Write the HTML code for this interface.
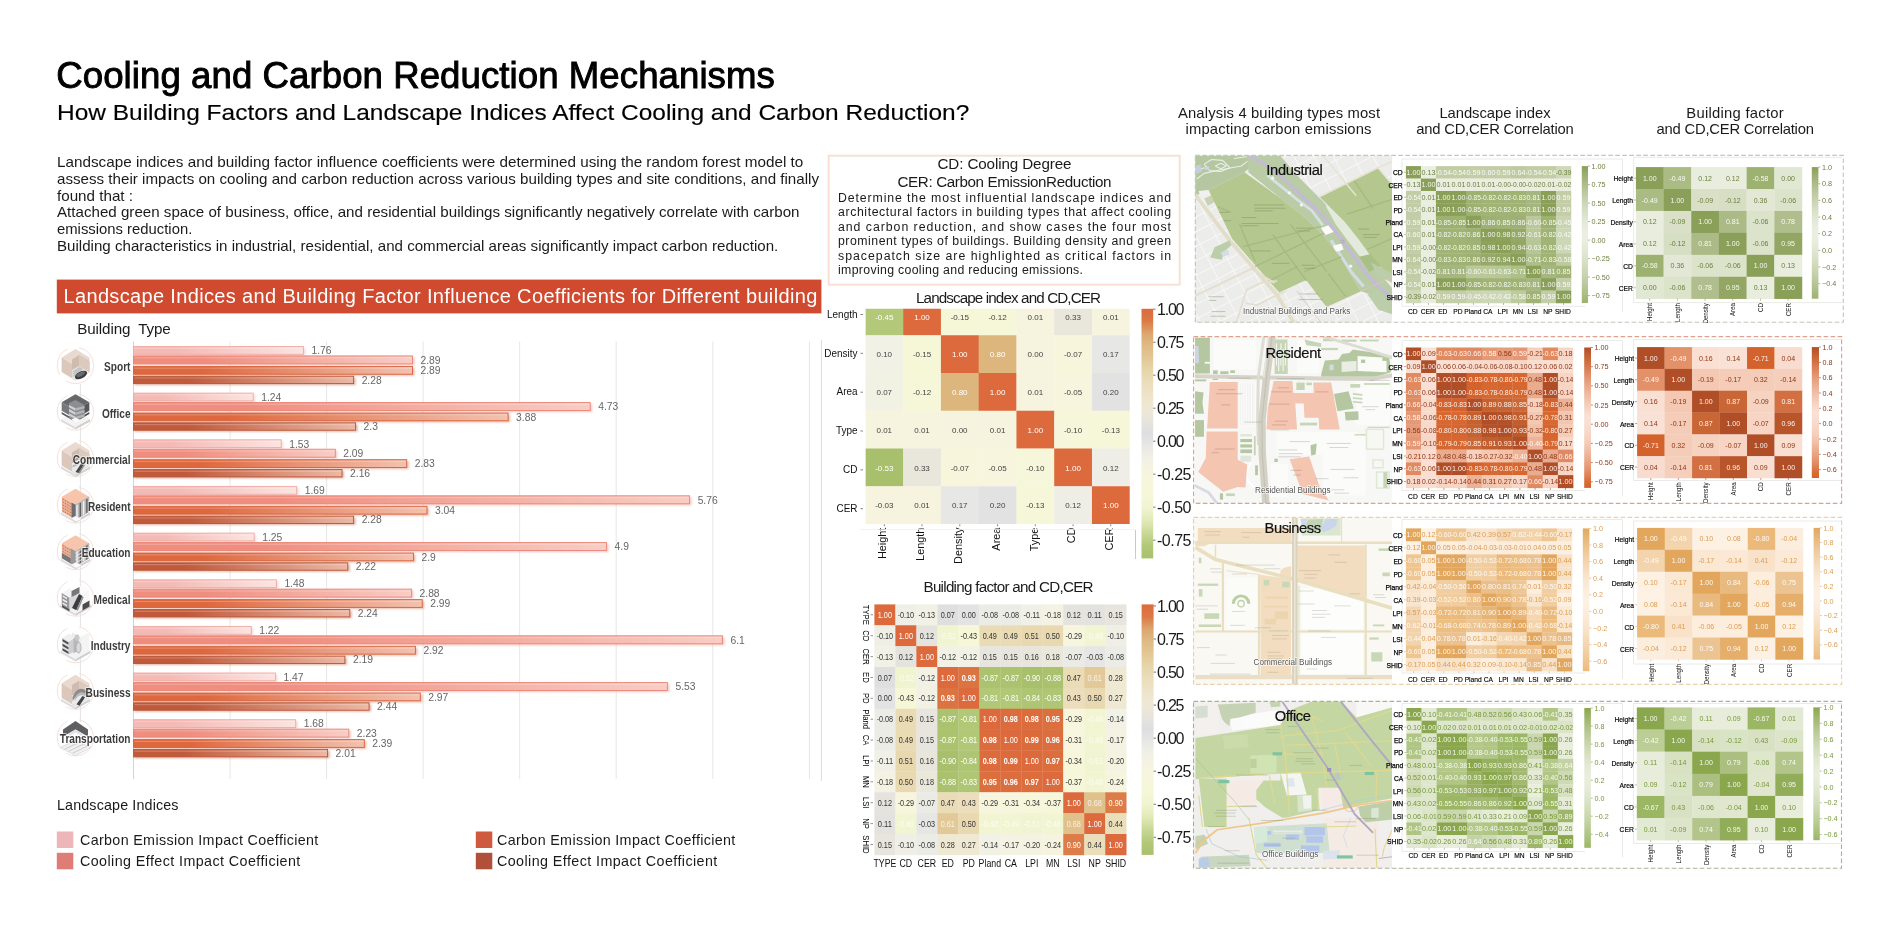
<!DOCTYPE html>
<html><head><meta charset="utf-8"><title>Cooling and Carbon Reduction Mechanisms</title>
<style>
html,body{margin:0;padding:0;background:#fff;}
body{width:1900px;height:927px;overflow:hidden;font-family:"Liberation Sans",sans-serif;}
svg{display:block;will-change:transform;font-family:"Liberation Sans",sans-serif;}
text{white-space:pre;}
</style></head><body>
<svg width="1900" height="927" viewBox="0 0 1900 927">
<text x="56.30" y="87.90" font-size="36.6" fill="#000" textLength="718.50" stroke="#000" stroke-width="0.95">Cooling and Carbon Reduction Mechanisms</text>
<text x="57.00" y="120.10" font-size="22.3" fill="#000" textLength="912.30" lengthAdjust="spacingAndGlyphs" stroke="#000" stroke-width="0.15">How Building Factors and Landscape Indices Affect Cooling and Carbon Reduction?</text>
<text x="57.00" y="166.80" font-size="14.3" fill="#1a1a1a" textLength="746.30" lengthAdjust="spacingAndGlyphs" >Landscape indices and building factor influence coefficients were determined using the random forest model to</text>
<text x="57.00" y="183.70" font-size="14.3" fill="#1a1a1a" textLength="762.00" lengthAdjust="spacingAndGlyphs" >assess their impacts on cooling and carbon reduction across various building types and site conditions, and finally</text>
<text x="57.00" y="200.50" font-size="14.3" fill="#1a1a1a" textLength="76.00" lengthAdjust="spacingAndGlyphs" >found that :</text>
<text x="57.00" y="217.40" font-size="14.3" fill="#1a1a1a" textLength="742.50" lengthAdjust="spacingAndGlyphs" >Attached green space of business, office, and residential buildings significantly negatively correlate with carbon</text>
<text x="57.00" y="234.20" font-size="14.3" fill="#1a1a1a" textLength="135.30" lengthAdjust="spacingAndGlyphs" >emissions reduction.</text>
<text x="57.00" y="250.60" font-size="14.3" fill="#1a1a1a" textLength="721.30" lengthAdjust="spacingAndGlyphs" >Building characteristics in industrial, residential, and commercial areas significantly impact carbon reduction.</text>
<rect x="56.8" y="279.6" width="764.6" height="33.8" fill="#cf4a2f"/>
<text x="63.50" y="302.60" font-size="20" fill="#fff" textLength="753.80" >Landscape Indices and Building Factor Influence Coefficients for Different building</text>
<text x="77.30" y="333.60" font-size="15.2" fill="#1a1a1a" textLength="93.40" >Building  Type</text>
<line x1="133.5" y1="341.5" x2="133.5" y2="779" stroke="#d4d4d4" stroke-width="1"/>
<line x1="230.1" y1="341.5" x2="230.1" y2="779" stroke="#e6e6e6" stroke-width="1"/>
<line x1="326.6" y1="341.5" x2="326.6" y2="779" stroke="#e6e6e6" stroke-width="1"/>
<line x1="423.1" y1="341.5" x2="423.1" y2="779" stroke="#e6e6e6" stroke-width="1"/>
<line x1="519.7" y1="341.5" x2="519.7" y2="779" stroke="#e6e6e6" stroke-width="1"/>
<line x1="616.2" y1="341.5" x2="616.2" y2="779" stroke="#e6e6e6" stroke-width="1"/>
<line x1="712.8" y1="341.5" x2="712.8" y2="779" stroke="#e6e6e6" stroke-width="1"/>
<line x1="809.4" y1="341.5" x2="809.4" y2="779" stroke="#e6e6e6" stroke-width="1"/>
<line x1="821.4" y1="340" x2="821.4" y2="781" stroke="#dcdcdc" stroke-width="1"/>
<line x1="80.4" y1="384" x2="80.4" y2="722" stroke="#dcdcdc" stroke-width="0.8"/>
<defs>
<linearGradient id="bg0" x1="0" x2="1" y1="0" y2="0"><stop offset="0" stop-color="#f4bab5"/><stop offset="0.25" stop-color="#f4bab5"/><stop offset="1" stop-color="#fbe4e1"/></linearGradient>
<linearGradient id="bg1" x1="0" x2="1" y1="0" y2="0"><stop offset="0" stop-color="#ef8d7e"/><stop offset="0.25" stop-color="#ef8d7e"/><stop offset="1" stop-color="#f8cdc5"/></linearGradient>
<linearGradient id="bg2" x1="0" x2="1" y1="0" y2="0"><stop offset="0" stop-color="#de683e"/><stop offset="0.25" stop-color="#de683e"/><stop offset="1" stop-color="#f2c2b0"/></linearGradient>
<linearGradient id="bg3" x1="0" x2="1" y1="0" y2="0"><stop offset="0" stop-color="#c05a3b"/><stop offset="0.25" stop-color="#c05a3b"/><stop offset="1" stop-color="#ecb8a5"/></linearGradient>
<filter id="sh" x="-5%" y="-50%" width="110%" height="220%"><feGaussianBlur stdDeviation="1.1"/></filter>
<filter id="blur1" x="-10%" y="-10%" width="120%" height="120%"><feGaussianBlur stdDeviation="0.5"/></filter>
</defs>
<rect x="134.5" y="348.0" width="170.9" height="7.8" fill="#f0aaa3" opacity="0.45" filter="url(#sh)"/>
<rect x="133.5" y="346.5" width="169.9" height="7.8" fill="url(#bg0)" stroke="#f0aaa3" stroke-width="0.9"/>
<rect x="134.5" y="347.7" width="167.9" height="1.2" fill="#fff" opacity="0.22"/>
<text x="311.43" y="354.20" font-size="10.3" fill="#666" >1.76</text>
<rect x="134.5" y="357.4" width="280.0" height="8.0" fill="#ec8577" opacity="0.45" filter="url(#sh)"/>
<rect x="133.5" y="355.9" width="279.0" height="8.0" fill="url(#bg1)" stroke="#ec8577" stroke-width="0.9"/>
<rect x="134.5" y="357.1" width="277.0" height="1.2" fill="#fff" opacity="0.22"/>
<text x="420.53" y="363.80" font-size="10.3" fill="#666" >2.89</text>
<rect x="134.5" y="367.9" width="280.0" height="7.8" fill="#d7603a" opacity="0.45" filter="url(#sh)"/>
<rect x="133.5" y="366.4" width="279.0" height="7.8" fill="url(#bg2)" stroke="#d7603a" stroke-width="0.9"/>
<rect x="134.5" y="367.6" width="277.0" height="1.2" fill="#fff" opacity="0.22"/>
<text x="420.53" y="374.10" font-size="10.3" fill="#666" >2.89</text>
<rect x="134.5" y="377.7" width="221.1" height="7.4" fill="#b85535" opacity="0.45" filter="url(#sh)"/>
<rect x="133.5" y="376.2" width="220.1" height="7.4" fill="url(#bg3)" stroke="#b85535" stroke-width="0.9"/>
<rect x="134.5" y="377.4" width="218.1" height="1.2" fill="#fff" opacity="0.22"/>
<text x="361.63" y="383.50" font-size="10.3" fill="#666" >2.28</text>
<circle cx="75.5" cy="365.40000000000003" r="18.2" fill="none" stroke="#f3dcd6" stroke-width="0.9" stroke-dasharray="38 9 30 12"/>
<g filter="url(#blur1)">
<polygon points="75.5,349.0 89.4,357.5 75.5,366.0 61.6,357.5" fill="#ead9ce" /><polygon points="61.6,357.5 75.5,366.0 75.5,380.6 61.6,372.1" fill="#dcc7bb" /><polygon points="89.4,357.5 75.5,366.0 75.5,380.6 89.4,372.1" fill="#e4d2c7" />
<polygon points="72.0,359.4 79.0,355.1 89.4,361.2 89.4,372.1 75.5,380.6 72.0,378.4" fill="#cfbbaf" />
<polygon points="79.0,355.1 89.4,361.2 89.4,372.1 79.0,366.2" fill="#dccabf" />
<polygon points="72.0,369.9 79.0,366.2 89.4,372.1 75.5,380.6 72.0,378.4" fill="#e9e9e9" />
<polygon points="72.5,370.9 79.5,367.0 83.5,369.2 72.5,372.4" fill="#c4c4c4" />
<polygon points="72.5,373.2 79.5,369.3 83.5,371.5 72.5,374.7" fill="#c4c4c4" />
<polygon points="72.5,375.5 79.5,371.6 83.5,373.8 72.5,377.0" fill="#c4c4c4" />
<ellipse cx="81.0" cy="375.00000000000006" rx="6.6" ry="3.4" fill="#3c3c3e" transform="rotate(-27 81.0 375.00000000000006)"/>
<ellipse cx="80.7" cy="374.20000000000005" rx="4.6" ry="2" fill="#6a6a6c" transform="rotate(-27 80.7 374.20000000000005)"/>
</g>
<text x="130.5" y="371.2" font-size="13.2" font-weight="bold" fill="#3c3c3c" text-anchor="end" textLength="26.4" lengthAdjust="spacingAndGlyphs" stroke="#fff" stroke-width="2" stroke-opacity="0.55" paint-order="stroke">Sport</text>
<rect x="134.5" y="394.6" width="120.7" height="7.8" fill="#f0aaa3" opacity="0.45" filter="url(#sh)"/>
<rect x="133.5" y="393.1" width="119.7" height="7.8" fill="url(#bg0)" stroke="#f0aaa3" stroke-width="0.9"/>
<rect x="134.5" y="394.3" width="117.7" height="1.2" fill="#fff" opacity="0.22"/>
<text x="261.22" y="400.85" font-size="10.3" fill="#666" >1.24</text>
<rect x="134.5" y="404.0" width="457.7" height="8.0" fill="#ec8577" opacity="0.45" filter="url(#sh)"/>
<rect x="133.5" y="402.5" width="456.7" height="8.0" fill="url(#bg1)" stroke="#ec8577" stroke-width="0.9"/>
<rect x="134.5" y="403.7" width="454.7" height="1.2" fill="#fff" opacity="0.22"/>
<text x="598.18" y="410.45" font-size="10.3" fill="#666" >4.73</text>
<rect x="134.5" y="414.5" width="375.6" height="7.8" fill="#d7603a" opacity="0.45" filter="url(#sh)"/>
<rect x="133.5" y="413.0" width="374.6" height="7.8" fill="url(#bg2)" stroke="#d7603a" stroke-width="0.9"/>
<rect x="134.5" y="414.2" width="372.6" height="1.2" fill="#fff" opacity="0.22"/>
<text x="516.11" y="420.75" font-size="10.3" fill="#666" >3.88</text>
<rect x="134.5" y="424.3" width="223.1" height="7.4" fill="#b85535" opacity="0.45" filter="url(#sh)"/>
<rect x="133.5" y="422.8" width="222.1" height="7.4" fill="url(#bg3)" stroke="#b85535" stroke-width="0.9"/>
<rect x="134.5" y="424.0" width="220.1" height="1.2" fill="#fff" opacity="0.22"/>
<text x="363.56" y="430.15" font-size="10.3" fill="#666" >2.3</text>
<circle cx="75.5" cy="411.93" r="18.2" fill="none" stroke="#f3dcd6" stroke-width="0.9" stroke-dasharray="38 9 30 12"/>
<g filter="url(#blur1)">
<polygon points="61.0,418.9 75.5,427.1 75.5,429.6 61.0,421.4" fill="#dcdcdc" /><polygon points="90.0,418.9 75.5,427.1 75.5,429.6 90.0,421.4" fill="#cfcfcf" /><polygon points="75.5,410.7 90.0,418.9 75.5,427.1 61.0,418.9" fill="#f3f3f3" />
<polygon points="75.5,394.3 89.3,402.3 75.5,410.3 61.7,402.3" fill="#66676b" /><polygon points="61.7,402.3 75.5,410.3 75.5,418.8 61.7,410.8" fill="#77787c" /><polygon points="89.3,402.3 75.5,410.3 75.5,418.8 89.3,410.8" fill="#56575b" />
<polygon points="61.7,411.9 75.5,419.9 75.5,421.9 61.7,413.9" fill="#5c5d60" />
<polygon points="89.3,411.9 75.5,419.9 75.5,421.9 89.3,413.9" fill="#4a4b4e" />
<polygon points="69.0,403.1 75.5,399.9 84.5,404.9 84.5,416.4 75.5,421.4 69.0,417.9" fill="#8d8e91" />
<polygon points="69.0,404.9 75.5,408.3 75.5,410.7 69.0,407.3" fill="#d2d2d4" />
<polygon points="84.5,405.9 75.5,408.3 75.5,410.7 84.5,408.3" fill="#b4b4b7" />
<polygon points="69.0,409.1 75.5,412.5 75.5,414.9 69.0,411.5" fill="#d2d2d4" />
<polygon points="84.5,410.1 75.5,412.5 75.5,414.9 84.5,412.5" fill="#b4b4b7" />
<polygon points="69.0,413.3 75.5,416.7 75.5,419.1 69.0,415.7" fill="#d2d2d4" />
<polygon points="84.5,414.3 75.5,416.7 75.5,419.1 84.5,416.7" fill="#b4b4b7" />
<polygon points="71.5,419.4 75.5,417.4 80.5,419.9 75.5,422.9" fill="#fafafa" />
</g>
<text x="130.5" y="417.7" font-size="13.2" font-weight="bold" fill="#3c3c3c" text-anchor="end" textLength="28.6" lengthAdjust="spacingAndGlyphs" stroke="#fff" stroke-width="2" stroke-opacity="0.55" paint-order="stroke">Office</text>
<rect x="134.5" y="441.3" width="148.7" height="7.8" fill="#f0aaa3" opacity="0.45" filter="url(#sh)"/>
<rect x="133.5" y="439.8" width="147.7" height="7.8" fill="url(#bg0)" stroke="#f0aaa3" stroke-width="0.9"/>
<rect x="134.5" y="441.0" width="145.7" height="1.2" fill="#fff" opacity="0.22"/>
<text x="289.22" y="447.50" font-size="10.3" fill="#666" >1.53</text>
<rect x="134.5" y="450.7" width="202.8" height="8.0" fill="#ec8577" opacity="0.45" filter="url(#sh)"/>
<rect x="133.5" y="449.2" width="201.8" height="8.0" fill="url(#bg1)" stroke="#ec8577" stroke-width="0.9"/>
<rect x="134.5" y="450.4" width="199.8" height="1.2" fill="#fff" opacity="0.22"/>
<text x="343.29" y="457.10" font-size="10.3" fill="#666" >2.09</text>
<rect x="134.5" y="461.2" width="274.2" height="7.8" fill="#d7603a" opacity="0.45" filter="url(#sh)"/>
<rect x="133.5" y="459.7" width="273.2" height="7.8" fill="url(#bg2)" stroke="#d7603a" stroke-width="0.9"/>
<rect x="134.5" y="460.9" width="271.2" height="1.2" fill="#fff" opacity="0.22"/>
<text x="414.74" y="467.40" font-size="10.3" fill="#666" >2.83</text>
<rect x="134.5" y="471.0" width="209.5" height="7.4" fill="#b85535" opacity="0.45" filter="url(#sh)"/>
<rect x="133.5" y="469.5" width="208.5" height="7.4" fill="url(#bg3)" stroke="#b85535" stroke-width="0.9"/>
<rect x="134.5" y="470.7" width="206.5" height="1.2" fill="#fff" opacity="0.22"/>
<text x="350.05" y="476.80" font-size="10.3" fill="#666" >2.16</text>
<circle cx="75.5" cy="458.46000000000004" r="18.2" fill="none" stroke="#f3dcd6" stroke-width="0.9" stroke-dasharray="38 9 30 12"/>
<g filter="url(#blur1)">
<polygon points="61.0,466.2 75.5,474.4 75.5,476.9 61.0,468.7" fill="#dcdcdc" /><polygon points="90.0,466.2 75.5,474.4 75.5,476.9 90.0,468.7" fill="#cfcfcf" /><polygon points="75.5,458.0 90.0,466.2 75.5,474.4 61.0,466.2" fill="#f3f3f3" />
<polygon points="75.5,442.1 89.4,450.6 75.5,459.1 61.6,450.6" fill="#ead9ce" /><polygon points="61.6,450.6 75.5,459.1 75.5,473.7 61.6,465.2" fill="#dcc7bb" /><polygon points="89.4,450.6 75.5,459.1 75.5,473.7 89.4,465.2" fill="#e4d2c7" />
<polygon points="72.0,452.5 79.0,448.2 89.4,454.3 89.4,465.2 75.5,473.7 72.0,471.5" fill="#cfbbaf" />
<polygon points="79.0,448.2 89.4,454.3 89.4,465.2 79.0,459.3" fill="#dccabf" />
<polygon points="72.0,463.0 79.0,459.3 89.4,465.2 75.5,473.7 72.0,471.5" fill="#e9e9e9" />
<polygon points="72.5,460.5 78.5,457.5 78.5,459.5 72.5,462.5" fill="#9c9c9e" />
<polygon points="72.5,465.5 78.5,462.5 78.5,464.5 72.5,467.5" fill="#b5b5b7" />
<polygon points="75.5,472.0 81.5,463.0 84.0,464.3 78.7,473.0" fill="#4a4a4c" />
<polygon points="78.5,472.5 84.0,464.5 85.0,465.1 79.9,473.3" fill="#8a8a8c" />
</g>
<text x="130.5" y="464.3" font-size="13.2" font-weight="bold" fill="#3c3c3c" text-anchor="end" textLength="57.8" lengthAdjust="spacingAndGlyphs" stroke="#fff" stroke-width="2" stroke-opacity="0.55" paint-order="stroke">Commercial</text>
<rect x="134.5" y="487.9" width="164.2" height="7.8" fill="#f0aaa3" opacity="0.45" filter="url(#sh)"/>
<rect x="133.5" y="486.4" width="163.2" height="7.8" fill="url(#bg0)" stroke="#f0aaa3" stroke-width="0.9"/>
<rect x="134.5" y="487.6" width="161.2" height="1.2" fill="#fff" opacity="0.22"/>
<text x="304.67" y="494.15" font-size="10.3" fill="#666" >1.69</text>
<rect x="134.5" y="497.3" width="557.1" height="8.0" fill="#ec8577" opacity="0.45" filter="url(#sh)"/>
<rect x="133.5" y="495.8" width="556.1" height="8.0" fill="url(#bg1)" stroke="#ec8577" stroke-width="0.9"/>
<rect x="134.5" y="497.0" width="554.1" height="1.2" fill="#fff" opacity="0.22"/>
<text x="697.63" y="503.75" font-size="10.3" fill="#666" >5.76</text>
<rect x="134.5" y="507.8" width="294.5" height="7.8" fill="#d7603a" opacity="0.45" filter="url(#sh)"/>
<rect x="133.5" y="506.3" width="293.5" height="7.8" fill="url(#bg2)" stroke="#d7603a" stroke-width="0.9"/>
<rect x="134.5" y="507.5" width="291.5" height="1.2" fill="#fff" opacity="0.22"/>
<text x="435.01" y="514.05" font-size="10.3" fill="#666" >3.04</text>
<rect x="134.5" y="517.6" width="221.1" height="7.4" fill="#b85535" opacity="0.45" filter="url(#sh)"/>
<rect x="133.5" y="516.1" width="220.1" height="7.4" fill="url(#bg3)" stroke="#b85535" stroke-width="0.9"/>
<rect x="134.5" y="517.4" width="218.1" height="1.2" fill="#fff" opacity="0.22"/>
<text x="361.63" y="523.45" font-size="10.3" fill="#666" >2.28</text>
<circle cx="75.5" cy="504.99000000000007" r="18.2" fill="none" stroke="#f3dcd6" stroke-width="0.9" stroke-dasharray="38 9 30 12"/>
<g filter="url(#blur1)">
<polygon points="61.0,512.2 75.5,520.4 75.5,522.9 61.0,514.7" fill="#dcdcdc" /><polygon points="90.0,512.2 75.5,520.4 75.5,522.9 90.0,514.7" fill="#cfcfcf" /><polygon points="75.5,504.0 90.0,512.2 75.5,520.4 61.0,512.2" fill="#f3f3f3" />
<polygon points="75.5,488.8 89.1,496.8 75.5,504.8 61.9,496.8" fill="#f6c5ab" /><polygon points="61.9,496.8 75.5,504.8 75.5,519.8 61.9,511.8" fill="#eeb094" /><polygon points="89.1,496.8 75.5,504.8 75.5,519.8 89.1,511.8" fill="#8a8a8c" />
<polygon points="75.5,504.8 89.1,496.8 89.1,511.8 75.5,519.8" fill="#b9b9bb" />
<polygon points="76.3,505.2 77.7,504.4 77.7,518.2 76.3,519.0" fill="#f2f2f2" />
<polygon points="79.6,503.2 81.0,502.4 81.0,516.2 79.6,517.0" fill="#5e5e60" />
<polygon points="82.9,501.3 84.3,500.5 84.3,514.3 82.9,515.1" fill="#f2f2f2" />
<polygon points="86.2,499.3 87.6,498.5 87.6,512.3 86.2,513.1" fill="#5e5e60" />
<polygon points="71.5,502.4 75.5,504.8 75.5,519.8 71.5,517.4" fill="#6e6e70" />
<line x1="62.5" y1="499.0" x2="71.0" y2="504.1" stroke="#b67a62" stroke-width="1.0" stroke-dasharray="1.6 1.1"/>
<line x1="62.5" y1="501.9" x2="71.0" y2="507.0" stroke="#b67a62" stroke-width="1.0" stroke-dasharray="1.6 1.1"/>
<line x1="62.5" y1="504.8" x2="71.0" y2="509.9" stroke="#b67a62" stroke-width="1.0" stroke-dasharray="1.6 1.1"/>
<line x1="62.5" y1="507.7" x2="71.0" y2="512.8" stroke="#b67a62" stroke-width="1.0" stroke-dasharray="1.6 1.1"/>
<line x1="62.5" y1="510.6" x2="71.0" y2="515.7" stroke="#b67a62" stroke-width="1.0" stroke-dasharray="1.6 1.1"/>
<polygon points="71.5,518.0 75.5,516.0 81.5,519.0 76.5,521.6" fill="#fafafa" />
</g>
<text x="130.5" y="510.8" font-size="13.2" font-weight="bold" fill="#3c3c3c" text-anchor="end" textLength="42.6" lengthAdjust="spacingAndGlyphs" stroke="#fff" stroke-width="2" stroke-opacity="0.55" paint-order="stroke">Resident</text>
<rect x="134.5" y="534.6" width="121.7" height="7.8" fill="#f0aaa3" opacity="0.45" filter="url(#sh)"/>
<rect x="133.5" y="533.1" width="120.7" height="7.8" fill="url(#bg0)" stroke="#f0aaa3" stroke-width="0.9"/>
<rect x="134.5" y="534.3" width="118.7" height="1.2" fill="#fff" opacity="0.22"/>
<text x="262.19" y="540.80" font-size="10.3" fill="#666" >1.25</text>
<rect x="134.5" y="544.0" width="474.1" height="8.0" fill="#ec8577" opacity="0.45" filter="url(#sh)"/>
<rect x="133.5" y="542.5" width="473.1" height="8.0" fill="url(#bg1)" stroke="#ec8577" stroke-width="0.9"/>
<rect x="134.5" y="543.7" width="471.1" height="1.2" fill="#fff" opacity="0.22"/>
<text x="614.60" y="550.40" font-size="10.3" fill="#666" >4.9</text>
<rect x="134.5" y="554.5" width="281.0" height="7.8" fill="#d7603a" opacity="0.45" filter="url(#sh)"/>
<rect x="133.5" y="553.0" width="280.0" height="7.8" fill="url(#bg2)" stroke="#d7603a" stroke-width="0.9"/>
<rect x="134.5" y="554.2" width="278.0" height="1.2" fill="#fff" opacity="0.22"/>
<text x="421.50" y="560.70" font-size="10.3" fill="#666" >2.9</text>
<rect x="134.5" y="564.3" width="215.3" height="7.4" fill="#b85535" opacity="0.45" filter="url(#sh)"/>
<rect x="133.5" y="562.8" width="214.3" height="7.4" fill="url(#bg3)" stroke="#b85535" stroke-width="0.9"/>
<rect x="134.5" y="564.0" width="212.3" height="1.2" fill="#fff" opacity="0.22"/>
<text x="355.84" y="570.10" font-size="10.3" fill="#666" >2.22</text>
<circle cx="75.5" cy="551.52" r="18.2" fill="none" stroke="#f3dcd6" stroke-width="0.9" stroke-dasharray="38 9 30 12"/>
<g filter="url(#blur1)">
<polygon points="61.0,558.7 75.5,566.9 75.5,569.4 61.0,561.2" fill="#dcdcdc" /><polygon points="90.0,558.7 75.5,566.9 75.5,569.4 90.0,561.2" fill="#cfcfcf" /><polygon points="75.5,550.5 90.0,558.7 75.5,566.9 61.0,558.7" fill="#f3f3f3" />
<polygon points="75.5,535.3 89.1,543.3 75.5,551.3 61.9,543.3" fill="#f6c5ab" /><polygon points="61.9,543.3 75.5,551.3 75.5,566.3 61.9,558.3" fill="#eeb094" /><polygon points="89.1,543.3 75.5,551.3 75.5,566.3 89.1,558.3" fill="#8a8a8c" />
<polygon points="75.5,551.3 89.1,543.3 89.1,558.3 75.5,566.3" fill="#b9b9bb" />
<polygon points="76.3,551.7 77.7,550.9 77.7,564.7 76.3,565.5" fill="#f2f2f2" />
<polygon points="79.6,549.8 81.0,549.0 81.0,562.8 79.6,563.6" fill="#5e5e60" />
<polygon points="82.9,547.8 84.3,547.0 84.3,560.8 82.9,561.6" fill="#f2f2f2" />
<polygon points="86.2,545.9 87.6,545.1 87.6,558.9 86.2,559.7" fill="#5e5e60" />
<polygon points="61.9,553.0 75.5,561.0 75.5,566.3 61.9,558.3" fill="#77777a" />
<polygon points="70.5,548.3 75.5,551.3 75.5,566.3 70.5,563.3" fill="#9a9a9c" />
<line x1="62.5" y1="545.5" x2="70.0" y2="550.0" stroke="#b67a62" stroke-width="1.0" stroke-dasharray="1.6 1.1"/>
<line x1="62.5" y1="548.4" x2="70.0" y2="552.9" stroke="#b67a62" stroke-width="1.0" stroke-dasharray="1.6 1.1"/>
<line x1="62.5" y1="551.3" x2="70.0" y2="555.8" stroke="#b67a62" stroke-width="1.0" stroke-dasharray="1.6 1.1"/>
<polygon points="75.5,552.5 85.5,546.6 85.5,547.6 75.5,553.5" fill="#e4e4e4" />
<polygon points="75.5,555.9 85.5,550.0 85.5,551.0 75.5,556.9" fill="#e4e4e4" />
<polygon points="75.5,559.3 85.5,553.4 85.5,554.4 75.5,560.3" fill="#e4e4e4" />
<polygon points="75.5,562.7 85.5,556.8 85.5,557.8 75.5,563.7" fill="#e4e4e4" />
<polygon points="71.5,564.5 75.5,562.5 81.5,565.5 76.5,568.1" fill="#fafafa" />
</g>
<text x="130.5" y="557.3" font-size="13.2" font-weight="bold" fill="#3c3c3c" text-anchor="end" textLength="48.8" lengthAdjust="spacingAndGlyphs" stroke="#fff" stroke-width="2" stroke-opacity="0.55" paint-order="stroke">Education</text>
<rect x="134.5" y="581.2" width="143.9" height="7.8" fill="#f0aaa3" opacity="0.45" filter="url(#sh)"/>
<rect x="133.5" y="579.8" width="142.9" height="7.8" fill="url(#bg0)" stroke="#f0aaa3" stroke-width="0.9"/>
<rect x="134.5" y="581.0" width="140.9" height="1.2" fill="#fff" opacity="0.22"/>
<text x="284.39" y="587.45" font-size="10.3" fill="#666" >1.48</text>
<rect x="134.5" y="590.6" width="279.1" height="8.0" fill="#ec8577" opacity="0.45" filter="url(#sh)"/>
<rect x="133.5" y="589.1" width="278.1" height="8.0" fill="url(#bg1)" stroke="#ec8577" stroke-width="0.9"/>
<rect x="134.5" y="590.4" width="276.1" height="1.2" fill="#fff" opacity="0.22"/>
<text x="419.56" y="597.05" font-size="10.3" fill="#666" >2.88</text>
<rect x="134.5" y="601.1" width="289.7" height="7.8" fill="#d7603a" opacity="0.45" filter="url(#sh)"/>
<rect x="133.5" y="599.6" width="288.7" height="7.8" fill="url(#bg2)" stroke="#d7603a" stroke-width="0.9"/>
<rect x="134.5" y="600.9" width="286.7" height="1.2" fill="#fff" opacity="0.22"/>
<text x="430.18" y="607.35" font-size="10.3" fill="#666" >2.99</text>
<rect x="134.5" y="611.0" width="217.3" height="7.4" fill="#b85535" opacity="0.45" filter="url(#sh)"/>
<rect x="133.5" y="609.5" width="216.3" height="7.4" fill="url(#bg3)" stroke="#b85535" stroke-width="0.9"/>
<rect x="134.5" y="610.7" width="214.3" height="1.2" fill="#fff" opacity="0.22"/>
<text x="357.77" y="616.75" font-size="10.3" fill="#666" >2.24</text>
<circle cx="75.5" cy="598.05" r="18.2" fill="none" stroke="#f3dcd6" stroke-width="0.9" stroke-dasharray="38 9 30 12"/>
<g filter="url(#blur1)">
<polygon points="60.0,604.8 75.5,613.4 75.5,615.9 60.0,607.3" fill="#dcdcdc" /><polygon points="91.0,604.8 75.5,613.4 75.5,615.9 91.0,607.3" fill="#cfcfcf" /><polygon points="75.5,596.2 91.0,604.8 75.5,613.4 60.0,604.8" fill="#f3f3f3" />
<polygon points="81.5,585.5 89.0,589.9 81.5,594.3 74.0,589.9" fill="#fbfbfb" /><polygon points="74.0,589.9 81.5,594.3 81.5,607.3 74.0,602.9" fill="#e9e9e9" /><polygon points="89.0,589.9 81.5,594.3 81.5,607.3 89.0,602.9" fill="#f6f6f6" />
<polygon points="69.5,588.5 77.3,593.1 69.5,597.8 61.7,593.1" fill="#f4f4f4" /><polygon points="61.7,593.1 69.5,597.8 69.5,609.8 61.7,605.1" fill="#9a9a9c" /><polygon points="77.3,593.1 69.5,597.8 69.5,609.8 77.3,605.1" fill="#d8d8da" />
<polygon points="62.7,595.2 67.0,597.8 67.0,599.3 62.7,596.8" fill="#f2f2f2" />
<polygon points="62.7,598.8 67.0,601.3 67.0,602.9 62.7,600.4" fill="#f2f2f2" />
<polygon points="62.7,602.4 67.0,604.9 67.0,606.5 62.7,604.0" fill="#f2f2f2" />
<polygon points="71.5,591.0 79.5,587.0 79.5,593.0 71.5,597.0" fill="#77777a" />
<polygon points="72.0,608.0 79.0,594.0 82.5,596.0 76.3,610.3" fill="#3e3e40" />
<polygon points="76.5,610.0 82.5,596.4 83.7,597.0 77.9,610.8" fill="#8c8c8e" />
<polygon points="82.5,604.5 89.5,600.5 89.5,606.5 82.5,610.5" fill="#4c4c4e" />
<polygon points="62.0,605.0 69.5,609.2 69.5,611.4 62.0,607.2" fill="#555557" />
</g>
<text x="130.5" y="603.9" font-size="13.2" font-weight="bold" fill="#3c3c3c" text-anchor="end" textLength="37.0" lengthAdjust="spacingAndGlyphs" stroke="#fff" stroke-width="2" stroke-opacity="0.55" paint-order="stroke">Medical</text>
<rect x="134.5" y="627.9" width="118.8" height="7.8" fill="#f0aaa3" opacity="0.45" filter="url(#sh)"/>
<rect x="133.5" y="626.4" width="117.8" height="7.8" fill="url(#bg0)" stroke="#f0aaa3" stroke-width="0.9"/>
<rect x="134.5" y="627.6" width="115.8" height="1.2" fill="#fff" opacity="0.22"/>
<text x="259.29" y="634.10" font-size="10.3" fill="#666" >1.22</text>
<rect x="134.5" y="637.3" width="590.0" height="8.0" fill="#ec8577" opacity="0.45" filter="url(#sh)"/>
<rect x="133.5" y="635.8" width="589.0" height="8.0" fill="url(#bg1)" stroke="#ec8577" stroke-width="0.9"/>
<rect x="134.5" y="637.0" width="587.0" height="1.2" fill="#fff" opacity="0.22"/>
<text x="730.45" y="643.70" font-size="10.3" fill="#666" >6.1</text>
<rect x="134.5" y="647.8" width="282.9" height="7.8" fill="#d7603a" opacity="0.45" filter="url(#sh)"/>
<rect x="133.5" y="646.3" width="281.9" height="7.8" fill="url(#bg2)" stroke="#d7603a" stroke-width="0.9"/>
<rect x="134.5" y="647.5" width="279.9" height="1.2" fill="#fff" opacity="0.22"/>
<text x="423.43" y="654.00" font-size="10.3" fill="#666" >2.92</text>
<rect x="134.5" y="657.6" width="212.4" height="7.4" fill="#b85535" opacity="0.45" filter="url(#sh)"/>
<rect x="133.5" y="656.1" width="211.4" height="7.4" fill="url(#bg3)" stroke="#b85535" stroke-width="0.9"/>
<rect x="134.5" y="657.3" width="209.4" height="1.2" fill="#fff" opacity="0.22"/>
<text x="352.94" y="663.40" font-size="10.3" fill="#666" >2.19</text>
<circle cx="75.5" cy="644.5799999999999" r="18.2" fill="none" stroke="#f3dcd6" stroke-width="0.9" stroke-dasharray="38 9 30 12"/>
<g filter="url(#blur1)">
<polygon points="60.5,650.5 75.5,658.9 75.5,661.4 60.5,653.0" fill="#dcdcdc" /><polygon points="90.5,650.5 75.5,658.9 75.5,661.4 90.5,653.0" fill="#cfcfcf" /><polygon points="75.5,642.1 90.5,650.5 75.5,658.9 60.5,650.5" fill="#f3f3f3" />
<polygon points="80.5,627.6 89.0,632.6 80.5,637.6 72.0,632.6" fill="#fdfdfd" /><polygon points="72.0,632.6 80.5,637.6 80.5,654.6 72.0,649.6" fill="#ebebeb" /><polygon points="89.0,632.6 80.5,637.6 80.5,654.6 89.0,649.6" fill="#f4f4f4" />
<polygon points="69.0,633.6 75.8,637.6 69.0,641.6 62.2,637.6" fill="#f0f0f0" /><polygon points="62.2,637.6 69.0,641.6 69.0,654.6 62.2,650.6" fill="#dedede" /><polygon points="75.8,637.6 69.0,641.6 69.0,654.6 75.8,650.6" fill="#cfcfd1" />
<polygon points="62.5,639.1 68.5,642.6 68.5,644.8 62.5,641.3" fill="#4e4e50" />
<polygon points="62.5,643.7 68.5,647.2 68.5,649.4 62.5,645.9" fill="#4e4e50" />
<polygon points="62.5,648.3 68.5,651.8 68.5,654.0 62.5,650.5" fill="#4e4e50" />
<polygon points="73.5,638.6 78.5,635.6 78.5,650.6 73.5,653.6" fill="#b9b9bb" />
<ellipse cx="78.5" cy="647.5799999999999" rx="2.6" ry="5.4" fill="#d9d9db" stroke="#9a9a9c" stroke-width="0.6"/>
<ellipse cx="77.0" cy="637.5799999999999" rx="2.4" ry="3.2" fill="#c9c9cb"/>
</g>
<text x="130.5" y="650.4" font-size="13.2" font-weight="bold" fill="#3c3c3c" text-anchor="end" textLength="39.8" lengthAdjust="spacingAndGlyphs" stroke="#fff" stroke-width="2" stroke-opacity="0.55" paint-order="stroke">Industry</text>
<rect x="134.5" y="674.5" width="142.9" height="7.8" fill="#f0aaa3" opacity="0.45" filter="url(#sh)"/>
<rect x="133.5" y="673.0" width="141.9" height="7.8" fill="url(#bg0)" stroke="#f0aaa3" stroke-width="0.9"/>
<rect x="134.5" y="674.2" width="139.9" height="1.2" fill="#fff" opacity="0.22"/>
<text x="283.43" y="680.75" font-size="10.3" fill="#666" >1.47</text>
<rect x="134.5" y="684.0" width="534.9" height="8.0" fill="#ec8577" opacity="0.45" filter="url(#sh)"/>
<rect x="133.5" y="682.5" width="533.9" height="8.0" fill="url(#bg1)" stroke="#ec8577" stroke-width="0.9"/>
<rect x="134.5" y="683.7" width="531.9" height="1.2" fill="#fff" opacity="0.22"/>
<text x="675.42" y="690.35" font-size="10.3" fill="#666" >5.53</text>
<rect x="134.5" y="694.5" width="287.8" height="7.8" fill="#d7603a" opacity="0.45" filter="url(#sh)"/>
<rect x="133.5" y="693.0" width="286.8" height="7.8" fill="url(#bg2)" stroke="#d7603a" stroke-width="0.9"/>
<rect x="134.5" y="694.2" width="284.8" height="1.2" fill="#fff" opacity="0.22"/>
<text x="428.25" y="700.65" font-size="10.3" fill="#666" >2.97</text>
<rect x="134.5" y="704.2" width="236.6" height="7.4" fill="#b85535" opacity="0.45" filter="url(#sh)"/>
<rect x="133.5" y="702.8" width="235.6" height="7.4" fill="url(#bg3)" stroke="#b85535" stroke-width="0.9"/>
<rect x="134.5" y="704.0" width="233.6" height="1.2" fill="#fff" opacity="0.22"/>
<text x="377.08" y="710.05" font-size="10.3" fill="#666" >2.44</text>
<circle cx="75.5" cy="691.11" r="18.2" fill="none" stroke="#f3dcd6" stroke-width="0.9" stroke-dasharray="38 9 30 12"/>
<g filter="url(#blur1)">
<polygon points="61.0,698.8 75.5,707.0 75.5,709.5 61.0,701.3" fill="#dcdcdc" /><polygon points="90.0,698.8 75.5,707.0 75.5,709.5 90.0,701.3" fill="#cfcfcf" /><polygon points="75.5,690.6 90.0,698.8 75.5,707.0 61.0,698.8" fill="#f3f3f3" />
<polygon points="75.5,674.7 89.4,683.2 75.5,691.7 61.6,683.2" fill="#ead9ce" /><polygon points="61.6,683.2 75.5,691.7 75.5,706.3 61.6,697.8" fill="#dcc7bb" /><polygon points="89.4,683.2 75.5,691.7 75.5,706.3 89.4,697.8" fill="#e4d2c7" />
<polygon points="72.0,685.1 79.0,680.8 89.4,686.9 89.4,697.8 75.5,706.3 72.0,704.1" fill="#cfbbaf" />
<polygon points="79.0,680.8 89.4,686.9 89.4,697.8 79.0,691.9" fill="#dccabf" />
<polygon points="72.0,695.6 79.0,691.9 89.4,697.8 75.5,706.3 72.0,704.1" fill="#e9e9e9" />
<path d="M72.5,697.11 Q78.5,684.11 87.5,691.61 L87.5,695.11 Q79.5,688.61 72.5,701.11 Z" fill="#8b8b8d"/>
<path d="M74.5,698.11 Q79.5,689.11 86.0,694.11 L86.0,696.61 Q79.5,692.11 74.5,701.11 Z" fill="#b9b9bb"/>
<polygon points="76.5,704.3 82.5,695.9 85.0,697.3 79.5,705.7" fill="#454547" />
</g>
<text x="130.5" y="696.9" font-size="13.2" font-weight="bold" fill="#3c3c3c" text-anchor="end" textLength="44.9" lengthAdjust="spacingAndGlyphs" stroke="#fff" stroke-width="2" stroke-opacity="0.55" paint-order="stroke">Business</text>
<rect x="134.5" y="721.2" width="163.2" height="7.8" fill="#f0aaa3" opacity="0.45" filter="url(#sh)"/>
<rect x="133.5" y="719.7" width="162.2" height="7.8" fill="url(#bg0)" stroke="#f0aaa3" stroke-width="0.9"/>
<rect x="134.5" y="720.9" width="160.2" height="1.2" fill="#fff" opacity="0.22"/>
<text x="303.70" y="727.40" font-size="10.3" fill="#666" >1.68</text>
<rect x="134.5" y="730.6" width="216.3" height="8.0" fill="#ec8577" opacity="0.45" filter="url(#sh)"/>
<rect x="133.5" y="729.1" width="215.3" height="8.0" fill="url(#bg1)" stroke="#ec8577" stroke-width="0.9"/>
<rect x="134.5" y="730.3" width="213.3" height="1.2" fill="#fff" opacity="0.22"/>
<text x="356.81" y="737.00" font-size="10.3" fill="#666" >2.23</text>
<rect x="134.5" y="741.1" width="231.8" height="7.8" fill="#d7603a" opacity="0.45" filter="url(#sh)"/>
<rect x="133.5" y="739.6" width="230.8" height="7.8" fill="url(#bg2)" stroke="#d7603a" stroke-width="0.9"/>
<rect x="134.5" y="740.8" width="228.8" height="1.2" fill="#fff" opacity="0.22"/>
<text x="372.25" y="747.30" font-size="10.3" fill="#666" >2.39</text>
<rect x="134.5" y="750.9" width="195.1" height="7.4" fill="#b85535" opacity="0.45" filter="url(#sh)"/>
<rect x="133.5" y="749.4" width="194.1" height="7.4" fill="url(#bg3)" stroke="#b85535" stroke-width="0.9"/>
<rect x="134.5" y="750.6" width="192.1" height="1.2" fill="#fff" opacity="0.22"/>
<text x="335.57" y="756.70" font-size="10.3" fill="#666" >2.01</text>
<circle cx="75.5" cy="737.64" r="18.2" fill="none" stroke="#f3dcd6" stroke-width="0.9" stroke-dasharray="38 9 30 12"/>
<g filter="url(#blur1)">
<polygon points="75.5,740.1 91.0,747.6 75.5,755.6 60.0,747.6" fill="#f0f0f0" stroke="#c9c9c9" stroke-width="0.5"/>
<line x1="64.5" y1="749.4" x2="79.5" y2="742.2" stroke="#c4c4c4" stroke-width="0.8"/>
<line x1="68.5" y1="751.3" x2="83.5" y2="744.1" stroke="#c4c4c4" stroke-width="0.8"/>
<line x1="72.5" y1="753.2" x2="87.5" y2="746.0" stroke="#c4c4c4" stroke-width="0.8"/>
<polygon points="75.5,721.1 88.0,729.6 88.0,736.6 82.5,733.6 75.5,729.6 68.5,733.4 63.0,736.6 63.0,729.6" fill="#5e5f62" />
<polygon points="68.5,733.4 75.5,729.6 82.5,733.6 82.5,736.6 75.5,732.6 68.5,736.6" fill="#e2e2e2" />
</g>
<text x="130.5" y="743.4" font-size="13.2" font-weight="bold" fill="#3c3c3c" text-anchor="end" textLength="70.7" lengthAdjust="spacingAndGlyphs" stroke="#fff" stroke-width="2" stroke-opacity="0.55" paint-order="stroke">Transportation</text>
<text x="57.00" y="809.70" font-size="14.3" fill="#1a1a1a" textLength="121.50" >Landscape Indices</text>
<rect x="56.8" y="831.5" width="16.5" height="16.5" fill="#edb6b8"/>
<text x="80.00" y="844.70" font-size="14.3" fill="#1a1a1a" textLength="238.30" >Carbon Emission Impact Coefficient</text>
<rect x="56.8" y="852.8" width="16.5" height="16.5" fill="#e07c76"/>
<text x="80.00" y="866.00" font-size="14.3" fill="#1a1a1a" textLength="220.30" >Cooling Effect Impact Coefficient</text>
<rect x="475.8" y="831.5" width="16.5" height="16.5" fill="#cf5a3f"/>
<text x="497.00" y="844.70" font-size="14.3" fill="#1a1a1a" textLength="238.30" >Carbon Emission Impact Coefficient</text>
<rect x="475.8" y="852.8" width="16.5" height="16.5" fill="#b04f3a"/>
<text x="497.00" y="866.00" font-size="14.3" fill="#1a1a1a" textLength="220.30" >Cooling Effect Impact Coefficient</text>
<defs><linearGradient id="cb1" x1="0" y1="0" x2="0" y2="1"><stop offset="0.000" stop-color="#dc6a3c"/><stop offset="0.050" stop-color="#dc7a46"/><stop offset="0.100" stop-color="#dca76f"/><stop offset="0.150" stop-color="#dfbb85"/><stop offset="0.200" stop-color="#e3c896"/><stop offset="0.250" stop-color="#e7d6ab"/><stop offset="0.300" stop-color="#ecdebc"/><stop offset="0.350" stop-color="#eee4ca"/><stop offset="0.400" stop-color="#eee8d6"/><stop offset="0.450" stop-color="#e7e4dd"/><stop offset="0.500" stop-color="#dedde1"/><stop offset="0.550" stop-color="#e8e8e5"/><stop offset="0.600" stop-color="#f2f1e5"/><stop offset="0.650" stop-color="#f6f3df"/><stop offset="0.700" stop-color="#f7f6dc"/><stop offset="0.750" stop-color="#f5f7d7"/><stop offset="0.800" stop-color="#f0f4cf"/><stop offset="0.850" stop-color="#e0e9b6"/><stop offset="0.900" stop-color="#c8d896"/><stop offset="0.950" stop-color="#b2c878"/><stop offset="1.000" stop-color="#a8c06b"/></linearGradient></defs>
<rect x="828.7" y="155.7" width="351" height="129" fill="#fff" stroke="#f8dfd1" stroke-width="1.9"/>
<text x="1004.50" y="169.30" font-size="15.2" fill="#1a1a1a" text-anchor="middle" textLength="134">CD: Cooling Degree</text>
<text x="1004.50" y="187.20" font-size="15.2" fill="#1a1a1a" text-anchor="middle" textLength="214">CER: Carbon EmissionReduction</text>
<text x="838.00" y="202.00" font-size="12.3" fill="#1a1a1a" textLength="333.00" >Determine the most influential landscape indices and</text>
<text x="838.00" y="216.42" font-size="12.3" fill="#1a1a1a" textLength="333.00" >architectural factors in building types that affect cooling</text>
<text x="838.00" y="230.84" font-size="12.3" fill="#1a1a1a" textLength="333.00" >and carbon reduction, and show cases the four most</text>
<text x="838.00" y="245.26" font-size="12.3" fill="#1a1a1a" textLength="333.00" >prominent types of buildings. Building density and green</text>
<text x="838.00" y="259.68" font-size="12.3" fill="#1a1a1a" textLength="333.00" >spacepatch size are highlighted as critical factors in</text>
<text x="838.00" y="274.10" font-size="12.3" fill="#1a1a1a" textLength="245.00" >improving cooling and reducing emissions.</text>
<text x="1008.50" y="302.60" font-size="15.2" fill="#1a1a1a" text-anchor="middle" textLength="185">Landscape index and CD,CER</text>
<clipPath id="cp1"><rect x="865.4" y="308.8" width="264.3" height="215.2"/></clipPath>
<g clip-path="url(#cp1)">
<rect x="865.40" y="297.50" width="38.06" height="38.05" fill="#b3c979"/>
<rect x="903.16" y="297.50" width="38.06" height="38.05" fill="#dc6a3c"/>
<rect x="940.92" y="297.50" width="38.06" height="38.05" fill="#f5f7d7"/>
<rect x="978.68" y="297.50" width="38.06" height="38.05" fill="#f6f7d9"/>
<rect x="1016.44" y="297.50" width="38.06" height="38.05" fill="#f6f3df"/>
<rect x="1054.20" y="297.50" width="38.06" height="38.05" fill="#e9e6dc"/>
<rect x="1091.96" y="297.50" width="38.06" height="38.05" fill="#f6f3df"/>
<rect x="865.40" y="335.25" width="38.06" height="38.05" fill="#f1f1e6"/>
<rect x="903.16" y="335.25" width="38.06" height="38.05" fill="#f5f7d7"/>
<rect x="940.92" y="335.25" width="38.06" height="38.05" fill="#dc6a3c"/>
<rect x="978.68" y="335.25" width="38.06" height="38.05" fill="#ddb67e"/>
<rect x="1016.44" y="335.25" width="38.06" height="38.05" fill="#f6f3df"/>
<rect x="1054.20" y="335.25" width="38.06" height="38.05" fill="#f7f6dc"/>
<rect x="1091.96" y="335.25" width="38.06" height="38.05" fill="#e7e7e5"/>
<rect x="865.40" y="373.00" width="38.06" height="38.05" fill="#f2f2e4"/>
<rect x="903.16" y="373.00" width="38.06" height="38.05" fill="#f6f7d9"/>
<rect x="940.92" y="373.00" width="38.06" height="38.05" fill="#ddb67e"/>
<rect x="978.68" y="373.00" width="38.06" height="38.05" fill="#dc6a3c"/>
<rect x="1016.44" y="373.00" width="38.06" height="38.05" fill="#f6f3df"/>
<rect x="1054.20" y="373.00" width="38.06" height="38.05" fill="#f7f5dd"/>
<rect x="1091.96" y="373.00" width="38.06" height="38.05" fill="#e3e2e3"/>
<rect x="865.40" y="410.75" width="38.06" height="38.05" fill="#f6f3df"/>
<rect x="903.16" y="410.75" width="38.06" height="38.05" fill="#f6f3df"/>
<rect x="940.92" y="410.75" width="38.06" height="38.05" fill="#f6f3df"/>
<rect x="978.68" y="410.75" width="38.06" height="38.05" fill="#f6f3df"/>
<rect x="1016.44" y="410.75" width="38.06" height="38.05" fill="#dc6a3c"/>
<rect x="1054.20" y="410.75" width="38.06" height="38.05" fill="#f6f6da"/>
<rect x="1091.96" y="410.75" width="38.06" height="38.05" fill="#f5f7d8"/>
<rect x="865.40" y="448.50" width="38.06" height="38.05" fill="#a8c06b"/>
<rect x="903.16" y="448.50" width="38.06" height="38.05" fill="#e9e6dc"/>
<rect x="940.92" y="448.50" width="38.06" height="38.05" fill="#f7f6dc"/>
<rect x="978.68" y="448.50" width="38.06" height="38.05" fill="#f7f5dd"/>
<rect x="1016.44" y="448.50" width="38.06" height="38.05" fill="#f6f6da"/>
<rect x="1054.20" y="448.50" width="38.06" height="38.05" fill="#dc6a3c"/>
<rect x="1091.96" y="448.50" width="38.06" height="38.05" fill="#eeeee6"/>
<rect x="865.40" y="486.25" width="38.06" height="38.05" fill="#f6f4de"/>
<rect x="903.16" y="486.25" width="38.06" height="38.05" fill="#f6f3df"/>
<rect x="940.92" y="486.25" width="38.06" height="38.05" fill="#e7e7e5"/>
<rect x="978.68" y="486.25" width="38.06" height="38.05" fill="#e3e2e3"/>
<rect x="1016.44" y="486.25" width="38.06" height="38.05" fill="#f5f7d8"/>
<rect x="1054.20" y="486.25" width="38.06" height="38.05" fill="#eeeee6"/>
<rect x="1091.96" y="486.25" width="38.06" height="38.05" fill="#dc6a3c"/>
</g>
<text x="884.28" y="319.57" font-size="8.0" fill="#fff" text-anchor="middle" >-0.45</text>
<text x="922.04" y="319.57" font-size="8.0" fill="#fff" text-anchor="middle" >1.00</text>
<text x="959.80" y="319.57" font-size="8.0" fill="#444" text-anchor="middle" >-0.15</text>
<text x="997.56" y="319.57" font-size="8.0" fill="#444" text-anchor="middle" >-0.12</text>
<text x="1035.32" y="319.57" font-size="8.0" fill="#444" text-anchor="middle" >0.01</text>
<text x="1073.08" y="319.57" font-size="8.0" fill="#444" text-anchor="middle" >0.33</text>
<text x="1110.84" y="319.57" font-size="8.0" fill="#444" text-anchor="middle" >0.01</text>
<text x="857.50" y="317.80" font-size="10.6" fill="#111" text-anchor="end" textLength="30.5" lengthAdjust="spacingAndGlyphs">Length</text>
<line x1="860.5" y1="314.5" x2="863" y2="314.5" stroke="#666" stroke-width="0.8"/>
<text x="884.28" y="357.32" font-size="8.0" fill="#444" text-anchor="middle" >0.10</text>
<text x="922.04" y="357.32" font-size="8.0" fill="#444" text-anchor="middle" >-0.15</text>
<text x="959.80" y="357.32" font-size="8.0" fill="#fff" text-anchor="middle" >1.00</text>
<text x="997.56" y="357.32" font-size="8.0" fill="#fff" text-anchor="middle" >0.80</text>
<text x="1035.32" y="357.32" font-size="8.0" fill="#444" text-anchor="middle" >0.00</text>
<text x="1073.08" y="357.32" font-size="8.0" fill="#444" text-anchor="middle" >-0.07</text>
<text x="1110.84" y="357.32" font-size="8.0" fill="#444" text-anchor="middle" >0.17</text>
<text x="857.50" y="356.64" font-size="10.6" fill="#111" text-anchor="end" textLength="33.2" lengthAdjust="spacingAndGlyphs">Density</text>
<line x1="860.5" y1="353.3" x2="863" y2="353.3" stroke="#666" stroke-width="0.8"/>
<text x="884.28" y="395.07" font-size="8.0" fill="#444" text-anchor="middle" >0.07</text>
<text x="922.04" y="395.07" font-size="8.0" fill="#444" text-anchor="middle" >-0.12</text>
<text x="959.80" y="395.07" font-size="8.0" fill="#fff" text-anchor="middle" >0.80</text>
<text x="997.56" y="395.07" font-size="8.0" fill="#fff" text-anchor="middle" >1.00</text>
<text x="1035.32" y="395.07" font-size="8.0" fill="#444" text-anchor="middle" >0.01</text>
<text x="1073.08" y="395.07" font-size="8.0" fill="#444" text-anchor="middle" >-0.05</text>
<text x="1110.84" y="395.07" font-size="8.0" fill="#444" text-anchor="middle" >0.20</text>
<text x="857.50" y="395.48" font-size="10.6" fill="#111" text-anchor="end" textLength="21.0" lengthAdjust="spacingAndGlyphs">Area</text>
<line x1="860.5" y1="392.2" x2="863" y2="392.2" stroke="#666" stroke-width="0.8"/>
<text x="884.28" y="432.82" font-size="8.0" fill="#444" text-anchor="middle" >0.01</text>
<text x="922.04" y="432.82" font-size="8.0" fill="#444" text-anchor="middle" >0.01</text>
<text x="959.80" y="432.82" font-size="8.0" fill="#444" text-anchor="middle" >0.00</text>
<text x="997.56" y="432.82" font-size="8.0" fill="#444" text-anchor="middle" >0.01</text>
<text x="1035.32" y="432.82" font-size="8.0" fill="#fff" text-anchor="middle" >1.00</text>
<text x="1073.08" y="432.82" font-size="8.0" fill="#444" text-anchor="middle" >-0.10</text>
<text x="1110.84" y="432.82" font-size="8.0" fill="#444" text-anchor="middle" >-0.13</text>
<text x="857.50" y="434.32" font-size="10.6" fill="#111" text-anchor="end" textLength="21.6" lengthAdjust="spacingAndGlyphs">Type</text>
<line x1="860.5" y1="431.0" x2="863" y2="431.0" stroke="#666" stroke-width="0.8"/>
<text x="884.28" y="470.57" font-size="8.0" fill="#fff" text-anchor="middle" >-0.53</text>
<text x="922.04" y="470.57" font-size="8.0" fill="#444" text-anchor="middle" >0.33</text>
<text x="959.80" y="470.57" font-size="8.0" fill="#444" text-anchor="middle" >-0.07</text>
<text x="997.56" y="470.57" font-size="8.0" fill="#444" text-anchor="middle" >-0.05</text>
<text x="1035.32" y="470.57" font-size="8.0" fill="#444" text-anchor="middle" >-0.10</text>
<text x="1073.08" y="470.57" font-size="8.0" fill="#fff" text-anchor="middle" >1.00</text>
<text x="1110.84" y="470.57" font-size="8.0" fill="#444" text-anchor="middle" >0.12</text>
<text x="857.50" y="473.16" font-size="10.6" fill="#111" text-anchor="end" textLength="14.4" lengthAdjust="spacingAndGlyphs">CD</text>
<line x1="860.5" y1="469.9" x2="863" y2="469.9" stroke="#666" stroke-width="0.8"/>
<text x="884.28" y="508.32" font-size="8.0" fill="#444" text-anchor="middle" >-0.03</text>
<text x="922.04" y="508.32" font-size="8.0" fill="#444" text-anchor="middle" >0.01</text>
<text x="959.80" y="508.32" font-size="8.0" fill="#444" text-anchor="middle" >0.17</text>
<text x="997.56" y="508.32" font-size="8.0" fill="#444" text-anchor="middle" >0.20</text>
<text x="1035.32" y="508.32" font-size="8.0" fill="#444" text-anchor="middle" >-0.13</text>
<text x="1073.08" y="508.32" font-size="8.0" fill="#444" text-anchor="middle" >0.12</text>
<text x="1110.84" y="508.32" font-size="8.0" fill="#fff" text-anchor="middle" >1.00</text>
<text x="857.50" y="512.00" font-size="10.6" fill="#111" text-anchor="end" textLength="21.0" lengthAdjust="spacingAndGlyphs">CER</text>
<line x1="860.5" y1="508.7" x2="863" y2="508.7" stroke="#666" stroke-width="0.8"/>
<text x="886.48" y="527.60" font-size="10.9" fill="#111" text-anchor="end" transform="rotate(-90 886.48 527.60)" >Height</text>
<line x1="884.3" y1="524.3" x2="884.3" y2="526.2" stroke="#666" stroke-width="0.8"/>
<text x="924.24" y="527.60" font-size="10.9" fill="#111" text-anchor="end" transform="rotate(-90 924.24 527.60)" >Length</text>
<line x1="922.0" y1="524.3" x2="922.0" y2="526.2" stroke="#666" stroke-width="0.8"/>
<text x="962.00" y="527.60" font-size="10.9" fill="#111" text-anchor="end" transform="rotate(-90 962.00 527.60)" >Density</text>
<line x1="959.8" y1="524.3" x2="959.8" y2="526.2" stroke="#666" stroke-width="0.8"/>
<text x="999.76" y="527.60" font-size="10.9" fill="#111" text-anchor="end" transform="rotate(-90 999.76 527.60)" >Area</text>
<line x1="997.6" y1="524.3" x2="997.6" y2="526.2" stroke="#666" stroke-width="0.8"/>
<text x="1037.52" y="527.60" font-size="10.9" fill="#111" text-anchor="end" transform="rotate(-90 1037.52 527.60)" >Type</text>
<line x1="1035.3" y1="524.3" x2="1035.3" y2="526.2" stroke="#666" stroke-width="0.8"/>
<text x="1075.28" y="527.60" font-size="10.9" fill="#111" text-anchor="end" transform="rotate(-90 1075.28 527.60)" >CD</text>
<line x1="1073.1" y1="524.3" x2="1073.1" y2="526.2" stroke="#666" stroke-width="0.8"/>
<text x="1113.04" y="527.60" font-size="10.9" fill="#111" text-anchor="end" transform="rotate(-90 1113.04 527.60)" >CER</text>
<line x1="1110.8" y1="524.3" x2="1110.8" y2="526.2" stroke="#666" stroke-width="0.8"/>
<line x1="1135.5" y1="530" x2="1135.5" y2="559" stroke="#bbb" stroke-width="0.8"/>
<line x1="860" y1="529.5" x2="1135.5" y2="529.5" stroke="#f0f0f0" stroke-width="0.8"/>
<rect x="1141.5" y="308.8" width="11.7" height="249.6" fill="url(#cb1)"/>
<line x1="1153.2" y1="309.2" x2="1155.5" y2="309.2" stroke="#555" stroke-width="0.8"/>
<text x="1157.00" y="314.80" font-size="16" fill="#1a1a1a" textLength="27.5">1.00</text>
<line x1="1153.2" y1="342.2" x2="1155.5" y2="342.2" stroke="#555" stroke-width="0.8"/>
<text x="1157.00" y="347.80" font-size="16" fill="#1a1a1a" textLength="27.5">0.75</text>
<line x1="1153.2" y1="375.2" x2="1155.5" y2="375.2" stroke="#555" stroke-width="0.8"/>
<text x="1157.00" y="380.80" font-size="16" fill="#1a1a1a" textLength="27.5">0.50</text>
<line x1="1153.2" y1="408.2" x2="1155.5" y2="408.2" stroke="#555" stroke-width="0.8"/>
<text x="1157.00" y="413.80" font-size="16" fill="#1a1a1a" textLength="27.5">0.25</text>
<line x1="1153.2" y1="441.2" x2="1155.5" y2="441.2" stroke="#555" stroke-width="0.8"/>
<text x="1157.00" y="446.80" font-size="16" fill="#1a1a1a" textLength="27.5">0.00</text>
<line x1="1153.2" y1="474.2" x2="1155.5" y2="474.2" stroke="#555" stroke-width="0.8"/>
<text x="1157.00" y="479.80" font-size="16" fill="#1a1a1a" textLength="34.5">-0.25</text>
<line x1="1153.2" y1="507.2" x2="1155.5" y2="507.2" stroke="#555" stroke-width="0.8"/>
<text x="1157.00" y="512.80" font-size="16" fill="#1a1a1a" textLength="34.5">-0.50</text>
<line x1="1153.2" y1="540.2" x2="1155.5" y2="540.2" stroke="#555" stroke-width="0.8"/>
<text x="1157.00" y="545.80" font-size="16" fill="#1a1a1a" textLength="34.5">-0.75</text>
<text x="1008.50" y="592.20" font-size="15.2" fill="#1a1a1a" text-anchor="middle" textLength="170">Building factor and CD,CER</text>
<rect x="874.40" y="604.40" width="21.28" height="21.18" fill="#dc6a3c"/>
<rect x="895.38" y="604.40" width="21.28" height="21.18" fill="#efefe6"/>
<rect x="916.37" y="604.40" width="21.28" height="21.18" fill="#f1f1e5"/>
<rect x="937.35" y="604.40" width="21.28" height="21.18" fill="#e0dfe0"/>
<rect x="958.33" y="604.40" width="21.28" height="21.18" fill="#e3e3e4"/>
<rect x="979.32" y="604.40" width="21.28" height="21.18" fill="#ecece6"/>
<rect x="1000.30" y="604.40" width="21.28" height="21.18" fill="#ecece6"/>
<rect x="1021.28" y="604.40" width="21.28" height="21.18" fill="#f0f0e6"/>
<rect x="1042.27" y="604.40" width="21.28" height="21.18" fill="#f4f2e2"/>
<rect x="1063.25" y="604.40" width="21.28" height="21.18" fill="#e4e3de"/>
<rect x="1084.23" y="604.40" width="21.28" height="21.18" fill="#e4e2df"/>
<rect x="1105.22" y="604.40" width="21.28" height="21.18" fill="#e7e5dd"/>
<rect x="874.40" y="625.27" width="21.28" height="21.18" fill="#efefe6"/>
<rect x="895.38" y="625.27" width="21.28" height="21.18" fill="#dc6a3c"/>
<rect x="916.37" y="625.27" width="21.28" height="21.18" fill="#e4e3de"/>
<rect x="937.35" y="625.27" width="21.28" height="21.18" fill="#f0f4cf"/>
<rect x="958.33" y="625.27" width="21.28" height="21.18" fill="#f5f7d7"/>
<rect x="979.32" y="625.27" width="21.28" height="21.18" fill="#e9dbb3"/>
<rect x="1000.30" y="625.27" width="21.28" height="21.18" fill="#e9dbb3"/>
<rect x="1021.28" y="625.27" width="21.28" height="21.18" fill="#e8d8af"/>
<rect x="1042.27" y="625.27" width="21.28" height="21.18" fill="#e8d9b1"/>
<rect x="1063.25" y="625.27" width="21.28" height="21.18" fill="#f7f5dd"/>
<rect x="1084.23" y="625.27" width="21.28" height="21.18" fill="#f2f5d2"/>
<rect x="1105.22" y="625.27" width="21.28" height="21.18" fill="#efefe6"/>
<rect x="874.40" y="646.15" width="21.28" height="21.18" fill="#f1f1e5"/>
<rect x="895.38" y="646.15" width="21.28" height="21.18" fill="#e4e3de"/>
<rect x="916.37" y="646.15" width="21.28" height="21.18" fill="#dc6a3c"/>
<rect x="937.35" y="646.15" width="21.28" height="21.18" fill="#f1f1e6"/>
<rect x="958.33" y="646.15" width="21.28" height="21.18" fill="#f1f1e6"/>
<rect x="979.32" y="646.15" width="21.28" height="21.18" fill="#e7e5dd"/>
<rect x="1000.30" y="646.15" width="21.28" height="21.18" fill="#e7e5dd"/>
<rect x="1021.28" y="646.15" width="21.28" height="21.18" fill="#e8e5dc"/>
<rect x="1042.27" y="646.15" width="21.28" height="21.18" fill="#eae7db"/>
<rect x="1063.25" y="646.15" width="21.28" height="21.18" fill="#ebebe5"/>
<rect x="1084.23" y="646.15" width="21.28" height="21.18" fill="#e6e6e5"/>
<rect x="1105.22" y="646.15" width="21.28" height="21.18" fill="#ecece6"/>
<rect x="874.40" y="667.02" width="21.28" height="21.18" fill="#e0dfe0"/>
<rect x="895.38" y="667.02" width="21.28" height="21.18" fill="#f0f4cf"/>
<rect x="916.37" y="667.02" width="21.28" height="21.18" fill="#f1f1e6"/>
<rect x="937.35" y="667.02" width="21.28" height="21.18" fill="#dc6a3c"/>
<rect x="958.33" y="667.02" width="21.28" height="21.18" fill="#dc7442"/>
<rect x="979.32" y="667.02" width="21.28" height="21.18" fill="#abc36f"/>
<rect x="1000.30" y="667.02" width="21.28" height="21.18" fill="#abc36f"/>
<rect x="1021.28" y="667.02" width="21.28" height="21.18" fill="#a8c06b"/>
<rect x="1042.27" y="667.02" width="21.28" height="21.18" fill="#aac26e"/>
<rect x="1063.25" y="667.02" width="21.28" height="21.18" fill="#eadcb6"/>
<rect x="1084.23" y="667.02" width="21.28" height="21.18" fill="#e3c998"/>
<rect x="1105.22" y="667.02" width="21.28" height="21.18" fill="#efe8d2"/>
<rect x="874.40" y="687.90" width="21.28" height="21.18" fill="#e3e3e4"/>
<rect x="895.38" y="687.90" width="21.28" height="21.18" fill="#f5f7d7"/>
<rect x="916.37" y="687.90" width="21.28" height="21.18" fill="#f1f1e6"/>
<rect x="937.35" y="687.90" width="21.28" height="21.18" fill="#dc7442"/>
<rect x="958.33" y="687.90" width="21.28" height="21.18" fill="#dc6a3c"/>
<rect x="979.32" y="687.90" width="21.28" height="21.18" fill="#b1c877"/>
<rect x="1000.30" y="687.90" width="21.28" height="21.18" fill="#b1c877"/>
<rect x="1021.28" y="687.90" width="21.28" height="21.18" fill="#aec573"/>
<rect x="1042.27" y="687.90" width="21.28" height="21.18" fill="#afc675"/>
<rect x="1063.25" y="687.90" width="21.28" height="21.18" fill="#ecdebc"/>
<rect x="1084.23" y="687.90" width="21.28" height="21.18" fill="#e8d9b1"/>
<rect x="1105.22" y="687.90" width="21.28" height="21.18" fill="#efe8d3"/>
<rect x="874.40" y="708.77" width="21.28" height="21.18" fill="#ecece6"/>
<rect x="895.38" y="708.77" width="21.28" height="21.18" fill="#e9dbb3"/>
<rect x="916.37" y="708.77" width="21.28" height="21.18" fill="#e7e5dd"/>
<rect x="937.35" y="708.77" width="21.28" height="21.18" fill="#abc36f"/>
<rect x="958.33" y="708.77" width="21.28" height="21.18" fill="#b1c877"/>
<rect x="979.32" y="708.77" width="21.28" height="21.18" fill="#dc6a3c"/>
<rect x="1000.30" y="708.77" width="21.28" height="21.18" fill="#dc6c3d"/>
<rect x="1021.28" y="708.77" width="21.28" height="21.18" fill="#dc6c3d"/>
<rect x="1042.27" y="708.77" width="21.28" height="21.18" fill="#dc6f3e"/>
<rect x="1063.25" y="708.77" width="21.28" height="21.18" fill="#f7f5dd"/>
<rect x="1084.23" y="708.77" width="21.28" height="21.18" fill="#f2f5d2"/>
<rect x="1105.22" y="708.77" width="21.28" height="21.18" fill="#f2f1e5"/>
<rect x="874.40" y="729.65" width="21.28" height="21.18" fill="#ecece6"/>
<rect x="895.38" y="729.65" width="21.28" height="21.18" fill="#e9dbb3"/>
<rect x="916.37" y="729.65" width="21.28" height="21.18" fill="#e7e5dd"/>
<rect x="937.35" y="729.65" width="21.28" height="21.18" fill="#abc36f"/>
<rect x="958.33" y="729.65" width="21.28" height="21.18" fill="#b1c877"/>
<rect x="979.32" y="729.65" width="21.28" height="21.18" fill="#dc6c3d"/>
<rect x="1000.30" y="729.65" width="21.28" height="21.18" fill="#dc6a3c"/>
<rect x="1021.28" y="729.65" width="21.28" height="21.18" fill="#dc6b3c"/>
<rect x="1042.27" y="729.65" width="21.28" height="21.18" fill="#dc6d3e"/>
<rect x="1063.25" y="729.65" width="21.28" height="21.18" fill="#f7f5dd"/>
<rect x="1084.23" y="729.65" width="21.28" height="21.18" fill="#f2f5d2"/>
<rect x="1105.22" y="729.65" width="21.28" height="21.18" fill="#f3f2e3"/>
<rect x="874.40" y="750.52" width="21.28" height="21.18" fill="#f0f0e6"/>
<rect x="895.38" y="750.52" width="21.28" height="21.18" fill="#e8d8af"/>
<rect x="916.37" y="750.52" width="21.28" height="21.18" fill="#e8e5dc"/>
<rect x="937.35" y="750.52" width="21.28" height="21.18" fill="#a8c06b"/>
<rect x="958.33" y="750.52" width="21.28" height="21.18" fill="#aec573"/>
<rect x="979.32" y="750.52" width="21.28" height="21.18" fill="#dc6c3d"/>
<rect x="1000.30" y="750.52" width="21.28" height="21.18" fill="#dc6b3c"/>
<rect x="1021.28" y="750.52" width="21.28" height="21.18" fill="#dc6a3c"/>
<rect x="1042.27" y="750.52" width="21.28" height="21.18" fill="#dc6d3d"/>
<rect x="1063.25" y="750.52" width="21.28" height="21.18" fill="#f7f6db"/>
<rect x="1084.23" y="750.52" width="21.28" height="21.18" fill="#f1f4d0"/>
<rect x="1105.22" y="750.52" width="21.28" height="21.18" fill="#f4f2e1"/>
<rect x="874.40" y="771.40" width="21.28" height="21.18" fill="#f4f2e2"/>
<rect x="895.38" y="771.40" width="21.28" height="21.18" fill="#e8d9b1"/>
<rect x="916.37" y="771.40" width="21.28" height="21.18" fill="#eae7db"/>
<rect x="937.35" y="771.40" width="21.28" height="21.18" fill="#aac26e"/>
<rect x="958.33" y="771.40" width="21.28" height="21.18" fill="#afc675"/>
<rect x="979.32" y="771.40" width="21.28" height="21.18" fill="#dc6f3e"/>
<rect x="1000.30" y="771.40" width="21.28" height="21.18" fill="#dc6d3e"/>
<rect x="1021.28" y="771.40" width="21.28" height="21.18" fill="#dc6d3d"/>
<rect x="1042.27" y="771.40" width="21.28" height="21.18" fill="#dc6a3c"/>
<rect x="1063.25" y="771.40" width="21.28" height="21.18" fill="#f6f6da"/>
<rect x="1084.23" y="771.40" width="21.28" height="21.18" fill="#f2f5d2"/>
<rect x="1105.22" y="771.40" width="21.28" height="21.18" fill="#f6f3df"/>
<rect x="874.40" y="792.27" width="21.28" height="21.18" fill="#e4e3de"/>
<rect x="895.38" y="792.27" width="21.28" height="21.18" fill="#f7f5dd"/>
<rect x="916.37" y="792.27" width="21.28" height="21.18" fill="#ebebe5"/>
<rect x="937.35" y="792.27" width="21.28" height="21.18" fill="#eadcb6"/>
<rect x="958.33" y="792.27" width="21.28" height="21.18" fill="#ecdebc"/>
<rect x="979.32" y="792.27" width="21.28" height="21.18" fill="#f7f5dd"/>
<rect x="1000.30" y="792.27" width="21.28" height="21.18" fill="#f7f5dd"/>
<rect x="1021.28" y="792.27" width="21.28" height="21.18" fill="#f7f6db"/>
<rect x="1042.27" y="792.27" width="21.28" height="21.18" fill="#f6f6da"/>
<rect x="1063.25" y="792.27" width="21.28" height="21.18" fill="#dc6a3c"/>
<rect x="1084.23" y="792.27" width="21.28" height="21.18" fill="#e0c08b"/>
<rect x="1105.22" y="792.27" width="21.28" height="21.18" fill="#dc7d49"/>
<rect x="874.40" y="813.15" width="21.28" height="21.18" fill="#e4e2df"/>
<rect x="895.38" y="813.15" width="21.28" height="21.18" fill="#f2f5d2"/>
<rect x="916.37" y="813.15" width="21.28" height="21.18" fill="#e6e6e5"/>
<rect x="937.35" y="813.15" width="21.28" height="21.18" fill="#e3c998"/>
<rect x="958.33" y="813.15" width="21.28" height="21.18" fill="#e8d9b1"/>
<rect x="979.32" y="813.15" width="21.28" height="21.18" fill="#f2f5d2"/>
<rect x="1000.30" y="813.15" width="21.28" height="21.18" fill="#f2f5d2"/>
<rect x="1021.28" y="813.15" width="21.28" height="21.18" fill="#f1f4d0"/>
<rect x="1042.27" y="813.15" width="21.28" height="21.18" fill="#f2f5d2"/>
<rect x="1063.25" y="813.15" width="21.28" height="21.18" fill="#e0c08b"/>
<rect x="1084.23" y="813.15" width="21.28" height="21.18" fill="#dc6a3c"/>
<rect x="1105.22" y="813.15" width="21.28" height="21.18" fill="#ebdebb"/>
<rect x="874.40" y="834.02" width="21.28" height="21.18" fill="#e7e5dd"/>
<rect x="895.38" y="834.02" width="21.28" height="21.18" fill="#efefe6"/>
<rect x="916.37" y="834.02" width="21.28" height="21.18" fill="#ecece6"/>
<rect x="937.35" y="834.02" width="21.28" height="21.18" fill="#efe8d2"/>
<rect x="958.33" y="834.02" width="21.28" height="21.18" fill="#efe8d3"/>
<rect x="979.32" y="834.02" width="21.28" height="21.18" fill="#f2f1e5"/>
<rect x="1000.30" y="834.02" width="21.28" height="21.18" fill="#f3f2e3"/>
<rect x="1021.28" y="834.02" width="21.28" height="21.18" fill="#f4f2e1"/>
<rect x="1042.27" y="834.02" width="21.28" height="21.18" fill="#f6f3df"/>
<rect x="1063.25" y="834.02" width="21.28" height="21.18" fill="#dc7d49"/>
<rect x="1084.23" y="834.02" width="21.28" height="21.18" fill="#ebdebb"/>
<rect x="1105.22" y="834.02" width="21.28" height="21.18" fill="#dc6a3c"/>
<text x="884.89" y="617.94" font-size="8.4" fill="#fff" text-anchor="middle" textLength="14.2" lengthAdjust="spacingAndGlyphs">1.00</text>
<text x="905.88" y="617.94" font-size="8.4" fill="#333" text-anchor="middle" textLength="16.5" lengthAdjust="spacingAndGlyphs">-0.10</text>
<text x="926.86" y="617.94" font-size="8.4" fill="#333" text-anchor="middle" textLength="16.5" lengthAdjust="spacingAndGlyphs">-0.13</text>
<text x="947.84" y="617.94" font-size="8.4" fill="#333" text-anchor="middle" textLength="14.2" lengthAdjust="spacingAndGlyphs">0.07</text>
<text x="968.83" y="617.94" font-size="8.4" fill="#333" text-anchor="middle" textLength="14.2" lengthAdjust="spacingAndGlyphs">0.00</text>
<text x="989.81" y="617.94" font-size="8.4" fill="#333" text-anchor="middle" textLength="16.5" lengthAdjust="spacingAndGlyphs">-0.08</text>
<text x="1010.79" y="617.94" font-size="8.4" fill="#333" text-anchor="middle" textLength="16.5" lengthAdjust="spacingAndGlyphs">-0.08</text>
<text x="1031.78" y="617.94" font-size="8.4" fill="#333" text-anchor="middle" textLength="16.5" lengthAdjust="spacingAndGlyphs">-0.11</text>
<text x="1052.76" y="617.94" font-size="8.4" fill="#333" text-anchor="middle" textLength="16.5" lengthAdjust="spacingAndGlyphs">-0.18</text>
<text x="1073.74" y="617.94" font-size="8.4" fill="#333" text-anchor="middle" textLength="14.2" lengthAdjust="spacingAndGlyphs">0.12</text>
<text x="1094.72" y="617.94" font-size="8.4" fill="#333" text-anchor="middle" textLength="14.2" lengthAdjust="spacingAndGlyphs">0.11</text>
<text x="1115.71" y="617.94" font-size="8.4" fill="#333" text-anchor="middle" textLength="14.2" lengthAdjust="spacingAndGlyphs">0.15</text>
<text x="863.20" y="614.84" font-size="9.6" fill="#000" text-anchor="middle" transform="rotate(90 863.20 614.84)" textLength="20.1" lengthAdjust="spacingAndGlyphs">TYPE</text>
<line x1="870.5" y1="614.8" x2="873" y2="614.8" stroke="#666" stroke-width="0.7"/>
<text x="884.89" y="866.60" font-size="10.2" fill="#111" text-anchor="middle" textLength="22.9" lengthAdjust="spacingAndGlyphs">TYPE</text>
<text x="884.89" y="638.81" font-size="8.4" fill="#333" text-anchor="middle" textLength="16.5" lengthAdjust="spacingAndGlyphs">-0.10</text>
<text x="905.88" y="638.81" font-size="8.4" fill="#fff" text-anchor="middle" textLength="14.2" lengthAdjust="spacingAndGlyphs">1.00</text>
<text x="926.86" y="638.81" font-size="8.4" fill="#333" text-anchor="middle" textLength="14.2" lengthAdjust="spacingAndGlyphs">0.12</text>
<text x="947.84" y="638.81" font-size="8.4" fill="#fff" text-anchor="middle" opacity="0.75" textLength="16.5" lengthAdjust="spacingAndGlyphs">-0.52</text>
<text x="968.83" y="638.81" font-size="8.4" fill="#333" text-anchor="middle" textLength="16.5" lengthAdjust="spacingAndGlyphs">-0.43</text>
<text x="989.81" y="638.81" font-size="8.4" fill="#333" text-anchor="middle" textLength="14.2" lengthAdjust="spacingAndGlyphs">0.49</text>
<text x="1010.79" y="638.81" font-size="8.4" fill="#333" text-anchor="middle" textLength="14.2" lengthAdjust="spacingAndGlyphs">0.49</text>
<text x="1031.78" y="638.81" font-size="8.4" fill="#333" text-anchor="middle" textLength="14.2" lengthAdjust="spacingAndGlyphs">0.51</text>
<text x="1052.76" y="638.81" font-size="8.4" fill="#333" text-anchor="middle" textLength="14.2" lengthAdjust="spacingAndGlyphs">0.50</text>
<text x="1073.74" y="638.81" font-size="8.4" fill="#333" text-anchor="middle" textLength="16.5" lengthAdjust="spacingAndGlyphs">-0.29</text>
<text x="1094.72" y="638.81" font-size="8.4" fill="#fff" text-anchor="middle" opacity="0.75" textLength="16.5" lengthAdjust="spacingAndGlyphs">-0.49</text>
<text x="1115.71" y="638.81" font-size="8.4" fill="#333" text-anchor="middle" textLength="16.5" lengthAdjust="spacingAndGlyphs">-0.10</text>
<text x="863.20" y="635.71" font-size="9.6" fill="#000" text-anchor="middle" transform="rotate(90 863.20 635.71)" textLength="11.1" lengthAdjust="spacingAndGlyphs">CD</text>
<line x1="870.5" y1="635.7" x2="873" y2="635.7" stroke="#666" stroke-width="0.7"/>
<text x="905.88" y="866.60" font-size="10.2" fill="#111" text-anchor="middle" textLength="12.7" lengthAdjust="spacingAndGlyphs">CD</text>
<text x="884.89" y="659.69" font-size="8.4" fill="#333" text-anchor="middle" textLength="16.5" lengthAdjust="spacingAndGlyphs">-0.13</text>
<text x="905.88" y="659.69" font-size="8.4" fill="#333" text-anchor="middle" textLength="14.2" lengthAdjust="spacingAndGlyphs">0.12</text>
<text x="926.86" y="659.69" font-size="8.4" fill="#fff" text-anchor="middle" textLength="14.2" lengthAdjust="spacingAndGlyphs">1.00</text>
<text x="947.84" y="659.69" font-size="8.4" fill="#333" text-anchor="middle" textLength="16.5" lengthAdjust="spacingAndGlyphs">-0.12</text>
<text x="968.83" y="659.69" font-size="8.4" fill="#333" text-anchor="middle" textLength="16.5" lengthAdjust="spacingAndGlyphs">-0.12</text>
<text x="989.81" y="659.69" font-size="8.4" fill="#333" text-anchor="middle" textLength="14.2" lengthAdjust="spacingAndGlyphs">0.15</text>
<text x="1010.79" y="659.69" font-size="8.4" fill="#333" text-anchor="middle" textLength="14.2" lengthAdjust="spacingAndGlyphs">0.15</text>
<text x="1031.78" y="659.69" font-size="8.4" fill="#333" text-anchor="middle" textLength="14.2" lengthAdjust="spacingAndGlyphs">0.16</text>
<text x="1052.76" y="659.69" font-size="8.4" fill="#333" text-anchor="middle" textLength="14.2" lengthAdjust="spacingAndGlyphs">0.18</text>
<text x="1073.74" y="659.69" font-size="8.4" fill="#333" text-anchor="middle" textLength="16.5" lengthAdjust="spacingAndGlyphs">-0.07</text>
<text x="1094.72" y="659.69" font-size="8.4" fill="#333" text-anchor="middle" textLength="16.5" lengthAdjust="spacingAndGlyphs">-0.03</text>
<text x="1115.71" y="659.69" font-size="8.4" fill="#333" text-anchor="middle" textLength="16.5" lengthAdjust="spacingAndGlyphs">-0.08</text>
<text x="863.20" y="656.59" font-size="9.6" fill="#000" text-anchor="middle" transform="rotate(90 863.20 656.59)" textLength="16.2" lengthAdjust="spacingAndGlyphs">CER</text>
<line x1="870.5" y1="656.6" x2="873" y2="656.6" stroke="#666" stroke-width="0.7"/>
<text x="926.86" y="866.60" font-size="10.2" fill="#111" text-anchor="middle" textLength="18.5" lengthAdjust="spacingAndGlyphs">CER</text>
<text x="884.89" y="680.56" font-size="8.4" fill="#333" text-anchor="middle" textLength="14.2" lengthAdjust="spacingAndGlyphs">0.07</text>
<text x="905.88" y="680.56" font-size="8.4" fill="#fff" text-anchor="middle" opacity="0.75" textLength="16.5" lengthAdjust="spacingAndGlyphs">-0.52</text>
<text x="926.86" y="680.56" font-size="8.4" fill="#333" text-anchor="middle" textLength="16.5" lengthAdjust="spacingAndGlyphs">-0.12</text>
<text x="947.84" y="680.56" font-size="8.4" fill="#fff" text-anchor="middle" textLength="14.2" lengthAdjust="spacingAndGlyphs">1.00</text>
<text x="968.83" y="680.56" font-size="8.4" fill="#fff" text-anchor="middle" font-weight="bold" textLength="14.2" lengthAdjust="spacingAndGlyphs">0.93</text>
<text x="989.81" y="680.56" font-size="8.4" fill="#fff" text-anchor="middle" textLength="16.5" lengthAdjust="spacingAndGlyphs">-0.87</text>
<text x="1010.79" y="680.56" font-size="8.4" fill="#fff" text-anchor="middle" textLength="16.5" lengthAdjust="spacingAndGlyphs">-0.87</text>
<text x="1031.78" y="680.56" font-size="8.4" fill="#fff" text-anchor="middle" textLength="16.5" lengthAdjust="spacingAndGlyphs">-0.90</text>
<text x="1052.76" y="680.56" font-size="8.4" fill="#fff" text-anchor="middle" textLength="16.5" lengthAdjust="spacingAndGlyphs">-0.88</text>
<text x="1073.74" y="680.56" font-size="8.4" fill="#333" text-anchor="middle" textLength="14.2" lengthAdjust="spacingAndGlyphs">0.47</text>
<text x="1094.72" y="680.56" font-size="8.4" fill="#fff" text-anchor="middle" opacity="0.75" textLength="14.2" lengthAdjust="spacingAndGlyphs">0.61</text>
<text x="1115.71" y="680.56" font-size="8.4" fill="#333" text-anchor="middle" textLength="14.2" lengthAdjust="spacingAndGlyphs">0.28</text>
<text x="863.20" y="677.46" font-size="9.6" fill="#000" text-anchor="middle" transform="rotate(90 863.20 677.46)" textLength="10.7" lengthAdjust="spacingAndGlyphs">ED</text>
<line x1="870.5" y1="677.5" x2="873" y2="677.5" stroke="#666" stroke-width="0.7"/>
<text x="947.84" y="866.60" font-size="10.2" fill="#111" text-anchor="middle" textLength="12.2" lengthAdjust="spacingAndGlyphs">ED</text>
<text x="884.89" y="701.44" font-size="8.4" fill="#333" text-anchor="middle" textLength="14.2" lengthAdjust="spacingAndGlyphs">0.00</text>
<text x="905.88" y="701.44" font-size="8.4" fill="#333" text-anchor="middle" textLength="16.5" lengthAdjust="spacingAndGlyphs">-0.43</text>
<text x="926.86" y="701.44" font-size="8.4" fill="#333" text-anchor="middle" textLength="16.5" lengthAdjust="spacingAndGlyphs">-0.12</text>
<text x="947.84" y="701.44" font-size="8.4" fill="#fff" text-anchor="middle" font-weight="bold" textLength="14.2" lengthAdjust="spacingAndGlyphs">0.93</text>
<text x="968.83" y="701.44" font-size="8.4" fill="#fff" text-anchor="middle" textLength="14.2" lengthAdjust="spacingAndGlyphs">1.00</text>
<text x="989.81" y="701.44" font-size="8.4" fill="#fff" text-anchor="middle" textLength="16.5" lengthAdjust="spacingAndGlyphs">-0.81</text>
<text x="1010.79" y="701.44" font-size="8.4" fill="#fff" text-anchor="middle" textLength="16.5" lengthAdjust="spacingAndGlyphs">-0.81</text>
<text x="1031.78" y="701.44" font-size="8.4" fill="#fff" text-anchor="middle" textLength="16.5" lengthAdjust="spacingAndGlyphs">-0.84</text>
<text x="1052.76" y="701.44" font-size="8.4" fill="#fff" text-anchor="middle" textLength="16.5" lengthAdjust="spacingAndGlyphs">-0.83</text>
<text x="1073.74" y="701.44" font-size="8.4" fill="#333" text-anchor="middle" textLength="14.2" lengthAdjust="spacingAndGlyphs">0.43</text>
<text x="1094.72" y="701.44" font-size="8.4" fill="#333" text-anchor="middle" textLength="14.2" lengthAdjust="spacingAndGlyphs">0.50</text>
<text x="1115.71" y="701.44" font-size="8.4" fill="#333" text-anchor="middle" textLength="14.2" lengthAdjust="spacingAndGlyphs">0.27</text>
<text x="863.20" y="698.34" font-size="9.6" fill="#000" text-anchor="middle" transform="rotate(90 863.20 698.34)" textLength="10.7" lengthAdjust="spacingAndGlyphs">PD</text>
<line x1="870.5" y1="698.3" x2="873" y2="698.3" stroke="#666" stroke-width="0.7"/>
<text x="968.83" y="866.60" font-size="10.2" fill="#111" text-anchor="middle" textLength="12.2" lengthAdjust="spacingAndGlyphs">PD</text>
<text x="884.89" y="722.31" font-size="8.4" fill="#333" text-anchor="middle" textLength="16.5" lengthAdjust="spacingAndGlyphs">-0.08</text>
<text x="905.88" y="722.31" font-size="8.4" fill="#333" text-anchor="middle" textLength="14.2" lengthAdjust="spacingAndGlyphs">0.49</text>
<text x="926.86" y="722.31" font-size="8.4" fill="#333" text-anchor="middle" textLength="14.2" lengthAdjust="spacingAndGlyphs">0.15</text>
<text x="947.84" y="722.31" font-size="8.4" fill="#fff" text-anchor="middle" textLength="16.5" lengthAdjust="spacingAndGlyphs">-0.87</text>
<text x="968.83" y="722.31" font-size="8.4" fill="#fff" text-anchor="middle" textLength="16.5" lengthAdjust="spacingAndGlyphs">-0.81</text>
<text x="989.81" y="722.31" font-size="8.4" fill="#fff" text-anchor="middle" textLength="14.2" lengthAdjust="spacingAndGlyphs">1.00</text>
<text x="1010.79" y="722.31" font-size="8.4" fill="#fff" text-anchor="middle" font-weight="bold" textLength="14.2" lengthAdjust="spacingAndGlyphs">0.98</text>
<text x="1031.78" y="722.31" font-size="8.4" fill="#fff" text-anchor="middle" font-weight="bold" textLength="14.2" lengthAdjust="spacingAndGlyphs">0.98</text>
<text x="1052.76" y="722.31" font-size="8.4" fill="#fff" text-anchor="middle" font-weight="bold" textLength="14.2" lengthAdjust="spacingAndGlyphs">0.95</text>
<text x="1073.74" y="722.31" font-size="8.4" fill="#333" text-anchor="middle" textLength="16.5" lengthAdjust="spacingAndGlyphs">-0.29</text>
<text x="1094.72" y="722.31" font-size="8.4" fill="#fff" text-anchor="middle" opacity="0.75" textLength="16.5" lengthAdjust="spacingAndGlyphs">-0.48</text>
<text x="1115.71" y="722.31" font-size="8.4" fill="#333" text-anchor="middle" textLength="16.5" lengthAdjust="spacingAndGlyphs">-0.14</text>
<text x="863.20" y="719.21" font-size="9.6" fill="#000" text-anchor="middle" transform="rotate(90 863.20 719.21)" textLength="19.6" lengthAdjust="spacingAndGlyphs">Pland</text>
<line x1="870.5" y1="719.2" x2="873" y2="719.2" stroke="#666" stroke-width="0.7"/>
<text x="989.81" y="866.60" font-size="10.2" fill="#111" text-anchor="middle" textLength="22.4" lengthAdjust="spacingAndGlyphs">Pland</text>
<text x="884.89" y="743.19" font-size="8.4" fill="#333" text-anchor="middle" textLength="16.5" lengthAdjust="spacingAndGlyphs">-0.08</text>
<text x="905.88" y="743.19" font-size="8.4" fill="#333" text-anchor="middle" textLength="14.2" lengthAdjust="spacingAndGlyphs">0.49</text>
<text x="926.86" y="743.19" font-size="8.4" fill="#333" text-anchor="middle" textLength="14.2" lengthAdjust="spacingAndGlyphs">0.15</text>
<text x="947.84" y="743.19" font-size="8.4" fill="#fff" text-anchor="middle" textLength="16.5" lengthAdjust="spacingAndGlyphs">-0.87</text>
<text x="968.83" y="743.19" font-size="8.4" fill="#fff" text-anchor="middle" textLength="16.5" lengthAdjust="spacingAndGlyphs">-0.81</text>
<text x="989.81" y="743.19" font-size="8.4" fill="#fff" text-anchor="middle" font-weight="bold" textLength="14.2" lengthAdjust="spacingAndGlyphs">0.98</text>
<text x="1010.79" y="743.19" font-size="8.4" fill="#fff" text-anchor="middle" textLength="14.2" lengthAdjust="spacingAndGlyphs">1.00</text>
<text x="1031.78" y="743.19" font-size="8.4" fill="#fff" text-anchor="middle" font-weight="bold" textLength="14.2" lengthAdjust="spacingAndGlyphs">0.99</text>
<text x="1052.76" y="743.19" font-size="8.4" fill="#fff" text-anchor="middle" font-weight="bold" textLength="14.2" lengthAdjust="spacingAndGlyphs">0.96</text>
<text x="1073.74" y="743.19" font-size="8.4" fill="#333" text-anchor="middle" textLength="16.5" lengthAdjust="spacingAndGlyphs">-0.31</text>
<text x="1094.72" y="743.19" font-size="8.4" fill="#fff" text-anchor="middle" opacity="0.75" textLength="16.5" lengthAdjust="spacingAndGlyphs">-0.49</text>
<text x="1115.71" y="743.19" font-size="8.4" fill="#333" text-anchor="middle" textLength="16.5" lengthAdjust="spacingAndGlyphs">-0.17</text>
<text x="863.20" y="740.09" font-size="9.6" fill="#000" text-anchor="middle" transform="rotate(90 863.20 740.09)" textLength="10.7" lengthAdjust="spacingAndGlyphs">CA</text>
<line x1="870.5" y1="740.1" x2="873" y2="740.1" stroke="#666" stroke-width="0.7"/>
<text x="1010.79" y="866.60" font-size="10.2" fill="#111" text-anchor="middle" textLength="12.2" lengthAdjust="spacingAndGlyphs">CA</text>
<text x="884.89" y="764.06" font-size="8.4" fill="#333" text-anchor="middle" textLength="16.5" lengthAdjust="spacingAndGlyphs">-0.11</text>
<text x="905.88" y="764.06" font-size="8.4" fill="#333" text-anchor="middle" textLength="14.2" lengthAdjust="spacingAndGlyphs">0.51</text>
<text x="926.86" y="764.06" font-size="8.4" fill="#333" text-anchor="middle" textLength="14.2" lengthAdjust="spacingAndGlyphs">0.16</text>
<text x="947.84" y="764.06" font-size="8.4" fill="#fff" text-anchor="middle" textLength="16.5" lengthAdjust="spacingAndGlyphs">-0.90</text>
<text x="968.83" y="764.06" font-size="8.4" fill="#fff" text-anchor="middle" textLength="16.5" lengthAdjust="spacingAndGlyphs">-0.84</text>
<text x="989.81" y="764.06" font-size="8.4" fill="#fff" text-anchor="middle" font-weight="bold" textLength="14.2" lengthAdjust="spacingAndGlyphs">0.98</text>
<text x="1010.79" y="764.06" font-size="8.4" fill="#fff" text-anchor="middle" font-weight="bold" textLength="14.2" lengthAdjust="spacingAndGlyphs">0.99</text>
<text x="1031.78" y="764.06" font-size="8.4" fill="#fff" text-anchor="middle" textLength="14.2" lengthAdjust="spacingAndGlyphs">1.00</text>
<text x="1052.76" y="764.06" font-size="8.4" fill="#fff" text-anchor="middle" font-weight="bold" textLength="14.2" lengthAdjust="spacingAndGlyphs">0.97</text>
<text x="1073.74" y="764.06" font-size="8.4" fill="#333" text-anchor="middle" textLength="16.5" lengthAdjust="spacingAndGlyphs">-0.34</text>
<text x="1094.72" y="764.06" font-size="8.4" fill="#fff" text-anchor="middle" opacity="0.75" textLength="16.5" lengthAdjust="spacingAndGlyphs">-0.51</text>
<text x="1115.71" y="764.06" font-size="8.4" fill="#333" text-anchor="middle" textLength="16.5" lengthAdjust="spacingAndGlyphs">-0.20</text>
<text x="863.20" y="760.96" font-size="9.6" fill="#000" text-anchor="middle" transform="rotate(90 863.20 760.96)" textLength="11.5" lengthAdjust="spacingAndGlyphs">LPI</text>
<line x1="870.5" y1="761.0" x2="873" y2="761.0" stroke="#666" stroke-width="0.7"/>
<text x="1031.78" y="866.60" font-size="10.2" fill="#111" text-anchor="middle" textLength="13.2" lengthAdjust="spacingAndGlyphs">LPI</text>
<text x="884.89" y="784.94" font-size="8.4" fill="#333" text-anchor="middle" textLength="16.5" lengthAdjust="spacingAndGlyphs">-0.18</text>
<text x="905.88" y="784.94" font-size="8.4" fill="#333" text-anchor="middle" textLength="14.2" lengthAdjust="spacingAndGlyphs">0.50</text>
<text x="926.86" y="784.94" font-size="8.4" fill="#333" text-anchor="middle" textLength="14.2" lengthAdjust="spacingAndGlyphs">0.18</text>
<text x="947.84" y="784.94" font-size="8.4" fill="#fff" text-anchor="middle" textLength="16.5" lengthAdjust="spacingAndGlyphs">-0.88</text>
<text x="968.83" y="784.94" font-size="8.4" fill="#fff" text-anchor="middle" textLength="16.5" lengthAdjust="spacingAndGlyphs">-0.83</text>
<text x="989.81" y="784.94" font-size="8.4" fill="#fff" text-anchor="middle" font-weight="bold" textLength="14.2" lengthAdjust="spacingAndGlyphs">0.95</text>
<text x="1010.79" y="784.94" font-size="8.4" fill="#fff" text-anchor="middle" font-weight="bold" textLength="14.2" lengthAdjust="spacingAndGlyphs">0.96</text>
<text x="1031.78" y="784.94" font-size="8.4" fill="#fff" text-anchor="middle" font-weight="bold" textLength="14.2" lengthAdjust="spacingAndGlyphs">0.97</text>
<text x="1052.76" y="784.94" font-size="8.4" fill="#fff" text-anchor="middle" textLength="14.2" lengthAdjust="spacingAndGlyphs">1.00</text>
<text x="1073.74" y="784.94" font-size="8.4" fill="#333" text-anchor="middle" textLength="16.5" lengthAdjust="spacingAndGlyphs">-0.37</text>
<text x="1094.72" y="784.94" font-size="8.4" fill="#fff" text-anchor="middle" opacity="0.75" textLength="16.5" lengthAdjust="spacingAndGlyphs">-0.48</text>
<text x="1115.71" y="784.94" font-size="8.4" fill="#333" text-anchor="middle" textLength="16.5" lengthAdjust="spacingAndGlyphs">-0.24</text>
<text x="863.20" y="781.84" font-size="9.6" fill="#000" text-anchor="middle" transform="rotate(90 863.20 781.84)" textLength="11.9" lengthAdjust="spacingAndGlyphs">MN</text>
<line x1="870.5" y1="781.8" x2="873" y2="781.8" stroke="#666" stroke-width="0.7"/>
<text x="1052.76" y="866.60" font-size="10.2" fill="#111" text-anchor="middle" textLength="13.6" lengthAdjust="spacingAndGlyphs">MN</text>
<text x="884.89" y="805.81" font-size="8.4" fill="#333" text-anchor="middle" textLength="14.2" lengthAdjust="spacingAndGlyphs">0.12</text>
<text x="905.88" y="805.81" font-size="8.4" fill="#333" text-anchor="middle" textLength="16.5" lengthAdjust="spacingAndGlyphs">-0.29</text>
<text x="926.86" y="805.81" font-size="8.4" fill="#333" text-anchor="middle" textLength="16.5" lengthAdjust="spacingAndGlyphs">-0.07</text>
<text x="947.84" y="805.81" font-size="8.4" fill="#333" text-anchor="middle" textLength="14.2" lengthAdjust="spacingAndGlyphs">0.47</text>
<text x="968.83" y="805.81" font-size="8.4" fill="#333" text-anchor="middle" textLength="14.2" lengthAdjust="spacingAndGlyphs">0.43</text>
<text x="989.81" y="805.81" font-size="8.4" fill="#333" text-anchor="middle" textLength="16.5" lengthAdjust="spacingAndGlyphs">-0.29</text>
<text x="1010.79" y="805.81" font-size="8.4" fill="#333" text-anchor="middle" textLength="16.5" lengthAdjust="spacingAndGlyphs">-0.31</text>
<text x="1031.78" y="805.81" font-size="8.4" fill="#333" text-anchor="middle" textLength="16.5" lengthAdjust="spacingAndGlyphs">-0.34</text>
<text x="1052.76" y="805.81" font-size="8.4" fill="#333" text-anchor="middle" textLength="16.5" lengthAdjust="spacingAndGlyphs">-0.37</text>
<text x="1073.74" y="805.81" font-size="8.4" fill="#fff" text-anchor="middle" textLength="14.2" lengthAdjust="spacingAndGlyphs">1.00</text>
<text x="1094.72" y="805.81" font-size="8.4" fill="#fff" text-anchor="middle" opacity="0.75" textLength="14.2" lengthAdjust="spacingAndGlyphs">0.68</text>
<text x="1115.71" y="805.81" font-size="8.4" fill="#fff" text-anchor="middle" textLength="14.2" lengthAdjust="spacingAndGlyphs">0.90</text>
<text x="863.20" y="802.71" font-size="9.6" fill="#000" text-anchor="middle" transform="rotate(90 863.20 802.71)" textLength="11.5" lengthAdjust="spacingAndGlyphs">LSI</text>
<line x1="870.5" y1="802.7" x2="873" y2="802.7" stroke="#666" stroke-width="0.7"/>
<text x="1073.74" y="866.60" font-size="10.2" fill="#111" text-anchor="middle" textLength="13.2" lengthAdjust="spacingAndGlyphs">LSI</text>
<text x="884.89" y="826.69" font-size="8.4" fill="#333" text-anchor="middle" textLength="14.2" lengthAdjust="spacingAndGlyphs">0.11</text>
<text x="905.88" y="826.69" font-size="8.4" fill="#fff" text-anchor="middle" opacity="0.75" textLength="16.5" lengthAdjust="spacingAndGlyphs">-0.49</text>
<text x="926.86" y="826.69" font-size="8.4" fill="#333" text-anchor="middle" textLength="16.5" lengthAdjust="spacingAndGlyphs">-0.03</text>
<text x="947.84" y="826.69" font-size="8.4" fill="#fff" text-anchor="middle" opacity="0.75" textLength="14.2" lengthAdjust="spacingAndGlyphs">0.61</text>
<text x="968.83" y="826.69" font-size="8.4" fill="#333" text-anchor="middle" textLength="14.2" lengthAdjust="spacingAndGlyphs">0.50</text>
<text x="989.81" y="826.69" font-size="8.4" fill="#fff" text-anchor="middle" opacity="0.75" textLength="16.5" lengthAdjust="spacingAndGlyphs">-0.48</text>
<text x="1010.79" y="826.69" font-size="8.4" fill="#fff" text-anchor="middle" opacity="0.75" textLength="16.5" lengthAdjust="spacingAndGlyphs">-0.49</text>
<text x="1031.78" y="826.69" font-size="8.4" fill="#fff" text-anchor="middle" opacity="0.75" textLength="16.5" lengthAdjust="spacingAndGlyphs">-0.51</text>
<text x="1052.76" y="826.69" font-size="8.4" fill="#fff" text-anchor="middle" opacity="0.75" textLength="16.5" lengthAdjust="spacingAndGlyphs">-0.48</text>
<text x="1073.74" y="826.69" font-size="8.4" fill="#fff" text-anchor="middle" opacity="0.75" textLength="14.2" lengthAdjust="spacingAndGlyphs">0.68</text>
<text x="1094.72" y="826.69" font-size="8.4" fill="#fff" text-anchor="middle" textLength="14.2" lengthAdjust="spacingAndGlyphs">1.00</text>
<text x="1115.71" y="826.69" font-size="8.4" fill="#333" text-anchor="middle" textLength="14.2" lengthAdjust="spacingAndGlyphs">0.44</text>
<text x="863.20" y="823.59" font-size="9.6" fill="#000" text-anchor="middle" transform="rotate(90 863.20 823.59)" textLength="10.7" lengthAdjust="spacingAndGlyphs">NP</text>
<line x1="870.5" y1="823.6" x2="873" y2="823.6" stroke="#666" stroke-width="0.7"/>
<text x="1094.72" y="866.60" font-size="10.2" fill="#111" text-anchor="middle" textLength="12.2" lengthAdjust="spacingAndGlyphs">NP</text>
<text x="884.89" y="847.56" font-size="8.4" fill="#333" text-anchor="middle" textLength="14.2" lengthAdjust="spacingAndGlyphs">0.15</text>
<text x="905.88" y="847.56" font-size="8.4" fill="#333" text-anchor="middle" textLength="16.5" lengthAdjust="spacingAndGlyphs">-0.10</text>
<text x="926.86" y="847.56" font-size="8.4" fill="#333" text-anchor="middle" textLength="16.5" lengthAdjust="spacingAndGlyphs">-0.08</text>
<text x="947.84" y="847.56" font-size="8.4" fill="#333" text-anchor="middle" textLength="14.2" lengthAdjust="spacingAndGlyphs">0.28</text>
<text x="968.83" y="847.56" font-size="8.4" fill="#333" text-anchor="middle" textLength="14.2" lengthAdjust="spacingAndGlyphs">0.27</text>
<text x="989.81" y="847.56" font-size="8.4" fill="#333" text-anchor="middle" textLength="16.5" lengthAdjust="spacingAndGlyphs">-0.14</text>
<text x="1010.79" y="847.56" font-size="8.4" fill="#333" text-anchor="middle" textLength="16.5" lengthAdjust="spacingAndGlyphs">-0.17</text>
<text x="1031.78" y="847.56" font-size="8.4" fill="#333" text-anchor="middle" textLength="16.5" lengthAdjust="spacingAndGlyphs">-0.20</text>
<text x="1052.76" y="847.56" font-size="8.4" fill="#333" text-anchor="middle" textLength="16.5" lengthAdjust="spacingAndGlyphs">-0.24</text>
<text x="1073.74" y="847.56" font-size="8.4" fill="#fff" text-anchor="middle" textLength="14.2" lengthAdjust="spacingAndGlyphs">0.90</text>
<text x="1094.72" y="847.56" font-size="8.4" fill="#333" text-anchor="middle" textLength="14.2" lengthAdjust="spacingAndGlyphs">0.44</text>
<text x="1115.71" y="847.56" font-size="8.4" fill="#fff" text-anchor="middle" textLength="14.2" lengthAdjust="spacingAndGlyphs">1.00</text>
<text x="863.20" y="844.46" font-size="9.6" fill="#000" text-anchor="middle" transform="rotate(90 863.20 844.46)" textLength="18.3" lengthAdjust="spacingAndGlyphs">SHID</text>
<line x1="870.5" y1="844.5" x2="873" y2="844.5" stroke="#666" stroke-width="0.7"/>
<text x="1115.71" y="866.60" font-size="10.2" fill="#111" text-anchor="middle" textLength="21.0" lengthAdjust="spacingAndGlyphs">SHID</text>
<rect x="1141.6" y="604.4" width="12" height="250.5" fill="url(#cb1)"/>
<line x1="1153.6" y1="606.0" x2="1156" y2="606.0" stroke="#555" stroke-width="0.8"/>
<text x="1157.00" y="611.60" font-size="16" fill="#1a1a1a" textLength="27.5">1.00</text>
<line x1="1153.6" y1="639.0" x2="1156" y2="639.0" stroke="#555" stroke-width="0.8"/>
<text x="1157.00" y="644.65" font-size="16" fill="#1a1a1a" textLength="27.5">0.75</text>
<line x1="1153.6" y1="672.1" x2="1156" y2="672.1" stroke="#555" stroke-width="0.8"/>
<text x="1157.00" y="677.70" font-size="16" fill="#1a1a1a" textLength="27.5">0.50</text>
<line x1="1153.6" y1="705.1" x2="1156" y2="705.1" stroke="#555" stroke-width="0.8"/>
<text x="1157.00" y="710.75" font-size="16" fill="#1a1a1a" textLength="27.5">0.25</text>
<line x1="1153.6" y1="738.2" x2="1156" y2="738.2" stroke="#555" stroke-width="0.8"/>
<text x="1157.00" y="743.80" font-size="16" fill="#1a1a1a" textLength="27.5">0.00</text>
<line x1="1153.6" y1="771.2" x2="1156" y2="771.2" stroke="#555" stroke-width="0.8"/>
<text x="1157.00" y="776.85" font-size="16" fill="#1a1a1a" textLength="34.5">-0.25</text>
<line x1="1153.6" y1="804.3" x2="1156" y2="804.3" stroke="#555" stroke-width="0.8"/>
<text x="1157.00" y="809.90" font-size="16" fill="#1a1a1a" textLength="34.5">-0.50</text>
<line x1="1153.6" y1="837.3" x2="1156" y2="837.3" stroke="#555" stroke-width="0.8"/>
<text x="1157.00" y="842.95" font-size="16" fill="#1a1a1a" textLength="34.5">-0.75</text>
<defs><filter id="mblur" x="-2%" y="-2%" width="104%" height="104%"><feGaussianBlur stdDeviation="0.55"/></filter></defs>
<clipPath id="mc1"><rect x="1195.2" y="155.4" width="196.8" height="167"/></clipPath>
<g clip-path="url(#mc1)"><g filter="url(#mblur)"><g transform="translate(1195.2,155.4) scale(0.18549) translate(-12,-13)">
<rect x="-8" y="-7" width="1100.9488000000001" height="940.297" fill="#ececea" />
<g transform="rotate(-27 540 460)" stroke="#f8f8f7" stroke-width="5">
<line x1="-300" y1="-300" x2="1500" y2="-300"/>
<line x1="-300" y1="-230" x2="1500" y2="-230"/>
<line x1="-300" y1="-160" x2="1500" y2="-160"/>
<line x1="-300" y1="-90" x2="1500" y2="-90"/>
<line x1="-300" y1="-20" x2="1500" y2="-20"/>
<line x1="-300" y1="50" x2="1500" y2="50"/>
<line x1="-300" y1="120" x2="1500" y2="120"/>
<line x1="-300" y1="190" x2="1500" y2="190"/>
<line x1="-300" y1="260" x2="1500" y2="260"/>
<line x1="-300" y1="330" x2="1500" y2="330"/>
<line x1="-300" y1="400" x2="1500" y2="400"/>
<line x1="-300" y1="470" x2="1500" y2="470"/>
<line x1="-300" y1="540" x2="1500" y2="540"/>
<line x1="-300" y1="610" x2="1500" y2="610"/>
<line x1="-300" y1="680" x2="1500" y2="680"/>
<line x1="-300" y1="750" x2="1500" y2="750"/>
<line x1="-300" y1="820" x2="1500" y2="820"/>
<line x1="-300" y1="890" x2="1500" y2="890"/>
<line x1="-300" y1="960" x2="1500" y2="960"/>
<line x1="-300" y1="1030" x2="1500" y2="1030"/>
<line x1="-300" y1="1100" x2="1500" y2="1100"/>
<line x1="-300" y1="1170" x2="1500" y2="1170"/>
<line x1="-300" y1="1240" x2="1500" y2="1240"/>
<line x1="-300" y1="1310" x2="1500" y2="1310"/>
<line x1="-300" y1="-400" x2="-300" y2="1400"/>
<line x1="-205" y1="-400" x2="-205" y2="1400"/>
<line x1="-110" y1="-400" x2="-110" y2="1400"/>
<line x1="-15" y1="-400" x2="-15" y2="1400"/>
<line x1="80" y1="-400" x2="80" y2="1400"/>
<line x1="175" y1="-400" x2="175" y2="1400"/>
<line x1="270" y1="-400" x2="270" y2="1400"/>
<line x1="365" y1="-400" x2="365" y2="1400"/>
<line x1="460" y1="-400" x2="460" y2="1400"/>
<line x1="555" y1="-400" x2="555" y2="1400"/>
<line x1="650" y1="-400" x2="650" y2="1400"/>
<line x1="745" y1="-400" x2="745" y2="1400"/>
<line x1="840" y1="-400" x2="840" y2="1400"/>
<line x1="935" y1="-400" x2="935" y2="1400"/>
<line x1="1030" y1="-400" x2="1030" y2="1400"/>
<line x1="1125" y1="-400" x2="1125" y2="1400"/>
<line x1="1220" y1="-400" x2="1220" y2="1400"/>
<line x1="1315" y1="-400" x2="1315" y2="1400"/>
<line x1="1410" y1="-400" x2="1410" y2="1400"/>
<line x1="1505" y1="-400" x2="1505" y2="1400"/>
</g>
<polygon points="12,13 300,13 330,60 277,104 84,199 12,230" fill="#b4c7a0" />
<polyline points="20,140 60,110 150,90 260,70 300,40" fill="none" stroke="#e9efe6" stroke-width="6" stroke-linejoin="round" />
<polyline points="60,60 100,35 160,40 200,80 150,100 90,95 60,60" fill="none" stroke="#e9efe6" stroke-width="6" stroke-linejoin="round" />
<polyline points="120,70 150,55 180,70 150,85 120,70" fill="none" stroke="#e9efe6" stroke-width="6" stroke-linejoin="round" />
<polyline points="12,100 60,80" fill="none" stroke="#e9efe6" stroke-width="6" stroke-linejoin="round" />
<polyline points="220,30 290,20" fill="none" stroke="#e9efe6" stroke-width="6" stroke-linejoin="round" />
<polygon points="12,70 40,62 48,100 12,115" fill="#c5cfdc" />
<polygon points="60,75 85,70 88,88 64,92" fill="#cbd4e0" />
<polygon points="30,205 84,199 120,262 60,290" fill="#f0f0ee" />
<polygon points="60,245 100,228 122,262 80,285" fill="#c9d2b4" />
<polygon points="290,13 470,13 560,120 700,260 760,330 900,520 1000,640 1075,730 1075,800 905,745 790,555 700,440 600,345 470,242 300,105" fill="#b9cca6" />
<polyline points="400,120 500,200 560,250 640,310 700,390" fill="none" stroke="#d6e0e4" stroke-width="15" stroke-linejoin="round" />
<polyline points="745,470 800,560 860,650 920,720" fill="none" stroke="#d2dde3" stroke-width="17" stroke-linejoin="round" />
<circle cx="430" cy="135" r="9" fill="#f4f6f4"/>
<circle cx="520" cy="215" r="9" fill="#f4f6f4"/>
<circle cx="585" cy="280" r="9" fill="#f4f6f4"/>
<circle cx="790" cy="520" r="9" fill="#f4f6f4"/>
<circle cx="850" cy="610" r="9" fill="#f4f6f4"/>
<polygon points="690,405 742,385 772,420 715,442" fill="#fbfbfa" />
<polygon points="755,500 800,488 812,520 768,532" fill="#fbfbfa" />
<polygon points="715,285 760,300 814,367 892,464 950,545 948,575 905,565 840,480 770,385" fill="#e3e9dc" />
<polygon points="682,236 997,79 1075,172 1075,665 1040,645 950,545 892,464 814,367" fill="#b4c78f" />
<polygon points="895,560 960,545 1012,612 950,642" fill="#a8c088" />
<polygon points="940,760 1000,740 1075,800 1075,870 1000,845" fill="#bccda9" />
<polygon points="960,590 1075,650 1075,700 990,660" fill="#bccda9" />
<polygon points="84,199 277,104 470,242 600,345 700,440 790,555 905,745 720,830 610,685 465,752 212,464" fill="#b4c78f" />
<polyline points="270,505 690,395" fill="none" stroke="#a4ba7d" stroke-width="7" stroke-linejoin="round" />
<polyline points="335,612 705,432" fill="none" stroke="#a4ba7d" stroke-width="7" stroke-linejoin="round" />
<polyline points="405,692 565,612" fill="none" stroke="#a4ba7d" stroke-width="7" stroke-linejoin="round" />
<polyline points="430,440 612,690" fill="none" stroke="#a4ba7d" stroke-width="7" stroke-linejoin="round" />
<polyline points="525,385 722,640" fill="none" stroke="#a4ba7d" stroke-width="7" stroke-linejoin="round" />
<polyline points="600,640 800,560" fill="none" stroke="#a4ba7d" stroke-width="7" stroke-linejoin="round" />
<polyline points="135,290 205,320" fill="none" stroke="#a4ba7d" stroke-width="7" stroke-linejoin="round" />
<polyline points="250,380 335,585" fill="none" stroke="#a4ba7d" stroke-width="7" stroke-linejoin="round" />
<polyline points="730,650 822,772" fill="none" stroke="#a4ba7d" stroke-width="7" stroke-linejoin="round" />
<polyline points="870,150 972,300" fill="none" stroke="#a4ba7d" stroke-width="7" stroke-linejoin="round" />
<polyline points="830,330 1075,250" fill="none" stroke="#a4ba7d" stroke-width="7" stroke-linejoin="round" />
<polyline points="940,520 1075,460" fill="none" stroke="#a4ba7d" stroke-width="7" stroke-linejoin="round" />
<polyline points="300,13 420,80 550,196 700,340 800,464 950,670 1075,790" fill="none" stroke="#c5bad6" stroke-width="17" stroke-linejoin="round" />
<circle cx="806" cy="478" r="9" fill="none" stroke="#a898c4" stroke-width="4"/>
<polyline points="2,212 200,474 450,762 552,928" fill="none" stroke="#e1ddc8" stroke-width="20" stroke-linejoin="round" />
<polyline points="12,770 314,625 440,700" fill="none" stroke="#e3dfcf" stroke-width="10" stroke-linejoin="round" />
<polyline points="231,925 289,737 372,698 455,690" fill="none" stroke="#e3dfcf" stroke-width="9" stroke-linejoin="round" />
<polyline points="284,810 348,820 431,776 500,745" fill="none" stroke="#e3dfcf" stroke-width="9" stroke-linejoin="round" />
<polyline points="700,13 880,230" fill="none" stroke="#e6e3d4" stroke-width="8" stroke-linejoin="round" />
<polyline points="682,236 997,79 1075,45" fill="none" stroke="#e6e3d4" stroke-width="9" stroke-linejoin="round" />
<polyline points="997,79 1075,172" fill="none" stroke="#e6e3d4" stroke-width="8" stroke-linejoin="round" />
<polyline points="560,745 700,928" fill="none" stroke="#dbbcc0" stroke-width="4" stroke-linejoin="round" />
<polyline points="905,745 1075,668" fill="none" stroke="#dcc2be" stroke-width="5" stroke-linejoin="round" />
<polygon points="93,564 117,508 198,471 207,498 173,527 154,576" fill="#bccdaa" />
<polygon points="150,535 190,520 196,548 160,560" fill="#d3dde6" />
<path d="M330,280h160M330,298h170M330,312h100M262,348h80M262,380h200M262,392h90M555,405h90M560,420h70M310,528h110M425,595h95M585,605h70M600,622h60M890,410h60M915,440h90M920,455h70M140,320h55M165,365h40M85,775h80M85,795h40M575,760h100M570,790h130M100,855h75M95,880h80" stroke="#6f7f58" stroke-width="4" opacity="0.5" fill="none"/>
</g></g></g>
<clipPath id="mc2"><rect x="1194.6000000000001" y="336.4" width="197.4" height="167"/></clipPath>
<g clip-path="url(#mc2)"><g filter="url(#mblur)"><g transform="translate(1195.2,336.4) scale(0.18549) translate(-10.8,-12.9)">
<rect x="-9.2" y="-7.1" width="1100.9488000000001" height="940.297" fill="#f7f7f5" />
<rect x="110" y="30" width="230" height="160" fill="#fbfbfa" />
<rect x="560" y="30" width="120" height="180" fill="#fbfbfa" />
<rect x="250" y="260" width="90" height="240" fill="#fbfbfa" />
<rect x="450" y="530" width="440" height="120" fill="#fbfbfa" />
<rect x="700" y="540" width="230" height="330" fill="#fbfbfa" />
<rect x="420" y="700" width="90" height="180" fill="#fbfbfa" />
<rect x="880" y="250" width="180" height="240" fill="#fbfbfa" />
<rect x="255" y="265" width="3" height="230" fill="#ececea" />
<rect x="264" y="265" width="3" height="230" fill="#ececea" />
<rect x="273" y="265" width="3" height="230" fill="#ececea" />
<rect x="282" y="265" width="3" height="230" fill="#ececea" />
<rect x="291" y="265" width="3" height="230" fill="#ececea" />
<rect x="300" y="265" width="3" height="230" fill="#ececea" />
<rect x="309" y="265" width="3" height="230" fill="#ececea" />
<rect x="318" y="265" width="3" height="230" fill="#ececea" />
<rect x="327" y="265" width="3" height="230" fill="#ececea" />
<polygon points="10,20 90,20 90,213 10,213" fill="#b5c7a1" />
<polygon points="10,64 29,64 32,157 10,157" fill="#cdd5de" />
<rect x="62" y="150" width="30" height="10" fill="#f7f7f5" />
<rect x="107" y="196" width="25" height="20" fill="#b5c7a1" />
<rect x="146" y="201" width="44" height="15" fill="#b5c7a1" />
<rect x="200" y="196" width="25" height="14" fill="#b5c7a1" />
<rect x="10" y="245" width="60" height="10" fill="#b5c7a1" />
<rect x="105" y="240" width="28" height="8" fill="#b5c7a1" />
<polygon points="10,308 56,316 50,370 58,430 10,430" fill="#b5c7a1" />
<polygon points="10,464 58,464 58,554 10,554" fill="#b5c7a1" />
<polygon points="439,30 508,30 510,216 439,216" fill="#c6d5b6" />
<rect x="446" y="50" width="6" height="120" fill="#f4f6f2" />
<rect x="458" y="80" width="6" height="120" fill="#f4f6f2" />
<rect x="470" y="50" width="6" height="120" fill="#f4f6f2" />
<rect x="482" y="80" width="6" height="120" fill="#f4f6f2" />
<rect x="494" y="50" width="6" height="120" fill="#f4f6f2" />
<polygon points="600,30 690,50 690,70 610,60" fill="#c6d5b6" />
<polygon points="710,143 783,138 803,108 842,103 861,84 988,103 1057,123 1066,206 988,230 690,230 690,216" fill="#b5c7a1" />
<polygon points="886,118 1042,128 1042,206 886,200" fill="#fafaf8" />
<polygon points="800,150 880,145 880,200 800,205" fill="#e9eee4" />
<rect x="905" y="138" width="22" height="18" fill="#b5c7a1" />
<rect x="735" y="165" width="22" height="30" fill="#d3dae2" />
<rect x="1020" y="125" width="30" height="20" fill="#b5c7a1" />
<rect x="700" y="25" width="60" height="14" fill="#c6d5b6" />
<rect x="800" y="30" width="80" height="12" fill="#c6d5b6" />
<rect x="900" y="30" width="100" height="10" fill="#c6d5b6" />
<rect x="690" y="75" width="90" height="12" fill="#c6d5b6" />
<polygon points="759,323 837,309 866,401 778,416" fill="#b5c7a1" />
<polygon points="817,421 890,416 892,462 822,466" fill="#b5c7a1" />
<rect x="847" y="270" width="53" height="19" fill="#c6d5b6" />
<rect x="920" y="265" width="140" height="9" fill="#c6d5b6" />
<rect x="556" y="262" width="45" height="40" fill="#c6d5b6" />
<rect x="610" y="262" width="30" height="14" fill="#c6d5b6" />
<rect x="576" y="478" width="92" height="15" fill="#c6d5b6" />
<rect x="870" y="540" width="130" height="7" fill="#c6d5b6" />
<rect x="940" y="500" width="120" height="6" fill="#c6d5b6" />
<polyline points="861,323 912,328" fill="none" stroke="#c6d5b6" stroke-width="9" stroke-linejoin="round" />
<polyline points="861,345 912,350" fill="none" stroke="#c6d5b6" stroke-width="9" stroke-linejoin="round" />
<polyline points="861,365 912,370" fill="none" stroke="#c6d5b6" stroke-width="9" stroke-linejoin="round" />
<rect x="254" y="566" width="63" height="17" fill="#b5c7a1" />
<rect x="254" y="595" width="63" height="17" fill="#b5c7a1" />
<rect x="254" y="622" width="63" height="20" fill="#b5c7a1" />
<rect x="254" y="540" width="63" height="12" fill="#dde6d4" />
<rect x="254" y="656" width="58" height="32" fill="#dfe6e0" />
<rect x="327" y="551" width="10" height="103" fill="#c6d5b6" />
<rect x="334" y="708" width="15" height="53" fill="#b5c7a1" />
<rect x="144" y="859" width="17" height="34" fill="#b5c7a1" />
<rect x="178" y="859" width="46" height="15" fill="#c6d5b6" />
<polygon points="632,600 666,590 660,650 636,655" fill="#b5c7a1" />
<rect x="438" y="672" width="18" height="18" fill="#b5c7a1" />
<rect x="930" y="510" width="100" height="115" fill="#dfe8d6" />
<rect x="938" y="518" width="84" height="99" fill="#f7f8f4" />
<rect x="965" y="675" width="62" height="50" fill="#dfe8d6" />
<rect x="973" y="683" width="46" height="34" fill="#f7f8f4" />
<rect x="985" y="740" width="75" height="95" fill="#dfe8d6" />
<rect x="993" y="748" width="59" height="79" fill="#f7f8f4" />
<rect x="1025" y="745" width="22" height="85" fill="#c6d5b6" />
<polyline points="700,13 890,69 1075,128" fill="none" stroke="#dddcd2" stroke-width="16" stroke-linejoin="round" />
<polyline points="10,228 700,240 960,242 1075,222" fill="none" stroke="#d6d4c8" stroke-width="22" stroke-linejoin="round" />
<polyline points="381,13 351,235 347,463 352,600" fill="none" stroke="#deddd3" stroke-width="16" stroke-linejoin="round" />
<polyline points="425,13 395,235 371,463 372,640 392,915" fill="none" stroke="#d3d1c5" stroke-width="40" stroke-linejoin="round" />
<polyline points="425,13 395,235 371,463 372,640 392,915" fill="none" stroke="#c4c1b3" stroke-width="6" stroke-linejoin="round" />
<polyline points="405,13 380,235" fill="none" stroke="#e8e7df" stroke-width="8" stroke-linejoin="round" />
<polyline points="0,812 83,854 130,915" fill="none" stroke="#d6dbe3" stroke-width="15" stroke-linejoin="round" />
<polyline points="310,690 285,760 300,800 330,830" fill="none" stroke="#ffffff" stroke-width="9" stroke-linejoin="round" />
<polygon points="90,259 240,259 240,509 75,509" fill="#f4c5b1" />
<polygon points="72,525 240,525 240,678 291,703 282,828 240,825 162,850 27,744 68,668" fill="#f4c5b1" />
<polygon points="434,254 535,254 540,318 650,318 647,261 744,261 790,515 680,515 676,452 600,452 596,375 550,375 560,515 395,515 402,400" fill="#f4c5b1" />
<polygon points="520,675 625,660 680,820 732,897 590,862 560,780" fill="#f4c5b1" />
<path d="M135,300h90M125,322h140M150,382h50M115,620h110M100,640h40M455,290h60M420,312h110M410,378h110M440,470h70M425,490h75M660,312h70M525,735h60M540,760h40" stroke="#a97f6e" stroke-width="4" opacity="0.55" fill="none"/>
<path d="M275,475h95M460,625h100M460,645h130M460,662h120M720,590h130M735,612h100M660,780h70M810,775h80M745,840h70M760,858h80M910,392h90M930,408h50M190,238h120M450,240h150M950,250h110M520,580h110M740,730h130M415,517h100" stroke="#8d8d88" stroke-width="4" opacity="0.45" fill="none"/>
</g></g></g>
<clipPath id="mc3"><rect x="1193.5" y="517.4" width="198.5" height="167"/></clipPath>
<g clip-path="url(#mc3)"><g filter="url(#mblur)"><g transform="translate(1195.2,517.4) scale(0.18549) translate(-10.8,-13)">
<rect x="-9.2" y="-7" width="1100.9488000000001" height="940.297" fill="#f9f8f3" />
<polygon points="585,18 795,18 795,110 585,110" fill="#dbe6d0" />
<polygon points="715,21 778,21 770,60 740,78 700,95 690,70" fill="#c9d5ea" />
<polygon points="578,21 617,21 612,55 585,62" fill="#cfd9ea" />
<polygon points="620,25 700,22 690,75 640,95 600,80" fill="#c3d4b5" />
<rect x="585" y="395" width="330" height="220" fill="#fdfdfb" />
<rect x="585" y="640" width="330" height="215" fill="#fdfdfb" />
<rect x="180" y="340" width="165" height="280" fill="#fbfbf8" />
<polygon points="25,70 530,70 530,150 100,150 60,168 12,168 12,140 25,140" fill="#f3ddc0" />
<polygon points="560,165 925,165 925,452 565,350" fill="#f3ddc0" />
<polygon points="361,322 470,338 470,300 490,285 528,275 528,870 365,870" fill="#f3ddc0" />
<polyline points="12,150 1075,150" fill="none" stroke="#e9dfc0" stroke-width="13" stroke-linejoin="round" />
<polyline points="12,175 120,240 540,345 1075,503" fill="none" stroke="#e9dfc0" stroke-width="20" stroke-linejoin="round" />
<polyline points="160,260 160,630" fill="none" stroke="#e9dfc0" stroke-width="12" stroke-linejoin="round" />
<polyline points="355,320 355,870" fill="none" stroke="#e9dfc0" stroke-width="12" stroke-linejoin="round" />
<polyline points="930,160 930,870" fill="none" stroke="#e9dfc0" stroke-width="12" stroke-linejoin="round" />
<polyline points="12,628 1075,628" fill="none" stroke="#e9dfc0" stroke-width="11" stroke-linejoin="round" />
<polyline points="120,160 120,235" fill="none" stroke="#e9dfc0" stroke-width="8" stroke-linejoin="round" />
<polyline points="800,18 800,150" fill="none" stroke="#e9dfc0" stroke-width="6" stroke-linejoin="round" />
<polyline points="180,300 350,320" fill="none" stroke="#e9dfc0" stroke-width="5" stroke-linejoin="round" />
<polyline points="570,380 570,860" fill="none" stroke="#dfe7cf" stroke-width="7" stroke-linejoin="round" />
<polyline points="12,874 1075,874" fill="none" stroke="#eadfc6" stroke-width="22" stroke-linejoin="round" />
<polyline points="548,13 548,915" fill="none" stroke="#d9d3be" stroke-width="30" stroke-linejoin="round" />
<polyline points="548,13 548,915" fill="none" stroke="#f1ede0" stroke-width="6" stroke-linejoin="round" />
<path d="M216,478 A42,42 0 0 1 300,478" fill="none" stroke="#b9cfa3" stroke-width="16"/>
<circle cx="258" cy="478" r="17" fill="none" stroke="#bfd2aa" stroke-width="7"/>
<rect x="25" y="370" width="110" height="12" fill="#c8d8b6" />
<rect x="30" y="400" width="20" height="40" fill="#c8d8b6" />
<rect x="60" y="530" width="80" height="30" fill="#c8d8b6" />
<rect x="30" y="590" width="120" height="14" fill="#c8d8b6" />
<rect x="960" y="740" width="60" height="50" fill="#c8d8b6" />
<rect x="1020" y="310" width="40" height="20" fill="#c8d8b6" />
<rect x="950" y="660" width="50" height="12" fill="#c8d8b6" />
<rect x="1000" y="180" width="60" height="14" fill="#c8d8b6" />
<rect x="380" y="350" width="30" height="30" fill="#c8d8b6" />
<rect x="480" y="360" width="40" height="30" fill="#c8d8b6" />
<rect x="30" y="230" width="14" height="30" fill="#c8d8b6" />
<rect x="970" y="590" width="60" height="10" fill="#c8d8b6" />
<rect x="390" y="440" width="120" height="10" fill="#e6d2a8" opacity="0.7"/>
<rect x="380" y="490" width="130" height="8" fill="#e6d2a8" opacity="0.7"/>
<rect x="440" y="520" width="70" height="40" fill="#e6d2a8" opacity="0.7"/>
<rect x="385" y="560" width="60" height="30" fill="#e6d2a8" opacity="0.7"/>
<path d="M60,90h90M65,108h80M260,95h110M265,120h40M230,270h210M380,290h90M90,290h60M95,308h60M210,318h80M12,490h120M20,508h60M210,520h70M200,595h80M330,608h90M570,410h80M565,480h90M640,515h80M640,535h100M640,552h70M760,490h90M620,625h120M690,660h80M120,755h60M95,800h130M20,715h70M90,858h220M830,880h140M410,625h100M425,650h90M425,668h80M400,740h70M400,760h90M400,775h80M400,848h60M610,830h60M730,215h60M760,255h70M600,320h70M600,340h60M570,300h120M840,425h60M970,430h60M980,445h60" stroke="#9a9383" stroke-width="4" opacity="0.42" fill="none"/>
</g></g></g>
<clipPath id="mc4"><rect x="1193.5" y="701.3" width="198.5" height="167"/></clipPath>
<g clip-path="url(#mc4)"><g filter="url(#mblur)"><g transform="translate(1195.2,701.3) scale(0.18549) translate(-10.8,-12.4)">
<rect x="-9.2" y="-7.6" width="1100.9488000000001" height="940.297" fill="#f0efed" />
<polygon points="180,440 380,440 340,560 180,570" fill="#f6eae4" />
<polygon points="690,470 800,470 830,600 700,620" fill="#f6eae6" />
<polygon points="700,640 1000,640 1000,915 700,915" fill="#f5ebe5" />
<polygon points="12,13 140,13 140,180 12,200" fill="#f4f0ee" />
<polygon points="200,100 450,60 470,140 210,170" fill="#fbfbfa" />
<polygon points="880,13 1075,13 1075,45 880,100" fill="#f8f8f6" />
<polygon points="132,30 337,20 337,74 254,99 200,108 195,147 171,128 156,108" fill="#c5d3b4" />
<polygon points="205,108 273,104 273,157 205,160" fill="#fafafa" />
<polygon points="264,99 371,80 371,147 264,150" fill="#fbfbfb" />
<polygon points="12,40 78,35 78,98 12,105" fill="#d6ddd1" />
<polygon points="410,13 470,13 470,40 420,45" fill="#c5d3b2" />
<polygon points="12,210 470,140 520,60 640,13 800,13 880,100 1075,45 1075,535 880,570 810,590 790,478 675,478 675,600 500,640 480,640 390,585 340,540 340,490 380,440 470,440 470,400 12,432" fill="#c4d7a2" />
<polygon points="30,430 180,430 180,690 60,690" fill="#c4d7a2" />
<polygon points="308,304 449,300 449,401 308,401" fill="#d0e3b3" />
<polygon points="308,323 342,323 342,372 308,372" fill="#bed09d" />
<polygon points="160,200 290,190 300,260 170,270" fill="#cbdcaa" />
<polygon points="472,402 578,395 612,515 505,520" fill="#f4f6f2" />
<polygon points="500,430 540,425 550,470 510,475" fill="#dfe6ee" />
<polygon points="560,520 640,518 640,600 565,610" fill="#d9e4cc" />
<polygon points="590,520 635,520 635,590 595,592" fill="#f0f3ee" />
<polygon points="330,690 720,670 735,830 340,830" fill="#cfdfd0" />
<polygon points="330,690 400,690 400,770 330,780" fill="#d5ead8" />
<rect x="500" y="730" width="70" height="30" fill="#b3c6ea" />
<rect x="600" y="690" width="110" height="45" fill="#b3c6ea" />
<rect x="610" y="740" width="90" height="35" fill="#b3c6ea" />
<rect x="380" y="775" width="90" height="22" fill="#b3c6ea" />
<rect x="580" y="790" width="100" height="40" fill="#b3c6ea" />
<rect x="400" y="712" width="20" height="20" fill="#b3c6ea" />
<rect x="430" y="710" width="155" height="14" fill="#f4f6f4" />
<polygon points="890,580 1075,550 1075,650 930,665 900,630" fill="#bccfa8" />
<polygon points="960,590 1000,585 1000,640 960,640" fill="#dde6d6" />
<polygon points="760,400 800,390 810,430 770,440" fill="#b7c9c0" />
<polygon points="12,740 60,730 80,780 12,810" fill="#c5d3b2" />
<polygon points="40,850 300,840 310,900 40,910" fill="#c9d6c0" />
<polygon points="30,860 80,850 90,905 30,910" fill="#b9cce6" />
<polygon points="700,820 790,815 790,860 700,865" fill="#dbe4ee" />
<polyline points="30,425 470,400 1075,385" fill="none" stroke="#dfd98f" stroke-width="6" stroke-linejoin="round" />
<polyline points="470,140 500,330 520,640" fill="none" stroke="#dfd98f" stroke-width="6" stroke-linejoin="round" />
<polyline points="470,200 780,170 1075,60" fill="none" stroke="#dfd98f" stroke-width="6" stroke-linejoin="round" />
<polyline points="640,100 700,330 720,470" fill="none" stroke="#dfd98f" stroke-width="6" stroke-linejoin="round" />
<polyline points="760,230 800,430" fill="none" stroke="#dfd98f" stroke-width="6" stroke-linejoin="round" />
<polyline points="820,180 960,360" fill="none" stroke="#dfd98f" stroke-width="6" stroke-linejoin="round" />
<polyline points="990,400 985,560" fill="none" stroke="#dfd98f" stroke-width="6" stroke-linejoin="round" />
<polyline points="410,410 440,560" fill="none" stroke="#dfd98f" stroke-width="6" stroke-linejoin="round" />
<polyline points="665,480 680,600" fill="none" stroke="#dfd98f" stroke-width="6" stroke-linejoin="round" />
<polyline points="30,520 50,690" fill="none" stroke="#dfd98f" stroke-width="6" stroke-linejoin="round" />
<polyline points="180,580 340,575" fill="none" stroke="#dfd98f" stroke-width="6" stroke-linejoin="round" />
<polyline points="690,690 880,685" fill="none" stroke="#dfd98f" stroke-width="6" stroke-linejoin="round" />
<polyline points="980,700 990,915" fill="none" stroke="#dfd98f" stroke-width="6" stroke-linejoin="round" />
<polyline points="300,640 340,840 400,915" fill="none" stroke="#dfd98f" stroke-width="6" stroke-linejoin="round" />
<polyline points="500,250 1075,225" fill="none" stroke="#dfd98f" stroke-width="6" stroke-linejoin="round" />
<polyline points="560,60 700,120" fill="none" stroke="#dfd98f" stroke-width="6" stroke-linejoin="round" />
<polyline points="470,300 700,290" fill="none" stroke="#dfd98f" stroke-width="6" stroke-linejoin="round" />
<polyline points="12,320 230,560 300,650" fill="none" stroke="#a9bf90" stroke-width="3" stroke-linejoin="round" />
<polyline points="70,700 100,780 250,850 400,870" fill="none" stroke="#9cc4c8" stroke-width="3" stroke-linejoin="round" />
<polyline points="690,600 900,545 1075,520" fill="none" stroke="#a8cfe0" stroke-width="3" stroke-linejoin="round" />
<polyline points="850,640 810,740 830,800" fill="none" stroke="#b9c4e8" stroke-width="2.5" stroke-linejoin="round" />
<polyline points="12,830 60,760 130,705 400,665 700,615 900,570 1075,548" fill="none" stroke="#efc688" stroke-width="9" stroke-linejoin="round" />
<polyline points="12,790 70,740" fill="none" stroke="#efbe74" stroke-width="5" stroke-linejoin="round" />
<polyline points="1075,700 1030,800 1020,850" fill="none" stroke="#eacb80" stroke-width="5" stroke-linejoin="round" />
<ellipse cx="850" cy="585" rx="35" ry="22" fill="none" stroke="#efc484" stroke-width="5"/>
<polyline points="480,13 600,190 730,380 800,500 870,620 970,722" fill="none" stroke="#b0a8c2" stroke-width="10" stroke-linejoin="round" />
<polyline points="795,13 960,222 1075,362" fill="none" stroke="#b0a8c2" stroke-width="10" stroke-linejoin="round" />
<polyline points="1000,860 1075,850" fill="none" stroke="#a79ac4" stroke-width="4" stroke-linejoin="round" />
<rect x="722" y="372" width="22" height="20" fill="#9b8fc4" />
<rect x="428" y="287" width="52" height="17" fill="#7fc3a0" />
<rect x="135" y="437" width="60" height="17" fill="#7fc3a0" />
<rect x="925" y="393" width="50" height="17" fill="#7fc3a0" />
<rect x="775" y="843" width="85" height="17" fill="#7fc3a0" />
<path d="M390,165h80M395,182h70M510,148h50M540,290h110M555,322h90M550,336h100M580,350h80M660,265h70M840,358h70M715,437h45M230,410h170M125,600h110M110,615h120M120,632h110M255,580h90M80,688h90M365,655h120M640,600h80M760,662h120M875,645h110M430,718h150M480,750h70M385,788h90M170,818h80M130,885h170M880,842h120" stroke="#7c8a66" stroke-width="4" opacity="0.42" fill="none"/>
</g></g></g>
<text x="1294.60" y="175.20" font-size="14.7" fill="#111" text-anchor="middle" stroke="#111" stroke-width="0.2" textLength="56.5">Industrial</text>
<text x="1296.70" y="313.60" font-size="9.6" fill="#555" text-anchor="middle" stroke="#fff" stroke-width="1.6" stroke-opacity="0.75" paint-order="stroke" textLength="107.5" lengthAdjust="spacingAndGlyphs">Industrial Buildings and Parks</text>
<text x="1293.30" y="357.50" font-size="14.7" fill="#111" text-anchor="middle" stroke="#111" stroke-width="0.2" textLength="55.5">Resident</text>
<text x="1292.80" y="493.20" font-size="9.6" fill="#555" text-anchor="middle" stroke="#fff" stroke-width="1.6" stroke-opacity="0.75" paint-order="stroke" textLength="75.5" lengthAdjust="spacingAndGlyphs">Residential Buildings</text>
<text x="1292.80" y="533.00" font-size="14.7" fill="#111" text-anchor="middle" stroke="#111" stroke-width="0.2" textLength="56.5">Business</text>
<text x="1292.80" y="665.30" font-size="9.6" fill="#555" text-anchor="middle" stroke="#fff" stroke-width="1.6" stroke-opacity="0.75" paint-order="stroke" textLength="78.5" lengthAdjust="spacingAndGlyphs">Commercial Buildings</text>
<text x="1292.80" y="721.00" font-size="14.7" fill="#111" text-anchor="middle" stroke="#111" stroke-width="0.2" textLength="36">Office</text>
<text x="1290.20" y="856.60" font-size="9.6" fill="#555" text-anchor="middle" stroke="#fff" stroke-width="1.6" stroke-opacity="0.75" paint-order="stroke" textLength="56.5" lengthAdjust="spacingAndGlyphs">Office Buildings</text>
<text x="1178.00" y="117.80" font-size="14.8" fill="#1a1a1a" textLength="202.00" >Analysis 4 building types most</text>
<text x="1185.60" y="133.80" font-size="14.8" fill="#1a1a1a" textLength="185.90" >impacting carbon emissions</text>
<text x="1439.40" y="117.80" font-size="14.8" fill="#1a1a1a" textLength="111.20" >Landscape index</text>
<text x="1416.20" y="133.80" font-size="14.8" fill="#1a1a1a" textLength="157.60" >and CD,CER Correlation</text>
<text x="1686.30" y="117.80" font-size="14.8" fill="#1a1a1a" textLength="97.50" >Building factor</text>
<text x="1656.60" y="133.80" font-size="14.8" fill="#1a1a1a" textLength="157.30" >and CD,CER Correlation</text>
<path d="M1402,306.3 V159 H1622.5 V312.3" fill="none" stroke="#e4e4e0" stroke-width="0.8"/>
<path d="M1402,306.3 H1585" fill="none" stroke="#e4e4e0" stroke-width="0.8"/>
<path d="M1633.6,302.6 V157.4 H1842 M1633.6,302.6 H1842" fill="none" stroke="#e4e4e0" stroke-width="0.8"/>
<defs><linearGradient id="gl0" x1="0" y1="0" x2="0" y2="1"><stop offset="0.000" stop-color="#8a9f57"/><stop offset="0.042" stop-color="#96a968"/><stop offset="0.083" stop-color="#a1b278"/><stop offset="0.125" stop-color="#acbb88"/><stop offset="0.167" stop-color="#b6c396"/><stop offset="0.208" stop-color="#c0cba4"/><stop offset="0.250" stop-color="#c9d3b1"/><stop offset="0.292" stop-color="#d1d9bd"/><stop offset="0.333" stop-color="#d8e0c7"/><stop offset="0.375" stop-color="#dfe5d1"/><stop offset="0.417" stop-color="#e4ead9"/><stop offset="0.458" stop-color="#e9eddf"/><stop offset="0.500" stop-color="#ebefe2"/><stop offset="0.542" stop-color="#e9eedf"/><stop offset="0.583" stop-color="#e6ebda"/><stop offset="0.625" stop-color="#e1e7d4"/><stop offset="0.667" stop-color="#dce3cc"/><stop offset="0.708" stop-color="#d6dec3"/><stop offset="0.750" stop-color="#cfd9ba"/><stop offset="0.792" stop-color="#c8d3af"/><stop offset="0.833" stop-color="#c1cda4"/><stop offset="0.875" stop-color="#b8c798"/><stop offset="0.917" stop-color="#b0c08b"/><stop offset="0.958" stop-color="#a7b97e"/><stop offset="1.000" stop-color="#9db170"/></linearGradient></defs>
<rect x="1405.90" y="166.10" width="15.26" height="12.70" fill="#8a9f57"/>
<rect x="1420.91" y="166.10" width="15.26" height="12.70" fill="#eaeee0"/>
<rect x="1435.92" y="166.10" width="15.26" height="12.70" fill="#c1cda4"/>
<rect x="1450.93" y="166.10" width="15.26" height="12.70" fill="#c1cda4"/>
<rect x="1465.94" y="166.10" width="15.26" height="12.70" fill="#c3cea8"/>
<rect x="1480.95" y="166.10" width="15.26" height="12.70" fill="#c2cda7"/>
<rect x="1495.95" y="166.10" width="15.26" height="12.70" fill="#c3cea8"/>
<rect x="1510.96" y="166.10" width="15.26" height="12.70" fill="#bdc9a0"/>
<rect x="1525.97" y="166.10" width="15.26" height="12.70" fill="#c1cda4"/>
<rect x="1540.98" y="166.10" width="15.26" height="12.70" fill="#c1cda4"/>
<rect x="1555.99" y="166.10" width="15.26" height="12.70" fill="#cfd9b9"/>
<rect x="1405.90" y="178.55" width="15.26" height="12.70" fill="#eaeee0"/>
<rect x="1420.91" y="178.55" width="15.26" height="12.70" fill="#8a9f57"/>
<rect x="1435.92" y="178.55" width="15.26" height="12.70" fill="#eaeee0"/>
<rect x="1450.93" y="178.55" width="15.26" height="12.70" fill="#eaeee0"/>
<rect x="1465.94" y="178.55" width="15.26" height="12.70" fill="#eaeee0"/>
<rect x="1480.95" y="178.55" width="15.26" height="12.70" fill="#eaeee0"/>
<rect x="1495.95" y="178.55" width="15.26" height="12.70" fill="#e9eedf"/>
<rect x="1510.96" y="178.55" width="15.26" height="12.70" fill="#e9eedf"/>
<rect x="1525.97" y="178.55" width="15.26" height="12.70" fill="#e8edde"/>
<rect x="1540.98" y="178.55" width="15.26" height="12.70" fill="#eaeee0"/>
<rect x="1555.99" y="178.55" width="15.26" height="12.70" fill="#e8edde"/>
<rect x="1405.90" y="190.99" width="15.26" height="12.70" fill="#c1cda4"/>
<rect x="1420.91" y="190.99" width="15.26" height="12.70" fill="#eaeee0"/>
<rect x="1435.92" y="190.99" width="15.26" height="12.70" fill="#8a9f57"/>
<rect x="1450.93" y="190.99" width="15.26" height="12.70" fill="#8a9f57"/>
<rect x="1465.94" y="190.99" width="15.26" height="12.70" fill="#9db170"/>
<rect x="1480.95" y="190.99" width="15.26" height="12.70" fill="#a1b476"/>
<rect x="1495.95" y="190.99" width="15.26" height="12.70" fill="#a1b476"/>
<rect x="1510.96" y="190.99" width="15.26" height="12.70" fill="#a0b374"/>
<rect x="1525.97" y="190.99" width="15.26" height="12.70" fill="#a6b680"/>
<rect x="1540.98" y="190.99" width="15.26" height="12.70" fill="#8a9f57"/>
<rect x="1555.99" y="190.99" width="15.26" height="12.70" fill="#c3cea8"/>
<rect x="1405.90" y="203.44" width="15.26" height="12.70" fill="#c1cda4"/>
<rect x="1420.91" y="203.44" width="15.26" height="12.70" fill="#eaeee0"/>
<rect x="1435.92" y="203.44" width="15.26" height="12.70" fill="#8a9f57"/>
<rect x="1450.93" y="203.44" width="15.26" height="12.70" fill="#8a9f57"/>
<rect x="1465.94" y="203.44" width="15.26" height="12.70" fill="#9db170"/>
<rect x="1480.95" y="203.44" width="15.26" height="12.70" fill="#a1b476"/>
<rect x="1495.95" y="203.44" width="15.26" height="12.70" fill="#a1b476"/>
<rect x="1510.96" y="203.44" width="15.26" height="12.70" fill="#a0b374"/>
<rect x="1525.97" y="203.44" width="15.26" height="12.70" fill="#a6b680"/>
<rect x="1540.98" y="203.44" width="15.26" height="12.70" fill="#8a9f57"/>
<rect x="1555.99" y="203.44" width="15.26" height="12.70" fill="#c3cea8"/>
<rect x="1405.90" y="215.88" width="15.26" height="12.70" fill="#c3cea8"/>
<rect x="1420.91" y="215.88" width="15.26" height="12.70" fill="#eaeee0"/>
<rect x="1435.92" y="215.88" width="15.26" height="12.70" fill="#9db170"/>
<rect x="1450.93" y="215.88" width="15.26" height="12.70" fill="#9db170"/>
<rect x="1465.94" y="215.88" width="15.26" height="12.70" fill="#8a9f57"/>
<rect x="1480.95" y="215.88" width="15.26" height="12.70" fill="#9fb075"/>
<rect x="1495.95" y="215.88" width="15.26" height="12.70" fill="#a1b277"/>
<rect x="1510.96" y="215.88" width="15.26" height="12.70" fill="#9fb075"/>
<rect x="1525.97" y="215.88" width="15.26" height="12.70" fill="#bac89b"/>
<rect x="1540.98" y="215.88" width="15.26" height="12.70" fill="#9db170"/>
<rect x="1555.99" y="215.88" width="15.26" height="12.70" fill="#cad4b1"/>
<rect x="1405.90" y="228.33" width="15.26" height="12.70" fill="#c2cda7"/>
<rect x="1420.91" y="228.33" width="15.26" height="12.70" fill="#eaeee0"/>
<rect x="1435.92" y="228.33" width="15.26" height="12.70" fill="#a1b476"/>
<rect x="1450.93" y="228.33" width="15.26" height="12.70" fill="#a1b476"/>
<rect x="1465.94" y="228.33" width="15.26" height="12.70" fill="#9fb075"/>
<rect x="1480.95" y="228.33" width="15.26" height="12.70" fill="#8a9f57"/>
<rect x="1495.95" y="228.33" width="15.26" height="12.70" fill="#8da25b"/>
<rect x="1510.96" y="228.33" width="15.26" height="12.70" fill="#96a969"/>
<rect x="1525.97" y="228.33" width="15.26" height="12.70" fill="#b9c799"/>
<rect x="1540.98" y="228.33" width="15.26" height="12.70" fill="#a1b476"/>
<rect x="1555.99" y="228.33" width="15.26" height="12.70" fill="#ccd7b5"/>
<rect x="1405.90" y="240.77" width="15.26" height="12.70" fill="#c3cea8"/>
<rect x="1420.91" y="240.77" width="15.26" height="12.70" fill="#e9eedf"/>
<rect x="1435.92" y="240.77" width="15.26" height="12.70" fill="#a1b476"/>
<rect x="1450.93" y="240.77" width="15.26" height="12.70" fill="#a1b476"/>
<rect x="1465.94" y="240.77" width="15.26" height="12.70" fill="#a1b277"/>
<rect x="1480.95" y="240.77" width="15.26" height="12.70" fill="#8da25b"/>
<rect x="1495.95" y="240.77" width="15.26" height="12.70" fill="#8a9f57"/>
<rect x="1510.96" y="240.77" width="15.26" height="12.70" fill="#93a764"/>
<rect x="1525.97" y="240.77" width="15.26" height="12.70" fill="#b7c696"/>
<rect x="1540.98" y="240.77" width="15.26" height="12.70" fill="#a1b476"/>
<rect x="1555.99" y="240.77" width="15.26" height="12.70" fill="#ccd7b5"/>
<rect x="1405.90" y="253.22" width="15.26" height="12.70" fill="#bdc9a0"/>
<rect x="1420.91" y="253.22" width="15.26" height="12.70" fill="#e9eedf"/>
<rect x="1435.92" y="253.22" width="15.26" height="12.70" fill="#a0b374"/>
<rect x="1450.93" y="253.22" width="15.26" height="12.70" fill="#a0b374"/>
<rect x="1465.94" y="253.22" width="15.26" height="12.70" fill="#9fb075"/>
<rect x="1480.95" y="253.22" width="15.26" height="12.70" fill="#96a969"/>
<rect x="1495.95" y="253.22" width="15.26" height="12.70" fill="#93a764"/>
<rect x="1510.96" y="253.22" width="15.26" height="12.70" fill="#8a9f57"/>
<rect x="1525.97" y="253.22" width="15.26" height="12.70" fill="#aebf89"/>
<rect x="1540.98" y="253.22" width="15.26" height="12.70" fill="#a0b374"/>
<rect x="1555.99" y="253.22" width="15.26" height="12.70" fill="#bdca9e"/>
<rect x="1405.90" y="265.66" width="15.26" height="12.70" fill="#c1cda4"/>
<rect x="1420.91" y="265.66" width="15.26" height="12.70" fill="#e8edde"/>
<rect x="1435.92" y="265.66" width="15.26" height="12.70" fill="#a6b680"/>
<rect x="1450.93" y="265.66" width="15.26" height="12.70" fill="#a6b680"/>
<rect x="1465.94" y="265.66" width="15.26" height="12.70" fill="#bac89b"/>
<rect x="1480.95" y="265.66" width="15.26" height="12.70" fill="#b9c799"/>
<rect x="1495.95" y="265.66" width="15.26" height="12.70" fill="#b7c696"/>
<rect x="1510.96" y="265.66" width="15.26" height="12.70" fill="#aebf89"/>
<rect x="1525.97" y="265.66" width="15.26" height="12.70" fill="#8a9f57"/>
<rect x="1540.98" y="265.66" width="15.26" height="12.70" fill="#a6b680"/>
<rect x="1555.99" y="265.66" width="15.26" height="12.70" fill="#a1b277"/>
<rect x="1405.90" y="278.11" width="15.26" height="12.70" fill="#c1cda4"/>
<rect x="1420.91" y="278.11" width="15.26" height="12.70" fill="#eaeee0"/>
<rect x="1435.92" y="278.11" width="15.26" height="12.70" fill="#8a9f57"/>
<rect x="1450.93" y="278.11" width="15.26" height="12.70" fill="#8a9f57"/>
<rect x="1465.94" y="278.11" width="15.26" height="12.70" fill="#9db170"/>
<rect x="1480.95" y="278.11" width="15.26" height="12.70" fill="#a1b476"/>
<rect x="1495.95" y="278.11" width="15.26" height="12.70" fill="#a1b476"/>
<rect x="1510.96" y="278.11" width="15.26" height="12.70" fill="#a0b374"/>
<rect x="1525.97" y="278.11" width="15.26" height="12.70" fill="#a6b680"/>
<rect x="1540.98" y="278.11" width="15.26" height="12.70" fill="#8a9f57"/>
<rect x="1555.99" y="278.11" width="15.26" height="12.70" fill="#c3cea8"/>
<rect x="1405.90" y="290.55" width="15.26" height="12.70" fill="#cfd9b9"/>
<rect x="1420.91" y="290.55" width="15.26" height="12.70" fill="#e8edde"/>
<rect x="1435.92" y="290.55" width="15.26" height="12.70" fill="#c3cea8"/>
<rect x="1450.93" y="290.55" width="15.26" height="12.70" fill="#c3cea8"/>
<rect x="1465.94" y="290.55" width="15.26" height="12.70" fill="#cad4b1"/>
<rect x="1480.95" y="290.55" width="15.26" height="12.70" fill="#ccd7b5"/>
<rect x="1495.95" y="290.55" width="15.26" height="12.70" fill="#ccd7b5"/>
<rect x="1510.96" y="290.55" width="15.26" height="12.70" fill="#bdca9e"/>
<rect x="1525.97" y="290.55" width="15.26" height="12.70" fill="#a1b277"/>
<rect x="1540.98" y="290.55" width="15.26" height="12.70" fill="#c3cea8"/>
<rect x="1555.99" y="290.55" width="15.26" height="12.70" fill="#8a9f57"/>
<text x="1413.40" y="174.84" font-size="7.0" fill="#fff" text-anchor="middle" opacity="0.9" textLength="14.0" lengthAdjust="spacingAndGlyphs">1.00</text>
<text x="1428.41" y="174.84" font-size="7.0" fill="#6c8040" text-anchor="middle" textLength="14.0" lengthAdjust="spacingAndGlyphs">0.13</text>
<text x="1443.42" y="174.84" font-size="7.0" fill="#fff" text-anchor="middle" opacity="0.9" textLength="15.3" lengthAdjust="spacingAndGlyphs">-0.54</text>
<text x="1458.43" y="174.84" font-size="7.0" fill="#fff" text-anchor="middle" opacity="0.9" textLength="15.3" lengthAdjust="spacingAndGlyphs">-0.54</text>
<text x="1473.44" y="174.84" font-size="7.0" fill="#fff" text-anchor="middle" opacity="0.9" textLength="14.0" lengthAdjust="spacingAndGlyphs">0.59</text>
<text x="1488.45" y="174.84" font-size="7.0" fill="#fff" text-anchor="middle" opacity="0.9" textLength="14.0" lengthAdjust="spacingAndGlyphs">0.60</text>
<text x="1503.46" y="174.84" font-size="7.0" fill="#fff" text-anchor="middle" opacity="0.9" textLength="14.0" lengthAdjust="spacingAndGlyphs">0.59</text>
<text x="1518.47" y="174.84" font-size="7.0" fill="#fff" text-anchor="middle" opacity="0.9" textLength="14.0" lengthAdjust="spacingAndGlyphs">0.64</text>
<text x="1533.48" y="174.84" font-size="7.0" fill="#fff" text-anchor="middle" opacity="0.9" textLength="15.3" lengthAdjust="spacingAndGlyphs">-0.54</text>
<text x="1548.49" y="174.84" font-size="7.0" fill="#fff" text-anchor="middle" opacity="0.9" textLength="15.3" lengthAdjust="spacingAndGlyphs">-0.54</text>
<text x="1563.50" y="174.84" font-size="7.0" fill="#6c8040" text-anchor="middle" textLength="15.3" lengthAdjust="spacingAndGlyphs">-0.39</text>
<text x="1413.40" y="187.29" font-size="7.0" fill="#6c8040" text-anchor="middle" textLength="14.0" lengthAdjust="spacingAndGlyphs">0.13</text>
<text x="1428.41" y="187.29" font-size="7.0" fill="#fff" text-anchor="middle" opacity="0.9" textLength="14.0" lengthAdjust="spacingAndGlyphs">1.00</text>
<text x="1443.42" y="187.29" font-size="7.0" fill="#6c8040" text-anchor="middle" textLength="14.0" lengthAdjust="spacingAndGlyphs">0.01</text>
<text x="1458.43" y="187.29" font-size="7.0" fill="#6c8040" text-anchor="middle" textLength="14.0" lengthAdjust="spacingAndGlyphs">0.01</text>
<text x="1473.44" y="187.29" font-size="7.0" fill="#6c8040" text-anchor="middle" textLength="14.0" lengthAdjust="spacingAndGlyphs">0.01</text>
<text x="1488.45" y="187.29" font-size="7.0" fill="#6c8040" text-anchor="middle" textLength="14.0" lengthAdjust="spacingAndGlyphs">0.01</text>
<text x="1503.46" y="187.29" font-size="7.0" fill="#6c8040" text-anchor="middle" textLength="15.3" lengthAdjust="spacingAndGlyphs">-0.00</text>
<text x="1518.47" y="187.29" font-size="7.0" fill="#6c8040" text-anchor="middle" textLength="15.3" lengthAdjust="spacingAndGlyphs">-0.00</text>
<text x="1533.48" y="187.29" font-size="7.0" fill="#6c8040" text-anchor="middle" textLength="15.3" lengthAdjust="spacingAndGlyphs">-0.02</text>
<text x="1548.49" y="187.29" font-size="7.0" fill="#6c8040" text-anchor="middle" textLength="14.0" lengthAdjust="spacingAndGlyphs">0.01</text>
<text x="1563.50" y="187.29" font-size="7.0" fill="#6c8040" text-anchor="middle" textLength="15.3" lengthAdjust="spacingAndGlyphs">-0.02</text>
<text x="1413.40" y="199.73" font-size="7.0" fill="#fff" text-anchor="middle" opacity="0.9" textLength="15.3" lengthAdjust="spacingAndGlyphs">-0.54</text>
<text x="1428.41" y="199.73" font-size="7.0" fill="#6c8040" text-anchor="middle" textLength="14.0" lengthAdjust="spacingAndGlyphs">0.01</text>
<text x="1443.42" y="199.73" font-size="7.0" fill="#fff" text-anchor="middle" opacity="0.9" textLength="14.0" lengthAdjust="spacingAndGlyphs">1.00</text>
<text x="1458.43" y="199.73" font-size="7.0" fill="#fff" text-anchor="middle" opacity="0.9" textLength="14.0" lengthAdjust="spacingAndGlyphs">1.00</text>
<text x="1473.44" y="199.73" font-size="7.0" fill="#fff" text-anchor="middle" opacity="0.9" textLength="15.3" lengthAdjust="spacingAndGlyphs">-0.85</text>
<text x="1488.45" y="199.73" font-size="7.0" fill="#fff" text-anchor="middle" opacity="0.9" textLength="15.3" lengthAdjust="spacingAndGlyphs">-0.82</text>
<text x="1503.46" y="199.73" font-size="7.0" fill="#fff" text-anchor="middle" opacity="0.9" textLength="15.3" lengthAdjust="spacingAndGlyphs">-0.82</text>
<text x="1518.47" y="199.73" font-size="7.0" fill="#fff" text-anchor="middle" opacity="0.9" textLength="15.3" lengthAdjust="spacingAndGlyphs">-0.83</text>
<text x="1533.48" y="199.73" font-size="7.0" fill="#fff" text-anchor="middle" opacity="0.9" textLength="14.0" lengthAdjust="spacingAndGlyphs">0.81</text>
<text x="1548.49" y="199.73" font-size="7.0" fill="#fff" text-anchor="middle" opacity="0.9" textLength="14.0" lengthAdjust="spacingAndGlyphs">1.00</text>
<text x="1563.50" y="199.73" font-size="7.0" fill="#fff" text-anchor="middle" opacity="0.9" textLength="14.0" lengthAdjust="spacingAndGlyphs">0.59</text>
<text x="1413.40" y="212.18" font-size="7.0" fill="#fff" text-anchor="middle" opacity="0.9" textLength="15.3" lengthAdjust="spacingAndGlyphs">-0.54</text>
<text x="1428.41" y="212.18" font-size="7.0" fill="#6c8040" text-anchor="middle" textLength="14.0" lengthAdjust="spacingAndGlyphs">0.01</text>
<text x="1443.42" y="212.18" font-size="7.0" fill="#fff" text-anchor="middle" opacity="0.9" textLength="14.0" lengthAdjust="spacingAndGlyphs">1.00</text>
<text x="1458.43" y="212.18" font-size="7.0" fill="#fff" text-anchor="middle" opacity="0.9" textLength="14.0" lengthAdjust="spacingAndGlyphs">1.00</text>
<text x="1473.44" y="212.18" font-size="7.0" fill="#fff" text-anchor="middle" opacity="0.9" textLength="15.3" lengthAdjust="spacingAndGlyphs">-0.85</text>
<text x="1488.45" y="212.18" font-size="7.0" fill="#fff" text-anchor="middle" opacity="0.9" textLength="15.3" lengthAdjust="spacingAndGlyphs">-0.82</text>
<text x="1503.46" y="212.18" font-size="7.0" fill="#fff" text-anchor="middle" opacity="0.9" textLength="15.3" lengthAdjust="spacingAndGlyphs">-0.82</text>
<text x="1518.47" y="212.18" font-size="7.0" fill="#fff" text-anchor="middle" opacity="0.9" textLength="15.3" lengthAdjust="spacingAndGlyphs">-0.83</text>
<text x="1533.48" y="212.18" font-size="7.0" fill="#fff" text-anchor="middle" opacity="0.9" textLength="14.0" lengthAdjust="spacingAndGlyphs">0.81</text>
<text x="1548.49" y="212.18" font-size="7.0" fill="#fff" text-anchor="middle" opacity="0.9" textLength="14.0" lengthAdjust="spacingAndGlyphs">1.00</text>
<text x="1563.50" y="212.18" font-size="7.0" fill="#fff" text-anchor="middle" opacity="0.9" textLength="14.0" lengthAdjust="spacingAndGlyphs">0.59</text>
<text x="1413.40" y="224.62" font-size="7.0" fill="#fff" text-anchor="middle" opacity="0.9" textLength="14.0" lengthAdjust="spacingAndGlyphs">0.59</text>
<text x="1428.41" y="224.62" font-size="7.0" fill="#6c8040" text-anchor="middle" textLength="14.0" lengthAdjust="spacingAndGlyphs">0.01</text>
<text x="1443.42" y="224.62" font-size="7.0" fill="#fff" text-anchor="middle" opacity="0.9" textLength="15.3" lengthAdjust="spacingAndGlyphs">-0.85</text>
<text x="1458.43" y="224.62" font-size="7.0" fill="#fff" text-anchor="middle" opacity="0.9" textLength="15.3" lengthAdjust="spacingAndGlyphs">-0.85</text>
<text x="1473.44" y="224.62" font-size="7.0" fill="#fff" text-anchor="middle" opacity="0.9" textLength="14.0" lengthAdjust="spacingAndGlyphs">1.00</text>
<text x="1488.45" y="224.62" font-size="7.0" fill="#fff" text-anchor="middle" opacity="0.9" textLength="14.0" lengthAdjust="spacingAndGlyphs">0.86</text>
<text x="1503.46" y="224.62" font-size="7.0" fill="#fff" text-anchor="middle" opacity="0.9" textLength="14.0" lengthAdjust="spacingAndGlyphs">0.85</text>
<text x="1518.47" y="224.62" font-size="7.0" fill="#fff" text-anchor="middle" opacity="0.9" textLength="14.0" lengthAdjust="spacingAndGlyphs">0.86</text>
<text x="1533.48" y="224.62" font-size="7.0" fill="#fff" text-anchor="middle" opacity="0.9" textLength="15.3" lengthAdjust="spacingAndGlyphs">-0.60</text>
<text x="1548.49" y="224.62" font-size="7.0" fill="#fff" text-anchor="middle" opacity="0.9" textLength="15.3" lengthAdjust="spacingAndGlyphs">-0.85</text>
<text x="1563.50" y="224.62" font-size="7.0" fill="#fff" text-anchor="middle" opacity="0.9" textLength="15.3" lengthAdjust="spacingAndGlyphs">-0.45</text>
<text x="1413.40" y="237.07" font-size="7.0" fill="#fff" text-anchor="middle" opacity="0.9" textLength="14.0" lengthAdjust="spacingAndGlyphs">0.60</text>
<text x="1428.41" y="237.07" font-size="7.0" fill="#6c8040" text-anchor="middle" textLength="14.0" lengthAdjust="spacingAndGlyphs">0.01</text>
<text x="1443.42" y="237.07" font-size="7.0" fill="#fff" text-anchor="middle" opacity="0.9" textLength="15.3" lengthAdjust="spacingAndGlyphs">-0.82</text>
<text x="1458.43" y="237.07" font-size="7.0" fill="#fff" text-anchor="middle" opacity="0.9" textLength="15.3" lengthAdjust="spacingAndGlyphs">-0.82</text>
<text x="1473.44" y="237.07" font-size="7.0" fill="#fff" text-anchor="middle" opacity="0.9" textLength="14.0" lengthAdjust="spacingAndGlyphs">0.86</text>
<text x="1488.45" y="237.07" font-size="7.0" fill="#fff" text-anchor="middle" opacity="0.9" textLength="14.0" lengthAdjust="spacingAndGlyphs">1.00</text>
<text x="1503.46" y="237.07" font-size="7.0" fill="#fff" text-anchor="middle" opacity="0.9" textLength="14.0" lengthAdjust="spacingAndGlyphs">0.98</text>
<text x="1518.47" y="237.07" font-size="7.0" fill="#fff" text-anchor="middle" opacity="0.9" textLength="14.0" lengthAdjust="spacingAndGlyphs">0.92</text>
<text x="1533.48" y="237.07" font-size="7.0" fill="#fff" text-anchor="middle" opacity="0.9" textLength="15.3" lengthAdjust="spacingAndGlyphs">-0.61</text>
<text x="1548.49" y="237.07" font-size="7.0" fill="#fff" text-anchor="middle" opacity="0.9" textLength="15.3" lengthAdjust="spacingAndGlyphs">-0.82</text>
<text x="1563.50" y="237.07" font-size="7.0" fill="#fff" text-anchor="middle" opacity="0.9" textLength="15.3" lengthAdjust="spacingAndGlyphs">-0.42</text>
<text x="1413.40" y="249.52" font-size="7.0" fill="#fff" text-anchor="middle" opacity="0.9" textLength="14.0" lengthAdjust="spacingAndGlyphs">0.59</text>
<text x="1428.41" y="249.52" font-size="7.0" fill="#6c8040" text-anchor="middle" textLength="15.3" lengthAdjust="spacingAndGlyphs">-0.00</text>
<text x="1443.42" y="249.52" font-size="7.0" fill="#fff" text-anchor="middle" opacity="0.9" textLength="15.3" lengthAdjust="spacingAndGlyphs">-0.82</text>
<text x="1458.43" y="249.52" font-size="7.0" fill="#fff" text-anchor="middle" opacity="0.9" textLength="15.3" lengthAdjust="spacingAndGlyphs">-0.82</text>
<text x="1473.44" y="249.52" font-size="7.0" fill="#fff" text-anchor="middle" opacity="0.9" textLength="14.0" lengthAdjust="spacingAndGlyphs">0.85</text>
<text x="1488.45" y="249.52" font-size="7.0" fill="#fff" text-anchor="middle" opacity="0.9" textLength="14.0" lengthAdjust="spacingAndGlyphs">0.98</text>
<text x="1503.46" y="249.52" font-size="7.0" fill="#fff" text-anchor="middle" opacity="0.9" textLength="14.0" lengthAdjust="spacingAndGlyphs">1.00</text>
<text x="1518.47" y="249.52" font-size="7.0" fill="#fff" text-anchor="middle" opacity="0.9" textLength="14.0" lengthAdjust="spacingAndGlyphs">0.94</text>
<text x="1533.48" y="249.52" font-size="7.0" fill="#fff" text-anchor="middle" opacity="0.9" textLength="15.3" lengthAdjust="spacingAndGlyphs">-0.63</text>
<text x="1548.49" y="249.52" font-size="7.0" fill="#fff" text-anchor="middle" opacity="0.9" textLength="15.3" lengthAdjust="spacingAndGlyphs">-0.82</text>
<text x="1563.50" y="249.52" font-size="7.0" fill="#fff" text-anchor="middle" opacity="0.9" textLength="15.3" lengthAdjust="spacingAndGlyphs">-0.42</text>
<text x="1413.40" y="261.96" font-size="7.0" fill="#fff" text-anchor="middle" opacity="0.9" textLength="14.0" lengthAdjust="spacingAndGlyphs">0.64</text>
<text x="1428.41" y="261.96" font-size="7.0" fill="#6c8040" text-anchor="middle" textLength="15.3" lengthAdjust="spacingAndGlyphs">-0.00</text>
<text x="1443.42" y="261.96" font-size="7.0" fill="#fff" text-anchor="middle" opacity="0.9" textLength="15.3" lengthAdjust="spacingAndGlyphs">-0.83</text>
<text x="1458.43" y="261.96" font-size="7.0" fill="#fff" text-anchor="middle" opacity="0.9" textLength="15.3" lengthAdjust="spacingAndGlyphs">-0.83</text>
<text x="1473.44" y="261.96" font-size="7.0" fill="#fff" text-anchor="middle" opacity="0.9" textLength="14.0" lengthAdjust="spacingAndGlyphs">0.86</text>
<text x="1488.45" y="261.96" font-size="7.0" fill="#fff" text-anchor="middle" opacity="0.9" textLength="14.0" lengthAdjust="spacingAndGlyphs">0.92</text>
<text x="1503.46" y="261.96" font-size="7.0" fill="#fff" text-anchor="middle" opacity="0.9" textLength="14.0" lengthAdjust="spacingAndGlyphs">0.94</text>
<text x="1518.47" y="261.96" font-size="7.0" fill="#fff" text-anchor="middle" opacity="0.9" textLength="14.0" lengthAdjust="spacingAndGlyphs">1.00</text>
<text x="1533.48" y="261.96" font-size="7.0" fill="#fff" text-anchor="middle" opacity="0.9" textLength="15.3" lengthAdjust="spacingAndGlyphs">-0.71</text>
<text x="1548.49" y="261.96" font-size="7.0" fill="#fff" text-anchor="middle" opacity="0.9" textLength="15.3" lengthAdjust="spacingAndGlyphs">-0.83</text>
<text x="1563.50" y="261.96" font-size="7.0" fill="#fff" text-anchor="middle" opacity="0.9" textLength="15.3" lengthAdjust="spacingAndGlyphs">-0.58</text>
<text x="1413.40" y="274.41" font-size="7.0" fill="#fff" text-anchor="middle" opacity="0.9" textLength="15.3" lengthAdjust="spacingAndGlyphs">-0.54</text>
<text x="1428.41" y="274.41" font-size="7.0" fill="#6c8040" text-anchor="middle" textLength="15.3" lengthAdjust="spacingAndGlyphs">-0.02</text>
<text x="1443.42" y="274.41" font-size="7.0" fill="#fff" text-anchor="middle" opacity="0.9" textLength="14.0" lengthAdjust="spacingAndGlyphs">0.81</text>
<text x="1458.43" y="274.41" font-size="7.0" fill="#fff" text-anchor="middle" opacity="0.9" textLength="14.0" lengthAdjust="spacingAndGlyphs">0.81</text>
<text x="1473.44" y="274.41" font-size="7.0" fill="#fff" text-anchor="middle" opacity="0.9" textLength="15.3" lengthAdjust="spacingAndGlyphs">-0.60</text>
<text x="1488.45" y="274.41" font-size="7.0" fill="#fff" text-anchor="middle" opacity="0.9" textLength="15.3" lengthAdjust="spacingAndGlyphs">-0.61</text>
<text x="1503.46" y="274.41" font-size="7.0" fill="#fff" text-anchor="middle" opacity="0.9" textLength="15.3" lengthAdjust="spacingAndGlyphs">-0.63</text>
<text x="1518.47" y="274.41" font-size="7.0" fill="#fff" text-anchor="middle" opacity="0.9" textLength="15.3" lengthAdjust="spacingAndGlyphs">-0.71</text>
<text x="1533.48" y="274.41" font-size="7.0" fill="#fff" text-anchor="middle" opacity="0.9" textLength="14.0" lengthAdjust="spacingAndGlyphs">1.00</text>
<text x="1548.49" y="274.41" font-size="7.0" fill="#fff" text-anchor="middle" opacity="0.9" textLength="14.0" lengthAdjust="spacingAndGlyphs">0.81</text>
<text x="1563.50" y="274.41" font-size="7.0" fill="#fff" text-anchor="middle" opacity="0.9" textLength="14.0" lengthAdjust="spacingAndGlyphs">0.85</text>
<text x="1413.40" y="286.85" font-size="7.0" fill="#fff" text-anchor="middle" opacity="0.9" textLength="15.3" lengthAdjust="spacingAndGlyphs">-0.54</text>
<text x="1428.41" y="286.85" font-size="7.0" fill="#6c8040" text-anchor="middle" textLength="14.0" lengthAdjust="spacingAndGlyphs">0.01</text>
<text x="1443.42" y="286.85" font-size="7.0" fill="#fff" text-anchor="middle" opacity="0.9" textLength="14.0" lengthAdjust="spacingAndGlyphs">1.00</text>
<text x="1458.43" y="286.85" font-size="7.0" fill="#fff" text-anchor="middle" opacity="0.9" textLength="14.0" lengthAdjust="spacingAndGlyphs">1.00</text>
<text x="1473.44" y="286.85" font-size="7.0" fill="#fff" text-anchor="middle" opacity="0.9" textLength="15.3" lengthAdjust="spacingAndGlyphs">-0.85</text>
<text x="1488.45" y="286.85" font-size="7.0" fill="#fff" text-anchor="middle" opacity="0.9" textLength="15.3" lengthAdjust="spacingAndGlyphs">-0.82</text>
<text x="1503.46" y="286.85" font-size="7.0" fill="#fff" text-anchor="middle" opacity="0.9" textLength="15.3" lengthAdjust="spacingAndGlyphs">-0.82</text>
<text x="1518.47" y="286.85" font-size="7.0" fill="#fff" text-anchor="middle" opacity="0.9" textLength="15.3" lengthAdjust="spacingAndGlyphs">-0.83</text>
<text x="1533.48" y="286.85" font-size="7.0" fill="#fff" text-anchor="middle" opacity="0.9" textLength="14.0" lengthAdjust="spacingAndGlyphs">0.81</text>
<text x="1548.49" y="286.85" font-size="7.0" fill="#fff" text-anchor="middle" opacity="0.9" textLength="14.0" lengthAdjust="spacingAndGlyphs">1.00</text>
<text x="1563.50" y="286.85" font-size="7.0" fill="#fff" text-anchor="middle" opacity="0.9" textLength="14.0" lengthAdjust="spacingAndGlyphs">0.59</text>
<text x="1413.40" y="299.30" font-size="7.0" fill="#6c8040" text-anchor="middle" textLength="15.3" lengthAdjust="spacingAndGlyphs">-0.39</text>
<text x="1428.41" y="299.30" font-size="7.0" fill="#6c8040" text-anchor="middle" textLength="15.3" lengthAdjust="spacingAndGlyphs">-0.02</text>
<text x="1443.42" y="299.30" font-size="7.0" fill="#fff" text-anchor="middle" opacity="0.9" textLength="14.0" lengthAdjust="spacingAndGlyphs">0.59</text>
<text x="1458.43" y="299.30" font-size="7.0" fill="#fff" text-anchor="middle" opacity="0.9" textLength="14.0" lengthAdjust="spacingAndGlyphs">0.59</text>
<text x="1473.44" y="299.30" font-size="7.0" fill="#fff" text-anchor="middle" opacity="0.9" textLength="15.3" lengthAdjust="spacingAndGlyphs">-0.45</text>
<text x="1488.45" y="299.30" font-size="7.0" fill="#fff" text-anchor="middle" opacity="0.9" textLength="15.3" lengthAdjust="spacingAndGlyphs">-0.42</text>
<text x="1503.46" y="299.30" font-size="7.0" fill="#fff" text-anchor="middle" opacity="0.9" textLength="15.3" lengthAdjust="spacingAndGlyphs">-0.42</text>
<text x="1518.47" y="299.30" font-size="7.0" fill="#fff" text-anchor="middle" opacity="0.9" textLength="15.3" lengthAdjust="spacingAndGlyphs">-0.58</text>
<text x="1533.48" y="299.30" font-size="7.0" fill="#fff" text-anchor="middle" opacity="0.9" textLength="14.0" lengthAdjust="spacingAndGlyphs">0.85</text>
<text x="1548.49" y="299.30" font-size="7.0" fill="#fff" text-anchor="middle" opacity="0.9" textLength="14.0" lengthAdjust="spacingAndGlyphs">0.59</text>
<text x="1563.50" y="299.30" font-size="7.0" fill="#fff" text-anchor="middle" opacity="0.9" textLength="14.0" lengthAdjust="spacingAndGlyphs">1.00</text>
<rect x="1581.8" y="166.1" width="6.2" height="136.9" fill="url(#gl0)"/>
<line x1="1588.0" y1="166.1" x2="1589.8" y2="166.1" stroke="#6c8040" stroke-width="0.6"/>
<text x="1591.60" y="168.70" font-size="7.2" fill="#6c8040" >1.00</text>
<line x1="1588.0" y1="184.6" x2="1589.8" y2="184.6" stroke="#6c8040" stroke-width="0.6"/>
<text x="1591.60" y="187.20" font-size="7.2" fill="#6c8040" >0.75</text>
<line x1="1588.0" y1="203.1" x2="1589.8" y2="203.1" stroke="#6c8040" stroke-width="0.6"/>
<text x="1591.60" y="205.70" font-size="7.2" fill="#6c8040" >0.50</text>
<line x1="1588.0" y1="221.6" x2="1589.8" y2="221.6" stroke="#6c8040" stroke-width="0.6"/>
<text x="1591.60" y="224.20" font-size="7.2" fill="#6c8040" >0.25</text>
<line x1="1588.0" y1="240.1" x2="1589.8" y2="240.1" stroke="#6c8040" stroke-width="0.6"/>
<text x="1591.60" y="242.70" font-size="7.2" fill="#6c8040" >0.00</text>
<line x1="1588.0" y1="258.6" x2="1589.8" y2="258.6" stroke="#6c8040" stroke-width="0.6"/>
<text x="1591.60" y="261.20" font-size="7.2" fill="#6c8040" >−0.25</text>
<line x1="1588.0" y1="277.1" x2="1589.8" y2="277.1" stroke="#6c8040" stroke-width="0.6"/>
<text x="1591.60" y="279.70" font-size="7.2" fill="#6c8040" >−0.50</text>
<line x1="1588.0" y1="295.6" x2="1589.8" y2="295.6" stroke="#6c8040" stroke-width="0.6"/>
<text x="1591.60" y="298.20" font-size="7.2" fill="#6c8040" >−0.75</text>
<line x1="1403.9" y1="172.3" x2="1405.9" y2="172.3" stroke="#6c8040" stroke-width="0.5"/>
<line x1="1413.4" y1="303.0" x2="1413.4" y2="305.0" stroke="#6c8040" stroke-width="0.5"/>
<text x="1402.70" y="175.22" font-size="8.0" fill="#000" text-anchor="end" stroke="#000" stroke-width="0.25" textLength="9.7" lengthAdjust="spacingAndGlyphs">CD</text>
<text x="1412.80" y="313.60" font-size="7.8" fill="#000" text-anchor="middle" stroke="#000" stroke-width="0.15" textLength="9.7" lengthAdjust="spacingAndGlyphs">CD</text>
<line x1="1403.9" y1="184.8" x2="1405.9" y2="184.8" stroke="#6c8040" stroke-width="0.5"/>
<line x1="1428.4" y1="303.0" x2="1428.4" y2="305.0" stroke="#6c8040" stroke-width="0.5"/>
<text x="1402.70" y="187.67" font-size="8.0" fill="#000" text-anchor="end" stroke="#000" stroke-width="0.25" textLength="14.2" lengthAdjust="spacingAndGlyphs">CER</text>
<text x="1427.81" y="313.60" font-size="7.8" fill="#000" text-anchor="middle" stroke="#000" stroke-width="0.15" textLength="14.2" lengthAdjust="spacingAndGlyphs">CER</text>
<line x1="1403.9" y1="197.2" x2="1405.9" y2="197.2" stroke="#6c8040" stroke-width="0.5"/>
<line x1="1443.4" y1="303.0" x2="1443.4" y2="305.0" stroke="#6c8040" stroke-width="0.5"/>
<text x="1402.70" y="200.11" font-size="8.0" fill="#000" text-anchor="end" stroke="#000" stroke-width="0.25" textLength="9.3" lengthAdjust="spacingAndGlyphs">ED</text>
<text x="1442.82" y="313.60" font-size="7.8" fill="#000" text-anchor="middle" stroke="#000" stroke-width="0.15" textLength="9.3" lengthAdjust="spacingAndGlyphs">ED</text>
<line x1="1403.9" y1="209.7" x2="1405.9" y2="209.7" stroke="#6c8040" stroke-width="0.5"/>
<line x1="1458.4" y1="303.0" x2="1458.4" y2="305.0" stroke="#6c8040" stroke-width="0.5"/>
<text x="1402.70" y="212.56" font-size="8.0" fill="#000" text-anchor="end" stroke="#000" stroke-width="0.25" textLength="9.3" lengthAdjust="spacingAndGlyphs">PD</text>
<text x="1457.83" y="313.60" font-size="7.8" fill="#000" text-anchor="middle" stroke="#000" stroke-width="0.15" textLength="9.3" lengthAdjust="spacingAndGlyphs">PD</text>
<line x1="1403.9" y1="222.1" x2="1405.9" y2="222.1" stroke="#6c8040" stroke-width="0.5"/>
<line x1="1473.4" y1="303.0" x2="1473.4" y2="305.0" stroke="#6c8040" stroke-width="0.5"/>
<text x="1402.70" y="225.00" font-size="8.0" fill="#000" text-anchor="end" stroke="#000" stroke-width="0.25" textLength="17.2" lengthAdjust="spacingAndGlyphs">Pland</text>
<text x="1472.84" y="313.60" font-size="7.8" fill="#000" text-anchor="middle" stroke="#000" stroke-width="0.15" textLength="17.2" lengthAdjust="spacingAndGlyphs">Pland</text>
<line x1="1403.9" y1="234.6" x2="1405.9" y2="234.6" stroke="#6c8040" stroke-width="0.5"/>
<line x1="1488.5" y1="303.0" x2="1488.5" y2="305.0" stroke="#6c8040" stroke-width="0.5"/>
<text x="1402.70" y="237.45" font-size="8.0" fill="#000" text-anchor="end" stroke="#000" stroke-width="0.25" textLength="9.3" lengthAdjust="spacingAndGlyphs">CA</text>
<text x="1487.85" y="313.60" font-size="7.8" fill="#000" text-anchor="middle" stroke="#000" stroke-width="0.15" textLength="9.3" lengthAdjust="spacingAndGlyphs">CA</text>
<line x1="1403.9" y1="247.0" x2="1405.9" y2="247.0" stroke="#6c8040" stroke-width="0.5"/>
<line x1="1503.5" y1="303.0" x2="1503.5" y2="305.0" stroke="#6c8040" stroke-width="0.5"/>
<text x="1402.70" y="249.90" font-size="8.0" fill="#000" text-anchor="end" stroke="#000" stroke-width="0.25" textLength="10.1" lengthAdjust="spacingAndGlyphs">LPI</text>
<text x="1502.86" y="313.60" font-size="7.8" fill="#000" text-anchor="middle" stroke="#000" stroke-width="0.15" textLength="10.1" lengthAdjust="spacingAndGlyphs">LPI</text>
<line x1="1403.9" y1="259.4" x2="1405.9" y2="259.4" stroke="#6c8040" stroke-width="0.5"/>
<line x1="1518.5" y1="303.0" x2="1518.5" y2="305.0" stroke="#6c8040" stroke-width="0.5"/>
<text x="1402.70" y="262.34" font-size="8.0" fill="#000" text-anchor="end" stroke="#000" stroke-width="0.25" textLength="10.5" lengthAdjust="spacingAndGlyphs">MN</text>
<text x="1517.87" y="313.60" font-size="7.8" fill="#000" text-anchor="middle" stroke="#000" stroke-width="0.15" textLength="10.4" lengthAdjust="spacingAndGlyphs">MN</text>
<line x1="1403.9" y1="271.9" x2="1405.9" y2="271.9" stroke="#6c8040" stroke-width="0.5"/>
<line x1="1533.5" y1="303.0" x2="1533.5" y2="305.0" stroke="#6c8040" stroke-width="0.5"/>
<text x="1402.70" y="274.79" font-size="8.0" fill="#000" text-anchor="end" stroke="#000" stroke-width="0.25" textLength="10.1" lengthAdjust="spacingAndGlyphs">LSI</text>
<text x="1532.88" y="313.60" font-size="7.8" fill="#000" text-anchor="middle" stroke="#000" stroke-width="0.15" textLength="10.1" lengthAdjust="spacingAndGlyphs">LSI</text>
<line x1="1403.9" y1="284.3" x2="1405.9" y2="284.3" stroke="#6c8040" stroke-width="0.5"/>
<line x1="1548.5" y1="303.0" x2="1548.5" y2="305.0" stroke="#6c8040" stroke-width="0.5"/>
<text x="1402.70" y="287.23" font-size="8.0" fill="#000" text-anchor="end" stroke="#000" stroke-width="0.25" textLength="9.3" lengthAdjust="spacingAndGlyphs">NP</text>
<text x="1547.89" y="313.60" font-size="7.8" fill="#000" text-anchor="middle" stroke="#000" stroke-width="0.15" textLength="9.3" lengthAdjust="spacingAndGlyphs">NP</text>
<line x1="1403.9" y1="296.8" x2="1405.9" y2="296.8" stroke="#6c8040" stroke-width="0.5"/>
<line x1="1563.5" y1="303.0" x2="1563.5" y2="305.0" stroke="#6c8040" stroke-width="0.5"/>
<text x="1402.70" y="299.68" font-size="8.0" fill="#000" text-anchor="end" stroke="#000" stroke-width="0.25" textLength="16.1" lengthAdjust="spacingAndGlyphs">SHID</text>
<text x="1562.90" y="313.60" font-size="7.8" fill="#000" text-anchor="middle" stroke="#000" stroke-width="0.15" textLength="16.0" lengthAdjust="spacingAndGlyphs">SHID</text>
<defs><linearGradient id="gb0" x1="0" y1="0" x2="0" y2="1"><stop offset="0.000" stop-color="#8a9f57"/><stop offset="0.042" stop-color="#96a968"/><stop offset="0.083" stop-color="#a1b278"/><stop offset="0.125" stop-color="#acbb88"/><stop offset="0.167" stop-color="#b6c396"/><stop offset="0.208" stop-color="#c0cba4"/><stop offset="0.250" stop-color="#c9d3b1"/><stop offset="0.292" stop-color="#d1d9bd"/><stop offset="0.333" stop-color="#d8e0c7"/><stop offset="0.375" stop-color="#dfe5d1"/><stop offset="0.417" stop-color="#e4ead9"/><stop offset="0.458" stop-color="#e9eddf"/><stop offset="0.500" stop-color="#ebefe2"/><stop offset="0.542" stop-color="#e9eedf"/><stop offset="0.583" stop-color="#e6ebda"/><stop offset="0.625" stop-color="#e1e7d4"/><stop offset="0.667" stop-color="#dce3cc"/><stop offset="0.708" stop-color="#d6dec3"/><stop offset="0.750" stop-color="#cfd9ba"/><stop offset="0.792" stop-color="#c8d3af"/><stop offset="0.833" stop-color="#c1cda4"/><stop offset="0.875" stop-color="#b8c798"/><stop offset="0.917" stop-color="#b0c08b"/><stop offset="0.958" stop-color="#a7b97e"/><stop offset="1.000" stop-color="#9db170"/></linearGradient></defs>
<rect x="1635.90" y="167.10" width="27.93" height="22.18" fill="#8a9f57"/>
<rect x="1663.58" y="167.10" width="27.93" height="22.18" fill="#aabb83"/>
<rect x="1691.27" y="167.10" width="27.93" height="22.18" fill="#e8edde"/>
<rect x="1718.95" y="167.10" width="27.93" height="22.18" fill="#e8edde"/>
<rect x="1746.63" y="167.10" width="27.93" height="22.18" fill="#9db170"/>
<rect x="1774.32" y="167.10" width="27.93" height="22.18" fill="#e0e7d2"/>
<rect x="1635.90" y="189.03" width="27.93" height="22.18" fill="#aabb83"/>
<rect x="1663.58" y="189.03" width="27.93" height="22.18" fill="#8a9f57"/>
<rect x="1691.27" y="189.03" width="27.93" height="22.18" fill="#d9e0c7"/>
<rect x="1718.95" y="189.03" width="27.93" height="22.18" fill="#d6dec3"/>
<rect x="1746.63" y="189.03" width="27.93" height="22.18" fill="#e3e8d6"/>
<rect x="1774.32" y="189.03" width="27.93" height="22.18" fill="#dbe3cb"/>
<rect x="1635.90" y="210.97" width="27.93" height="22.18" fill="#e8edde"/>
<rect x="1663.58" y="210.97" width="27.93" height="22.18" fill="#d9e0c7"/>
<rect x="1691.27" y="210.97" width="27.93" height="22.18" fill="#8a9f57"/>
<rect x="1718.95" y="210.97" width="27.93" height="22.18" fill="#abba86"/>
<rect x="1746.63" y="210.97" width="27.93" height="22.18" fill="#dbe3cb"/>
<rect x="1774.32" y="210.97" width="27.93" height="22.18" fill="#b0be8d"/>
<rect x="1635.90" y="232.90" width="27.93" height="22.18" fill="#e8edde"/>
<rect x="1663.58" y="232.90" width="27.93" height="22.18" fill="#d6dec3"/>
<rect x="1691.27" y="232.90" width="27.93" height="22.18" fill="#abba86"/>
<rect x="1718.95" y="232.90" width="27.93" height="22.18" fill="#8a9f57"/>
<rect x="1746.63" y="232.90" width="27.93" height="22.18" fill="#dbe3cb"/>
<rect x="1774.32" y="232.90" width="27.93" height="22.18" fill="#93a664"/>
<rect x="1635.90" y="254.83" width="27.93" height="22.18" fill="#9db170"/>
<rect x="1663.58" y="254.83" width="27.93" height="22.18" fill="#e3e8d6"/>
<rect x="1691.27" y="254.83" width="27.93" height="22.18" fill="#dbe3cb"/>
<rect x="1718.95" y="254.83" width="27.93" height="22.18" fill="#dbe3cb"/>
<rect x="1746.63" y="254.83" width="27.93" height="22.18" fill="#8a9f57"/>
<rect x="1774.32" y="254.83" width="27.93" height="22.18" fill="#e8edde"/>
<rect x="1635.90" y="276.77" width="27.93" height="22.18" fill="#e0e7d2"/>
<rect x="1663.58" y="276.77" width="27.93" height="22.18" fill="#dbe3cb"/>
<rect x="1691.27" y="276.77" width="27.93" height="22.18" fill="#b0be8d"/>
<rect x="1718.95" y="276.77" width="27.93" height="22.18" fill="#93a664"/>
<rect x="1746.63" y="276.77" width="27.93" height="22.18" fill="#e8edde"/>
<rect x="1774.32" y="276.77" width="27.93" height="22.18" fill="#8a9f57"/>
<text x="1649.74" y="180.59" font-size="7.0" fill="#fff" text-anchor="middle" opacity="0.92" >1.00</text>
<text x="1677.43" y="180.59" font-size="7.0" fill="#fff" text-anchor="middle" opacity="0.92" >-0.49</text>
<text x="1705.11" y="180.59" font-size="7.0" fill="#6c8040" text-anchor="middle" >0.12</text>
<text x="1732.79" y="180.59" font-size="7.0" fill="#6c8040" text-anchor="middle" >0.12</text>
<text x="1760.47" y="180.59" font-size="7.0" fill="#fff" text-anchor="middle" opacity="0.92" >-0.58</text>
<text x="1788.16" y="180.59" font-size="7.0" fill="#6c8040" text-anchor="middle" >0.00</text>
<text x="1649.74" y="202.52" font-size="7.0" fill="#fff" text-anchor="middle" opacity="0.92" >-0.49</text>
<text x="1677.43" y="202.52" font-size="7.0" fill="#fff" text-anchor="middle" opacity="0.92" >1.00</text>
<text x="1705.11" y="202.52" font-size="7.0" fill="#6c8040" text-anchor="middle" >-0.09</text>
<text x="1732.79" y="202.52" font-size="7.0" fill="#6c8040" text-anchor="middle" >-0.12</text>
<text x="1760.47" y="202.52" font-size="7.0" fill="#6c8040" text-anchor="middle" >0.36</text>
<text x="1788.16" y="202.52" font-size="7.0" fill="#6c8040" text-anchor="middle" >-0.06</text>
<text x="1649.74" y="224.45" font-size="7.0" fill="#6c8040" text-anchor="middle" >0.12</text>
<text x="1677.43" y="224.45" font-size="7.0" fill="#6c8040" text-anchor="middle" >-0.09</text>
<text x="1705.11" y="224.45" font-size="7.0" fill="#fff" text-anchor="middle" opacity="0.92" >1.00</text>
<text x="1732.79" y="224.45" font-size="7.0" fill="#fff" text-anchor="middle" opacity="0.92" >0.81</text>
<text x="1760.47" y="224.45" font-size="7.0" fill="#6c8040" text-anchor="middle" >-0.06</text>
<text x="1788.16" y="224.45" font-size="7.0" fill="#fff" text-anchor="middle" opacity="0.92" >0.78</text>
<text x="1649.74" y="246.39" font-size="7.0" fill="#6c8040" text-anchor="middle" >0.12</text>
<text x="1677.43" y="246.39" font-size="7.0" fill="#6c8040" text-anchor="middle" >-0.12</text>
<text x="1705.11" y="246.39" font-size="7.0" fill="#fff" text-anchor="middle" opacity="0.92" >0.81</text>
<text x="1732.79" y="246.39" font-size="7.0" fill="#fff" text-anchor="middle" opacity="0.92" >1.00</text>
<text x="1760.47" y="246.39" font-size="7.0" fill="#6c8040" text-anchor="middle" >-0.06</text>
<text x="1788.16" y="246.39" font-size="7.0" fill="#fff" text-anchor="middle" opacity="0.92" >0.95</text>
<text x="1649.74" y="268.32" font-size="7.0" fill="#fff" text-anchor="middle" opacity="0.92" >-0.58</text>
<text x="1677.43" y="268.32" font-size="7.0" fill="#6c8040" text-anchor="middle" >0.36</text>
<text x="1705.11" y="268.32" font-size="7.0" fill="#6c8040" text-anchor="middle" >-0.06</text>
<text x="1732.79" y="268.32" font-size="7.0" fill="#6c8040" text-anchor="middle" >-0.06</text>
<text x="1760.47" y="268.32" font-size="7.0" fill="#fff" text-anchor="middle" opacity="0.92" >1.00</text>
<text x="1788.16" y="268.32" font-size="7.0" fill="#6c8040" text-anchor="middle" >0.13</text>
<text x="1649.74" y="290.25" font-size="7.0" fill="#6c8040" text-anchor="middle" >0.00</text>
<text x="1677.43" y="290.25" font-size="7.0" fill="#6c8040" text-anchor="middle" >-0.06</text>
<text x="1705.11" y="290.25" font-size="7.0" fill="#fff" text-anchor="middle" opacity="0.92" >0.78</text>
<text x="1732.79" y="290.25" font-size="7.0" fill="#fff" text-anchor="middle" opacity="0.92" >0.95</text>
<text x="1760.47" y="290.25" font-size="7.0" fill="#6c8040" text-anchor="middle" >0.13</text>
<text x="1788.16" y="290.25" font-size="7.0" fill="#fff" text-anchor="middle" opacity="0.92" >1.00</text>
<rect x="1811.8" y="167.1" width="6.6" height="131.6" fill="url(#gb0)"/>
<line x1="1818.4" y1="167.1" x2="1820.2" y2="167.1" stroke="#6c8040" stroke-width="0.6"/>
<text x="1822.00" y="169.70" font-size="7.2" fill="#6c8040" >1.0</text>
<line x1="1818.4" y1="183.8" x2="1820.2" y2="183.8" stroke="#6c8040" stroke-width="0.6"/>
<text x="1822.00" y="186.36" font-size="7.2" fill="#6c8040" >0.8</text>
<line x1="1818.4" y1="200.4" x2="1820.2" y2="200.4" stroke="#6c8040" stroke-width="0.6"/>
<text x="1822.00" y="203.02" font-size="7.2" fill="#6c8040" >0.6</text>
<line x1="1818.4" y1="217.1" x2="1820.2" y2="217.1" stroke="#6c8040" stroke-width="0.6"/>
<text x="1822.00" y="219.67" font-size="7.2" fill="#6c8040" >0.4</text>
<line x1="1818.4" y1="233.7" x2="1820.2" y2="233.7" stroke="#6c8040" stroke-width="0.6"/>
<text x="1822.00" y="236.33" font-size="7.2" fill="#6c8040" >0.2</text>
<line x1="1818.4" y1="250.4" x2="1820.2" y2="250.4" stroke="#6c8040" stroke-width="0.6"/>
<text x="1822.00" y="252.99" font-size="7.2" fill="#6c8040" >0.0</text>
<line x1="1818.4" y1="267.0" x2="1820.2" y2="267.0" stroke="#6c8040" stroke-width="0.6"/>
<text x="1822.00" y="269.65" font-size="7.2" fill="#6c8040" >−0.2</text>
<line x1="1818.4" y1="283.7" x2="1820.2" y2="283.7" stroke="#6c8040" stroke-width="0.6"/>
<text x="1822.00" y="286.31" font-size="7.2" fill="#6c8040" >−0.4</text>
<line x1="1633.9" y1="178.1" x2="1635.9" y2="178.1" stroke="#6c8040" stroke-width="0.5"/>
<line x1="1649.7" y1="298.7" x2="1649.7" y2="300.7" stroke="#6c8040" stroke-width="0.5"/>
<text x="1632.90" y="181.27" font-size="8.0" fill="#000" text-anchor="end" stroke="#000" stroke-width="0.2" textLength="19.4" lengthAdjust="spacingAndGlyphs">Height</text>
<text x="1652.34" y="303.10" font-size="7.6" fill="#111" text-anchor="end" transform="rotate(-90 1652.34 303.10)" textLength="17.8" lengthAdjust="spacingAndGlyphs">Height</text>
<line x1="1633.9" y1="200.0" x2="1635.9" y2="200.0" stroke="#6c8040" stroke-width="0.5"/>
<line x1="1677.4" y1="298.7" x2="1677.4" y2="300.7" stroke="#6c8040" stroke-width="0.5"/>
<text x="1632.90" y="203.20" font-size="8.0" fill="#000" text-anchor="end" stroke="#000" stroke-width="0.2" textLength="20.6" lengthAdjust="spacingAndGlyphs">Length</text>
<text x="1680.03" y="303.10" font-size="7.6" fill="#111" text-anchor="end" transform="rotate(-90 1680.03 303.10)" textLength="18.8" lengthAdjust="spacingAndGlyphs">Length</text>
<line x1="1633.9" y1="221.9" x2="1635.9" y2="221.9" stroke="#6c8040" stroke-width="0.5"/>
<line x1="1705.1" y1="298.7" x2="1705.1" y2="300.7" stroke="#6c8040" stroke-width="0.5"/>
<text x="1632.90" y="225.13" font-size="8.0" fill="#000" text-anchor="end" stroke="#000" stroke-width="0.2" textLength="22.4" lengthAdjust="spacingAndGlyphs">Density</text>
<text x="1707.71" y="303.10" font-size="7.6" fill="#111" text-anchor="end" transform="rotate(-90 1707.71 303.10)" textLength="20.5" lengthAdjust="spacingAndGlyphs">Density</text>
<line x1="1633.9" y1="243.9" x2="1635.9" y2="243.9" stroke="#6c8040" stroke-width="0.5"/>
<line x1="1732.8" y1="298.7" x2="1732.8" y2="300.7" stroke="#6c8040" stroke-width="0.5"/>
<text x="1632.90" y="247.07" font-size="8.0" fill="#000" text-anchor="end" stroke="#000" stroke-width="0.2" textLength="14.2" lengthAdjust="spacingAndGlyphs">Area</text>
<text x="1735.39" y="303.10" font-size="7.6" fill="#111" text-anchor="end" transform="rotate(-90 1735.39 303.10)" textLength="13.0" lengthAdjust="spacingAndGlyphs">Area</text>
<line x1="1633.9" y1="265.8" x2="1635.9" y2="265.8" stroke="#6c8040" stroke-width="0.5"/>
<line x1="1760.5" y1="298.7" x2="1760.5" y2="300.7" stroke="#6c8040" stroke-width="0.5"/>
<text x="1632.90" y="269.00" font-size="8.0" fill="#000" text-anchor="end" stroke="#000" stroke-width="0.2" textLength="9.7" lengthAdjust="spacingAndGlyphs">CD</text>
<text x="1763.07" y="303.10" font-size="7.6" fill="#111" text-anchor="end" transform="rotate(-90 1763.07 303.10)" textLength="8.9" lengthAdjust="spacingAndGlyphs">CD</text>
<line x1="1633.9" y1="287.7" x2="1635.9" y2="287.7" stroke="#6c8040" stroke-width="0.5"/>
<line x1="1788.2" y1="298.7" x2="1788.2" y2="300.7" stroke="#6c8040" stroke-width="0.5"/>
<text x="1632.90" y="290.93" font-size="8.0" fill="#000" text-anchor="end" stroke="#000" stroke-width="0.2" textLength="14.2" lengthAdjust="spacingAndGlyphs">CER</text>
<text x="1790.76" y="303.10" font-size="7.6" fill="#111" text-anchor="end" transform="rotate(-90 1790.76 303.10)" textLength="13.0" lengthAdjust="spacingAndGlyphs">CER</text>
<rect x="1195.3" y="155.4" width="648" height="166.9" fill="none" stroke="#c3c6ba" stroke-width="1.1" stroke-dasharray="4.6 2.4"/>
<path d="M1402,490.5 V340.5 H1622.5 V496.5" fill="none" stroke="#e4e4e0" stroke-width="0.8"/>
<path d="M1402,490.5 H1585" fill="none" stroke="#e4e4e0" stroke-width="0.8"/>
<path d="M1633.6,480.5 V339.5 H1842 M1633.6,480.5 H1842" fill="none" stroke="#e4e4e0" stroke-width="0.8"/>
<defs><linearGradient id="gl1" x1="0" y1="0" x2="0" y2="1"><stop offset="0.000" stop-color="#b04e28"/><stop offset="0.042" stop-color="#bf5b2d"/><stop offset="0.083" stop-color="#cb6838"/><stop offset="0.125" stop-color="#d57449"/><stop offset="0.167" stop-color="#dc835b"/><stop offset="0.208" stop-color="#e1926d"/><stop offset="0.250" stop-color="#e6a180"/><stop offset="0.292" stop-color="#ebae91"/><stop offset="0.333" stop-color="#eebaa0"/><stop offset="0.375" stop-color="#f2c5af"/><stop offset="0.417" stop-color="#f5d0be"/><stop offset="0.458" stop-color="#f8d9c9"/><stop offset="0.500" stop-color="#fae1d5"/><stop offset="0.542" stop-color="#f9ded2"/><stop offset="0.583" stop-color="#f8d9cc"/><stop offset="0.625" stop-color="#f7d4c4"/><stop offset="0.667" stop-color="#f5cfbc"/><stop offset="0.708" stop-color="#f3c4ae"/><stop offset="0.750" stop-color="#efb89d"/><stop offset="0.792" stop-color="#ebac8c"/><stop offset="0.833" stop-color="#e89e7a"/><stop offset="0.875" stop-color="#e39066"/><stop offset="0.917" stop-color="#de7f4f"/><stop offset="0.958" stop-color="#d86c34"/><stop offset="1.000" stop-color="#d4622c"/></linearGradient></defs>
<rect x="1405.90" y="347.50" width="15.45" height="13.01" fill="#b04e28"/>
<rect x="1421.10" y="347.50" width="15.45" height="13.01" fill="#fae0d4"/>
<rect x="1436.30" y="347.50" width="15.45" height="13.01" fill="#e18a5f"/>
<rect x="1451.50" y="347.50" width="15.45" height="13.01" fill="#e18a5f"/>
<rect x="1466.70" y="347.50" width="15.45" height="13.01" fill="#de8a64"/>
<rect x="1481.90" y="347.50" width="15.45" height="13.01" fill="#e49977"/>
<rect x="1497.10" y="347.50" width="15.45" height="13.01" fill="#e59d7c"/>
<rect x="1512.30" y="347.50" width="15.45" height="13.01" fill="#e39774"/>
<rect x="1527.50" y="347.50" width="15.45" height="13.01" fill="#f6cfbd"/>
<rect x="1542.70" y="347.50" width="15.45" height="13.01" fill="#e18a5f"/>
<rect x="1557.90" y="347.50" width="15.45" height="13.01" fill="#f7d7c7"/>
<rect x="1405.90" y="360.26" width="15.45" height="13.01" fill="#fae0d4"/>
<rect x="1421.10" y="360.26" width="15.45" height="13.01" fill="#b04e28"/>
<rect x="1436.30" y="360.26" width="15.45" height="13.01" fill="#fae0d4"/>
<rect x="1451.50" y="360.26" width="15.45" height="13.01" fill="#fae0d4"/>
<rect x="1466.70" y="360.26" width="15.45" height="13.01" fill="#f9dbce"/>
<rect x="1481.90" y="360.26" width="15.45" height="13.01" fill="#f8dacc"/>
<rect x="1497.10" y="360.26" width="15.45" height="13.01" fill="#f8d8ca"/>
<rect x="1512.30" y="360.26" width="15.45" height="13.01" fill="#f8d7c8"/>
<rect x="1527.50" y="360.26" width="15.45" height="13.01" fill="#f9ddd0"/>
<rect x="1542.70" y="360.26" width="15.45" height="13.01" fill="#fae0d4"/>
<rect x="1557.90" y="360.26" width="15.45" height="13.01" fill="#f9ded2"/>
<rect x="1405.90" y="373.03" width="15.45" height="13.01" fill="#e18a5f"/>
<rect x="1421.10" y="373.03" width="15.45" height="13.01" fill="#fae0d4"/>
<rect x="1436.30" y="373.03" width="15.45" height="13.01" fill="#b04e28"/>
<rect x="1451.50" y="373.03" width="15.45" height="13.01" fill="#b04e28"/>
<rect x="1466.70" y="373.03" width="15.45" height="13.01" fill="#d4622c"/>
<rect x="1481.90" y="373.03" width="15.45" height="13.01" fill="#d76831"/>
<rect x="1497.10" y="373.03" width="15.45" height="13.01" fill="#d6662f"/>
<rect x="1512.30" y="373.03" width="15.45" height="13.01" fill="#d66730"/>
<rect x="1527.50" y="373.03" width="15.45" height="13.01" fill="#eaac8e"/>
<rect x="1542.70" y="373.03" width="15.45" height="13.01" fill="#b04e28"/>
<rect x="1557.90" y="373.03" width="15.45" height="13.01" fill="#f7d4c4"/>
<rect x="1405.90" y="385.79" width="15.45" height="13.01" fill="#e18a5f"/>
<rect x="1421.10" y="385.79" width="15.45" height="13.01" fill="#fae0d4"/>
<rect x="1436.30" y="385.79" width="15.45" height="13.01" fill="#b04e28"/>
<rect x="1451.50" y="385.79" width="15.45" height="13.01" fill="#b04e28"/>
<rect x="1466.70" y="385.79" width="15.45" height="13.01" fill="#d4622c"/>
<rect x="1481.90" y="385.79" width="15.45" height="13.01" fill="#d76831"/>
<rect x="1497.10" y="385.79" width="15.45" height="13.01" fill="#d6662f"/>
<rect x="1512.30" y="385.79" width="15.45" height="13.01" fill="#d66730"/>
<rect x="1527.50" y="385.79" width="15.45" height="13.01" fill="#eaac8e"/>
<rect x="1542.70" y="385.79" width="15.45" height="13.01" fill="#b04e28"/>
<rect x="1557.90" y="385.79" width="15.45" height="13.01" fill="#f7d4c4"/>
<rect x="1405.90" y="398.55" width="15.45" height="13.01" fill="#de8a64"/>
<rect x="1421.10" y="398.55" width="15.45" height="13.01" fill="#f9dbce"/>
<rect x="1436.30" y="398.55" width="15.45" height="13.01" fill="#d4622c"/>
<rect x="1451.50" y="398.55" width="15.45" height="13.01" fill="#d4622c"/>
<rect x="1466.70" y="398.55" width="15.45" height="13.01" fill="#b04e28"/>
<rect x="1481.90" y="398.55" width="15.45" height="13.01" fill="#c5612f"/>
<rect x="1497.10" y="398.55" width="15.45" height="13.01" fill="#c66331"/>
<rect x="1512.30" y="398.55" width="15.45" height="13.01" fill="#ca6838"/>
<rect x="1527.50" y="398.55" width="15.45" height="13.01" fill="#f6d1c0"/>
<rect x="1542.70" y="398.55" width="15.45" height="13.01" fill="#d4622c"/>
<rect x="1557.90" y="398.55" width="15.45" height="13.01" fill="#ecb296"/>
<rect x="1405.90" y="411.32" width="15.45" height="13.01" fill="#e49977"/>
<rect x="1421.10" y="411.32" width="15.45" height="13.01" fill="#f8dacc"/>
<rect x="1436.30" y="411.32" width="15.45" height="13.01" fill="#d76831"/>
<rect x="1451.50" y="411.32" width="15.45" height="13.01" fill="#d76831"/>
<rect x="1466.70" y="411.32" width="15.45" height="13.01" fill="#c5612f"/>
<rect x="1481.90" y="411.32" width="15.45" height="13.01" fill="#b04e28"/>
<rect x="1497.10" y="411.32" width="15.45" height="13.01" fill="#b45129"/>
<rect x="1512.30" y="411.32" width="15.45" height="13.01" fill="#c15e2e"/>
<rect x="1527.50" y="411.32" width="15.45" height="13.01" fill="#f4c9b3"/>
<rect x="1542.70" y="411.32" width="15.45" height="13.01" fill="#d76831"/>
<rect x="1557.90" y="411.32" width="15.45" height="13.01" fill="#f2c6b0"/>
<rect x="1405.90" y="424.08" width="15.45" height="13.01" fill="#e59d7c"/>
<rect x="1421.10" y="424.08" width="15.45" height="13.01" fill="#f8d8ca"/>
<rect x="1436.30" y="424.08" width="15.45" height="13.01" fill="#d6662f"/>
<rect x="1451.50" y="424.08" width="15.45" height="13.01" fill="#d6662f"/>
<rect x="1466.70" y="424.08" width="15.45" height="13.01" fill="#c66331"/>
<rect x="1481.90" y="424.08" width="15.45" height="13.01" fill="#b45129"/>
<rect x="1497.10" y="424.08" width="15.45" height="13.01" fill="#b04e28"/>
<rect x="1512.30" y="424.08" width="15.45" height="13.01" fill="#bd5a2c"/>
<rect x="1527.50" y="424.08" width="15.45" height="13.01" fill="#f1c1a8"/>
<rect x="1542.70" y="424.08" width="15.45" height="13.01" fill="#d6662f"/>
<rect x="1557.90" y="424.08" width="15.45" height="13.01" fill="#f4ccb8"/>
<rect x="1405.90" y="436.85" width="15.45" height="13.01" fill="#e39774"/>
<rect x="1421.10" y="436.85" width="15.45" height="13.01" fill="#f8d7c8"/>
<rect x="1436.30" y="436.85" width="15.45" height="13.01" fill="#d66730"/>
<rect x="1451.50" y="436.85" width="15.45" height="13.01" fill="#d66730"/>
<rect x="1466.70" y="436.85" width="15.45" height="13.01" fill="#ca6838"/>
<rect x="1481.90" y="436.85" width="15.45" height="13.01" fill="#c15e2e"/>
<rect x="1497.10" y="436.85" width="15.45" height="13.01" fill="#bd5a2c"/>
<rect x="1512.30" y="436.85" width="15.45" height="13.01" fill="#b04e28"/>
<rect x="1527.50" y="436.85" width="15.45" height="13.01" fill="#eeb397"/>
<rect x="1542.70" y="436.85" width="15.45" height="13.01" fill="#d66730"/>
<rect x="1557.90" y="436.85" width="15.45" height="13.01" fill="#f7d8c8"/>
<rect x="1405.90" y="449.61" width="15.45" height="13.01" fill="#f6cfbd"/>
<rect x="1421.10" y="449.61" width="15.45" height="13.01" fill="#f9ddd0"/>
<rect x="1436.30" y="449.61" width="15.45" height="13.01" fill="#eaac8e"/>
<rect x="1451.50" y="449.61" width="15.45" height="13.01" fill="#eaac8e"/>
<rect x="1466.70" y="449.61" width="15.45" height="13.01" fill="#f6d1c0"/>
<rect x="1481.90" y="449.61" width="15.45" height="13.01" fill="#f4c9b3"/>
<rect x="1497.10" y="449.61" width="15.45" height="13.01" fill="#f1c1a8"/>
<rect x="1512.30" y="449.61" width="15.45" height="13.01" fill="#eeb397"/>
<rect x="1527.50" y="449.61" width="15.45" height="13.01" fill="#b04e28"/>
<rect x="1542.70" y="449.61" width="15.45" height="13.01" fill="#eaac8e"/>
<rect x="1557.90" y="449.61" width="15.45" height="13.01" fill="#de8a64"/>
<rect x="1405.90" y="462.37" width="15.45" height="13.01" fill="#e18a5f"/>
<rect x="1421.10" y="462.37" width="15.45" height="13.01" fill="#fae0d4"/>
<rect x="1436.30" y="462.37" width="15.45" height="13.01" fill="#b04e28"/>
<rect x="1451.50" y="462.37" width="15.45" height="13.01" fill="#b04e28"/>
<rect x="1466.70" y="462.37" width="15.45" height="13.01" fill="#d4622c"/>
<rect x="1481.90" y="462.37" width="15.45" height="13.01" fill="#d76831"/>
<rect x="1497.10" y="462.37" width="15.45" height="13.01" fill="#d6662f"/>
<rect x="1512.30" y="462.37" width="15.45" height="13.01" fill="#d66730"/>
<rect x="1527.50" y="462.37" width="15.45" height="13.01" fill="#eaac8e"/>
<rect x="1542.70" y="462.37" width="15.45" height="13.01" fill="#b04e28"/>
<rect x="1557.90" y="462.37" width="15.45" height="13.01" fill="#f7d4c4"/>
<rect x="1405.90" y="475.14" width="15.45" height="13.01" fill="#f7d7c7"/>
<rect x="1421.10" y="475.14" width="15.45" height="13.01" fill="#f9ded2"/>
<rect x="1436.30" y="475.14" width="15.45" height="13.01" fill="#f7d4c4"/>
<rect x="1451.50" y="475.14" width="15.45" height="13.01" fill="#f7d4c4"/>
<rect x="1466.70" y="475.14" width="15.45" height="13.01" fill="#ecb296"/>
<rect x="1481.90" y="475.14" width="15.45" height="13.01" fill="#f2c6b0"/>
<rect x="1497.10" y="475.14" width="15.45" height="13.01" fill="#f4ccb8"/>
<rect x="1512.30" y="475.14" width="15.45" height="13.01" fill="#f7d8c8"/>
<rect x="1527.50" y="475.14" width="15.45" height="13.01" fill="#de8a64"/>
<rect x="1542.70" y="475.14" width="15.45" height="13.01" fill="#f7d4c4"/>
<rect x="1557.90" y="475.14" width="15.45" height="13.01" fill="#b04e28"/>
<text x="1413.50" y="356.40" font-size="7.0" fill="#fff" text-anchor="middle" opacity="0.9" textLength="14.1" lengthAdjust="spacingAndGlyphs">1.00</text>
<text x="1428.70" y="356.40" font-size="7.0" fill="#8c3514" text-anchor="middle" textLength="14.1" lengthAdjust="spacingAndGlyphs">0.09</text>
<text x="1443.90" y="356.40" font-size="7.0" fill="#fff" text-anchor="middle" opacity="0.9" textLength="15.5" lengthAdjust="spacingAndGlyphs">-0.63</text>
<text x="1459.10" y="356.40" font-size="7.0" fill="#fff" text-anchor="middle" opacity="0.9" textLength="15.5" lengthAdjust="spacingAndGlyphs">-0.63</text>
<text x="1474.30" y="356.40" font-size="7.0" fill="#fff" text-anchor="middle" opacity="0.9" textLength="14.1" lengthAdjust="spacingAndGlyphs">0.66</text>
<text x="1489.50" y="356.40" font-size="7.0" fill="#fff" text-anchor="middle" opacity="0.9" textLength="14.1" lengthAdjust="spacingAndGlyphs">0.58</text>
<text x="1504.70" y="356.40" font-size="7.0" fill="#8c3514" text-anchor="middle" textLength="14.1" lengthAdjust="spacingAndGlyphs">0.56</text>
<text x="1519.90" y="356.40" font-size="7.0" fill="#fff" text-anchor="middle" opacity="0.9" textLength="14.1" lengthAdjust="spacingAndGlyphs">0.59</text>
<text x="1535.10" y="356.40" font-size="7.0" fill="#8c3514" text-anchor="middle" textLength="15.5" lengthAdjust="spacingAndGlyphs">-0.21</text>
<text x="1550.30" y="356.40" font-size="7.0" fill="#fff" text-anchor="middle" opacity="0.9" textLength="15.5" lengthAdjust="spacingAndGlyphs">-0.63</text>
<text x="1565.50" y="356.40" font-size="7.0" fill="#8c3514" text-anchor="middle" textLength="14.1" lengthAdjust="spacingAndGlyphs">0.18</text>
<text x="1413.50" y="369.17" font-size="7.0" fill="#8c3514" text-anchor="middle" textLength="14.1" lengthAdjust="spacingAndGlyphs">0.09</text>
<text x="1428.70" y="369.17" font-size="7.0" fill="#fff" text-anchor="middle" opacity="0.9" textLength="14.1" lengthAdjust="spacingAndGlyphs">1.00</text>
<text x="1443.90" y="369.17" font-size="7.0" fill="#8c3514" text-anchor="middle" textLength="14.1" lengthAdjust="spacingAndGlyphs">0.06</text>
<text x="1459.10" y="369.17" font-size="7.0" fill="#8c3514" text-anchor="middle" textLength="14.1" lengthAdjust="spacingAndGlyphs">0.06</text>
<text x="1474.30" y="369.17" font-size="7.0" fill="#8c3514" text-anchor="middle" textLength="15.5" lengthAdjust="spacingAndGlyphs">-0.04</text>
<text x="1489.50" y="369.17" font-size="7.0" fill="#8c3514" text-anchor="middle" textLength="15.5" lengthAdjust="spacingAndGlyphs">-0.06</text>
<text x="1504.70" y="369.17" font-size="7.0" fill="#8c3514" text-anchor="middle" textLength="15.5" lengthAdjust="spacingAndGlyphs">-0.08</text>
<text x="1519.90" y="369.17" font-size="7.0" fill="#8c3514" text-anchor="middle" textLength="15.5" lengthAdjust="spacingAndGlyphs">-0.10</text>
<text x="1535.10" y="369.17" font-size="7.0" fill="#8c3514" text-anchor="middle" textLength="14.1" lengthAdjust="spacingAndGlyphs">0.12</text>
<text x="1550.30" y="369.17" font-size="7.0" fill="#8c3514" text-anchor="middle" textLength="14.1" lengthAdjust="spacingAndGlyphs">0.06</text>
<text x="1565.50" y="369.17" font-size="7.0" fill="#8c3514" text-anchor="middle" textLength="14.1" lengthAdjust="spacingAndGlyphs">0.02</text>
<text x="1413.50" y="381.93" font-size="7.0" fill="#fff" text-anchor="middle" opacity="0.9" textLength="15.5" lengthAdjust="spacingAndGlyphs">-0.63</text>
<text x="1428.70" y="381.93" font-size="7.0" fill="#8c3514" text-anchor="middle" textLength="14.1" lengthAdjust="spacingAndGlyphs">0.06</text>
<text x="1443.90" y="381.93" font-size="7.0" fill="#fff" text-anchor="middle" opacity="0.9" textLength="14.1" lengthAdjust="spacingAndGlyphs">1.00</text>
<text x="1459.10" y="381.93" font-size="7.0" fill="#fff" text-anchor="middle" opacity="0.9" textLength="14.1" lengthAdjust="spacingAndGlyphs">1.00</text>
<text x="1474.30" y="381.93" font-size="7.0" fill="#fff" text-anchor="middle" opacity="0.9" textLength="15.5" lengthAdjust="spacingAndGlyphs">-0.83</text>
<text x="1489.50" y="381.93" font-size="7.0" fill="#fff" text-anchor="middle" opacity="0.9" textLength="15.5" lengthAdjust="spacingAndGlyphs">-0.78</text>
<text x="1504.70" y="381.93" font-size="7.0" fill="#fff" text-anchor="middle" opacity="0.9" textLength="15.5" lengthAdjust="spacingAndGlyphs">-0.80</text>
<text x="1519.90" y="381.93" font-size="7.0" fill="#fff" text-anchor="middle" opacity="0.9" textLength="15.5" lengthAdjust="spacingAndGlyphs">-0.79</text>
<text x="1535.10" y="381.93" font-size="7.0" fill="#8c3514" text-anchor="middle" textLength="14.1" lengthAdjust="spacingAndGlyphs">0.48</text>
<text x="1550.30" y="381.93" font-size="7.0" fill="#fff" text-anchor="middle" opacity="0.9" textLength="14.1" lengthAdjust="spacingAndGlyphs">1.00</text>
<text x="1565.50" y="381.93" font-size="7.0" fill="#8c3514" text-anchor="middle" textLength="15.5" lengthAdjust="spacingAndGlyphs">-0.14</text>
<text x="1413.50" y="394.69" font-size="7.0" fill="#fff" text-anchor="middle" opacity="0.9" textLength="15.5" lengthAdjust="spacingAndGlyphs">-0.63</text>
<text x="1428.70" y="394.69" font-size="7.0" fill="#8c3514" text-anchor="middle" textLength="14.1" lengthAdjust="spacingAndGlyphs">0.06</text>
<text x="1443.90" y="394.69" font-size="7.0" fill="#fff" text-anchor="middle" opacity="0.9" textLength="14.1" lengthAdjust="spacingAndGlyphs">1.00</text>
<text x="1459.10" y="394.69" font-size="7.0" fill="#fff" text-anchor="middle" opacity="0.9" textLength="14.1" lengthAdjust="spacingAndGlyphs">1.00</text>
<text x="1474.30" y="394.69" font-size="7.0" fill="#fff" text-anchor="middle" opacity="0.9" textLength="15.5" lengthAdjust="spacingAndGlyphs">-0.83</text>
<text x="1489.50" y="394.69" font-size="7.0" fill="#fff" text-anchor="middle" opacity="0.9" textLength="15.5" lengthAdjust="spacingAndGlyphs">-0.78</text>
<text x="1504.70" y="394.69" font-size="7.0" fill="#fff" text-anchor="middle" opacity="0.9" textLength="15.5" lengthAdjust="spacingAndGlyphs">-0.80</text>
<text x="1519.90" y="394.69" font-size="7.0" fill="#fff" text-anchor="middle" opacity="0.9" textLength="15.5" lengthAdjust="spacingAndGlyphs">-0.79</text>
<text x="1535.10" y="394.69" font-size="7.0" fill="#8c3514" text-anchor="middle" textLength="14.1" lengthAdjust="spacingAndGlyphs">0.48</text>
<text x="1550.30" y="394.69" font-size="7.0" fill="#fff" text-anchor="middle" opacity="0.9" textLength="14.1" lengthAdjust="spacingAndGlyphs">1.00</text>
<text x="1565.50" y="394.69" font-size="7.0" fill="#8c3514" text-anchor="middle" textLength="15.5" lengthAdjust="spacingAndGlyphs">-0.14</text>
<text x="1413.50" y="407.46" font-size="7.0" fill="#fff" text-anchor="middle" opacity="0.9" textLength="14.1" lengthAdjust="spacingAndGlyphs">0.66</text>
<text x="1428.70" y="407.46" font-size="7.0" fill="#8c3514" text-anchor="middle" textLength="15.5" lengthAdjust="spacingAndGlyphs">-0.04</text>
<text x="1443.90" y="407.46" font-size="7.0" fill="#fff" text-anchor="middle" opacity="0.9" textLength="15.5" lengthAdjust="spacingAndGlyphs">-0.83</text>
<text x="1459.10" y="407.46" font-size="7.0" fill="#fff" text-anchor="middle" opacity="0.9" textLength="15.5" lengthAdjust="spacingAndGlyphs">-0.83</text>
<text x="1474.30" y="407.46" font-size="7.0" fill="#fff" text-anchor="middle" opacity="0.9" textLength="14.1" lengthAdjust="spacingAndGlyphs">1.00</text>
<text x="1489.50" y="407.46" font-size="7.0" fill="#fff" text-anchor="middle" opacity="0.9" textLength="14.1" lengthAdjust="spacingAndGlyphs">0.89</text>
<text x="1504.70" y="407.46" font-size="7.0" fill="#fff" text-anchor="middle" opacity="0.9" textLength="14.1" lengthAdjust="spacingAndGlyphs">0.88</text>
<text x="1519.90" y="407.46" font-size="7.0" fill="#fff" text-anchor="middle" opacity="0.9" textLength="14.1" lengthAdjust="spacingAndGlyphs">0.85</text>
<text x="1535.10" y="407.46" font-size="7.0" fill="#8c3514" text-anchor="middle" textLength="15.5" lengthAdjust="spacingAndGlyphs">-0.18</text>
<text x="1550.30" y="407.46" font-size="7.0" fill="#fff" text-anchor="middle" opacity="0.9" textLength="15.5" lengthAdjust="spacingAndGlyphs">-0.83</text>
<text x="1565.50" y="407.46" font-size="7.0" fill="#8c3514" text-anchor="middle" textLength="14.1" lengthAdjust="spacingAndGlyphs">0.44</text>
<text x="1413.50" y="420.22" font-size="7.0" fill="#fff" text-anchor="middle" opacity="0.9" textLength="14.1" lengthAdjust="spacingAndGlyphs">0.58</text>
<text x="1428.70" y="420.22" font-size="7.0" fill="#8c3514" text-anchor="middle" textLength="15.5" lengthAdjust="spacingAndGlyphs">-0.06</text>
<text x="1443.90" y="420.22" font-size="7.0" fill="#fff" text-anchor="middle" opacity="0.9" textLength="15.5" lengthAdjust="spacingAndGlyphs">-0.78</text>
<text x="1459.10" y="420.22" font-size="7.0" fill="#fff" text-anchor="middle" opacity="0.9" textLength="15.5" lengthAdjust="spacingAndGlyphs">-0.78</text>
<text x="1474.30" y="420.22" font-size="7.0" fill="#fff" text-anchor="middle" opacity="0.9" textLength="14.1" lengthAdjust="spacingAndGlyphs">0.89</text>
<text x="1489.50" y="420.22" font-size="7.0" fill="#fff" text-anchor="middle" opacity="0.9" textLength="14.1" lengthAdjust="spacingAndGlyphs">1.00</text>
<text x="1504.70" y="420.22" font-size="7.0" fill="#fff" text-anchor="middle" opacity="0.9" textLength="14.1" lengthAdjust="spacingAndGlyphs">0.98</text>
<text x="1519.90" y="420.22" font-size="7.0" fill="#fff" text-anchor="middle" opacity="0.9" textLength="14.1" lengthAdjust="spacingAndGlyphs">0.91</text>
<text x="1535.10" y="420.22" font-size="7.0" fill="#8c3514" text-anchor="middle" textLength="15.5" lengthAdjust="spacingAndGlyphs">-0.27</text>
<text x="1550.30" y="420.22" font-size="7.0" fill="#fff" text-anchor="middle" opacity="0.9" textLength="15.5" lengthAdjust="spacingAndGlyphs">-0.78</text>
<text x="1565.50" y="420.22" font-size="7.0" fill="#8c3514" text-anchor="middle" textLength="14.1" lengthAdjust="spacingAndGlyphs">0.31</text>
<text x="1413.50" y="432.98" font-size="7.0" fill="#8c3514" text-anchor="middle" textLength="14.1" lengthAdjust="spacingAndGlyphs">0.56</text>
<text x="1428.70" y="432.98" font-size="7.0" fill="#8c3514" text-anchor="middle" textLength="15.5" lengthAdjust="spacingAndGlyphs">-0.08</text>
<text x="1443.90" y="432.98" font-size="7.0" fill="#fff" text-anchor="middle" opacity="0.9" textLength="15.5" lengthAdjust="spacingAndGlyphs">-0.80</text>
<text x="1459.10" y="432.98" font-size="7.0" fill="#fff" text-anchor="middle" opacity="0.9" textLength="15.5" lengthAdjust="spacingAndGlyphs">-0.80</text>
<text x="1474.30" y="432.98" font-size="7.0" fill="#fff" text-anchor="middle" opacity="0.9" textLength="14.1" lengthAdjust="spacingAndGlyphs">0.88</text>
<text x="1489.50" y="432.98" font-size="7.0" fill="#fff" text-anchor="middle" opacity="0.9" textLength="14.1" lengthAdjust="spacingAndGlyphs">0.98</text>
<text x="1504.70" y="432.98" font-size="7.0" fill="#fff" text-anchor="middle" opacity="0.9" textLength="14.1" lengthAdjust="spacingAndGlyphs">1.00</text>
<text x="1519.90" y="432.98" font-size="7.0" fill="#fff" text-anchor="middle" opacity="0.9" textLength="14.1" lengthAdjust="spacingAndGlyphs">0.93</text>
<text x="1535.10" y="432.98" font-size="7.0" fill="#8c3514" text-anchor="middle" textLength="15.5" lengthAdjust="spacingAndGlyphs">-0.32</text>
<text x="1550.30" y="432.98" font-size="7.0" fill="#fff" text-anchor="middle" opacity="0.9" textLength="15.5" lengthAdjust="spacingAndGlyphs">-0.80</text>
<text x="1565.50" y="432.98" font-size="7.0" fill="#8c3514" text-anchor="middle" textLength="14.1" lengthAdjust="spacingAndGlyphs">0.27</text>
<text x="1413.50" y="445.75" font-size="7.0" fill="#fff" text-anchor="middle" opacity="0.9" textLength="14.1" lengthAdjust="spacingAndGlyphs">0.59</text>
<text x="1428.70" y="445.75" font-size="7.0" fill="#8c3514" text-anchor="middle" textLength="15.5" lengthAdjust="spacingAndGlyphs">-0.10</text>
<text x="1443.90" y="445.75" font-size="7.0" fill="#fff" text-anchor="middle" opacity="0.9" textLength="15.5" lengthAdjust="spacingAndGlyphs">-0.79</text>
<text x="1459.10" y="445.75" font-size="7.0" fill="#fff" text-anchor="middle" opacity="0.9" textLength="15.5" lengthAdjust="spacingAndGlyphs">-0.79</text>
<text x="1474.30" y="445.75" font-size="7.0" fill="#fff" text-anchor="middle" opacity="0.9" textLength="14.1" lengthAdjust="spacingAndGlyphs">0.85</text>
<text x="1489.50" y="445.75" font-size="7.0" fill="#fff" text-anchor="middle" opacity="0.9" textLength="14.1" lengthAdjust="spacingAndGlyphs">0.91</text>
<text x="1504.70" y="445.75" font-size="7.0" fill="#fff" text-anchor="middle" opacity="0.9" textLength="14.1" lengthAdjust="spacingAndGlyphs">0.93</text>
<text x="1519.90" y="445.75" font-size="7.0" fill="#fff" text-anchor="middle" opacity="0.9" textLength="14.1" lengthAdjust="spacingAndGlyphs">1.00</text>
<text x="1535.10" y="445.75" font-size="7.0" fill="#fff" text-anchor="middle" opacity="0.9" textLength="15.5" lengthAdjust="spacingAndGlyphs">-0.40</text>
<text x="1550.30" y="445.75" font-size="7.0" fill="#fff" text-anchor="middle" opacity="0.9" textLength="15.5" lengthAdjust="spacingAndGlyphs">-0.79</text>
<text x="1565.50" y="445.75" font-size="7.0" fill="#8c3514" text-anchor="middle" textLength="14.1" lengthAdjust="spacingAndGlyphs">0.17</text>
<text x="1413.50" y="458.51" font-size="7.0" fill="#8c3514" text-anchor="middle" textLength="15.5" lengthAdjust="spacingAndGlyphs">-0.21</text>
<text x="1428.70" y="458.51" font-size="7.0" fill="#8c3514" text-anchor="middle" textLength="14.1" lengthAdjust="spacingAndGlyphs">0.12</text>
<text x="1443.90" y="458.51" font-size="7.0" fill="#8c3514" text-anchor="middle" textLength="14.1" lengthAdjust="spacingAndGlyphs">0.48</text>
<text x="1459.10" y="458.51" font-size="7.0" fill="#8c3514" text-anchor="middle" textLength="14.1" lengthAdjust="spacingAndGlyphs">0.48</text>
<text x="1474.30" y="458.51" font-size="7.0" fill="#8c3514" text-anchor="middle" textLength="15.5" lengthAdjust="spacingAndGlyphs">-0.18</text>
<text x="1489.50" y="458.51" font-size="7.0" fill="#8c3514" text-anchor="middle" textLength="15.5" lengthAdjust="spacingAndGlyphs">-0.27</text>
<text x="1504.70" y="458.51" font-size="7.0" fill="#8c3514" text-anchor="middle" textLength="15.5" lengthAdjust="spacingAndGlyphs">-0.32</text>
<text x="1519.90" y="458.51" font-size="7.0" fill="#fff" text-anchor="middle" opacity="0.9" textLength="15.5" lengthAdjust="spacingAndGlyphs">-0.40</text>
<text x="1535.10" y="458.51" font-size="7.0" fill="#fff" text-anchor="middle" opacity="0.9" textLength="14.1" lengthAdjust="spacingAndGlyphs">1.00</text>
<text x="1550.30" y="458.51" font-size="7.0" fill="#8c3514" text-anchor="middle" textLength="14.1" lengthAdjust="spacingAndGlyphs">0.48</text>
<text x="1565.50" y="458.51" font-size="7.0" fill="#fff" text-anchor="middle" opacity="0.9" textLength="14.1" lengthAdjust="spacingAndGlyphs">0.66</text>
<text x="1413.50" y="471.27" font-size="7.0" fill="#fff" text-anchor="middle" opacity="0.9" textLength="15.5" lengthAdjust="spacingAndGlyphs">-0.63</text>
<text x="1428.70" y="471.27" font-size="7.0" fill="#8c3514" text-anchor="middle" textLength="14.1" lengthAdjust="spacingAndGlyphs">0.06</text>
<text x="1443.90" y="471.27" font-size="7.0" fill="#fff" text-anchor="middle" opacity="0.9" textLength="14.1" lengthAdjust="spacingAndGlyphs">1.00</text>
<text x="1459.10" y="471.27" font-size="7.0" fill="#fff" text-anchor="middle" opacity="0.9" textLength="14.1" lengthAdjust="spacingAndGlyphs">1.00</text>
<text x="1474.30" y="471.27" font-size="7.0" fill="#fff" text-anchor="middle" opacity="0.9" textLength="15.5" lengthAdjust="spacingAndGlyphs">-0.83</text>
<text x="1489.50" y="471.27" font-size="7.0" fill="#fff" text-anchor="middle" opacity="0.9" textLength="15.5" lengthAdjust="spacingAndGlyphs">-0.78</text>
<text x="1504.70" y="471.27" font-size="7.0" fill="#fff" text-anchor="middle" opacity="0.9" textLength="15.5" lengthAdjust="spacingAndGlyphs">-0.80</text>
<text x="1519.90" y="471.27" font-size="7.0" fill="#fff" text-anchor="middle" opacity="0.9" textLength="15.5" lengthAdjust="spacingAndGlyphs">-0.79</text>
<text x="1535.10" y="471.27" font-size="7.0" fill="#8c3514" text-anchor="middle" textLength="14.1" lengthAdjust="spacingAndGlyphs">0.48</text>
<text x="1550.30" y="471.27" font-size="7.0" fill="#fff" text-anchor="middle" opacity="0.9" textLength="14.1" lengthAdjust="spacingAndGlyphs">1.00</text>
<text x="1565.50" y="471.27" font-size="7.0" fill="#8c3514" text-anchor="middle" textLength="15.5" lengthAdjust="spacingAndGlyphs">-0.14</text>
<text x="1413.50" y="484.04" font-size="7.0" fill="#8c3514" text-anchor="middle" textLength="14.1" lengthAdjust="spacingAndGlyphs">0.18</text>
<text x="1428.70" y="484.04" font-size="7.0" fill="#8c3514" text-anchor="middle" textLength="14.1" lengthAdjust="spacingAndGlyphs">0.02</text>
<text x="1443.90" y="484.04" font-size="7.0" fill="#8c3514" text-anchor="middle" textLength="15.5" lengthAdjust="spacingAndGlyphs">-0.14</text>
<text x="1459.10" y="484.04" font-size="7.0" fill="#8c3514" text-anchor="middle" textLength="15.5" lengthAdjust="spacingAndGlyphs">-0.14</text>
<text x="1474.30" y="484.04" font-size="7.0" fill="#8c3514" text-anchor="middle" textLength="14.1" lengthAdjust="spacingAndGlyphs">0.44</text>
<text x="1489.50" y="484.04" font-size="7.0" fill="#8c3514" text-anchor="middle" textLength="14.1" lengthAdjust="spacingAndGlyphs">0.31</text>
<text x="1504.70" y="484.04" font-size="7.0" fill="#8c3514" text-anchor="middle" textLength="14.1" lengthAdjust="spacingAndGlyphs">0.27</text>
<text x="1519.90" y="484.04" font-size="7.0" fill="#8c3514" text-anchor="middle" textLength="14.1" lengthAdjust="spacingAndGlyphs">0.17</text>
<text x="1535.10" y="484.04" font-size="7.0" fill="#fff" text-anchor="middle" opacity="0.9" textLength="14.1" lengthAdjust="spacingAndGlyphs">0.66</text>
<text x="1550.30" y="484.04" font-size="7.0" fill="#8c3514" text-anchor="middle" textLength="15.5" lengthAdjust="spacingAndGlyphs">-0.14</text>
<text x="1565.50" y="484.04" font-size="7.0" fill="#fff" text-anchor="middle" opacity="0.9" textLength="14.1" lengthAdjust="spacingAndGlyphs">1.00</text>
<rect x="1584.2" y="347.5" width="6.8" height="140.4" fill="url(#gl1)"/>
<line x1="1591.0" y1="347.5" x2="1592.8" y2="347.5" stroke="#8c3514" stroke-width="0.6"/>
<text x="1594.60" y="350.10" font-size="7.2" fill="#8c3514" >1.00</text>
<line x1="1591.0" y1="366.7" x2="1592.8" y2="366.7" stroke="#8c3514" stroke-width="0.6"/>
<text x="1594.60" y="369.28" font-size="7.2" fill="#8c3514" >0.75</text>
<line x1="1591.0" y1="385.9" x2="1592.8" y2="385.9" stroke="#8c3514" stroke-width="0.6"/>
<text x="1594.60" y="388.46" font-size="7.2" fill="#8c3514" >0.50</text>
<line x1="1591.0" y1="405.0" x2="1592.8" y2="405.0" stroke="#8c3514" stroke-width="0.6"/>
<text x="1594.60" y="407.64" font-size="7.2" fill="#8c3514" >0.25</text>
<line x1="1591.0" y1="424.2" x2="1592.8" y2="424.2" stroke="#8c3514" stroke-width="0.6"/>
<text x="1594.60" y="426.82" font-size="7.2" fill="#8c3514" >0.00</text>
<line x1="1591.0" y1="443.4" x2="1592.8" y2="443.4" stroke="#8c3514" stroke-width="0.6"/>
<text x="1594.60" y="446.00" font-size="7.2" fill="#8c3514" >−0.25</text>
<line x1="1591.0" y1="462.6" x2="1592.8" y2="462.6" stroke="#8c3514" stroke-width="0.6"/>
<text x="1594.60" y="465.18" font-size="7.2" fill="#8c3514" >−0.50</text>
<line x1="1591.0" y1="481.8" x2="1592.8" y2="481.8" stroke="#8c3514" stroke-width="0.6"/>
<text x="1594.60" y="484.36" font-size="7.2" fill="#8c3514" >−0.75</text>
<line x1="1403.9" y1="353.9" x2="1405.9" y2="353.9" stroke="#8c3514" stroke-width="0.5"/>
<line x1="1413.5" y1="487.9" x2="1413.5" y2="489.9" stroke="#8c3514" stroke-width="0.5"/>
<text x="1402.70" y="356.78" font-size="8.0" fill="#000" text-anchor="end" stroke="#000" stroke-width="0.25" textLength="9.7" lengthAdjust="spacingAndGlyphs">CD</text>
<text x="1412.90" y="498.50" font-size="7.8" fill="#000" text-anchor="middle" stroke="#000" stroke-width="0.15" textLength="9.7" lengthAdjust="spacingAndGlyphs">CD</text>
<line x1="1403.9" y1="366.6" x2="1405.9" y2="366.6" stroke="#8c3514" stroke-width="0.5"/>
<line x1="1428.7" y1="487.9" x2="1428.7" y2="489.9" stroke="#8c3514" stroke-width="0.5"/>
<text x="1402.70" y="369.55" font-size="8.0" fill="#000" text-anchor="end" stroke="#000" stroke-width="0.25" textLength="14.2" lengthAdjust="spacingAndGlyphs">CER</text>
<text x="1428.10" y="498.50" font-size="7.8" fill="#000" text-anchor="middle" stroke="#000" stroke-width="0.15" textLength="14.2" lengthAdjust="spacingAndGlyphs">CER</text>
<line x1="1403.9" y1="379.4" x2="1405.9" y2="379.4" stroke="#8c3514" stroke-width="0.5"/>
<line x1="1443.9" y1="487.9" x2="1443.9" y2="489.9" stroke="#8c3514" stroke-width="0.5"/>
<text x="1402.70" y="382.31" font-size="8.0" fill="#000" text-anchor="end" stroke="#000" stroke-width="0.25" textLength="9.3" lengthAdjust="spacingAndGlyphs">ED</text>
<text x="1443.30" y="498.50" font-size="7.8" fill="#000" text-anchor="middle" stroke="#000" stroke-width="0.15" textLength="9.3" lengthAdjust="spacingAndGlyphs">ED</text>
<line x1="1403.9" y1="392.2" x2="1405.9" y2="392.2" stroke="#8c3514" stroke-width="0.5"/>
<line x1="1459.1" y1="487.9" x2="1459.1" y2="489.9" stroke="#8c3514" stroke-width="0.5"/>
<text x="1402.70" y="395.07" font-size="8.0" fill="#000" text-anchor="end" stroke="#000" stroke-width="0.25" textLength="9.3" lengthAdjust="spacingAndGlyphs">PD</text>
<text x="1458.50" y="498.50" font-size="7.8" fill="#000" text-anchor="middle" stroke="#000" stroke-width="0.15" textLength="9.3" lengthAdjust="spacingAndGlyphs">PD</text>
<line x1="1403.9" y1="404.9" x2="1405.9" y2="404.9" stroke="#8c3514" stroke-width="0.5"/>
<line x1="1474.3" y1="487.9" x2="1474.3" y2="489.9" stroke="#8c3514" stroke-width="0.5"/>
<text x="1402.70" y="407.84" font-size="8.0" fill="#000" text-anchor="end" stroke="#000" stroke-width="0.25" textLength="17.2" lengthAdjust="spacingAndGlyphs">Pland</text>
<text x="1473.70" y="498.50" font-size="7.8" fill="#000" text-anchor="middle" stroke="#000" stroke-width="0.15" textLength="17.2" lengthAdjust="spacingAndGlyphs">Pland</text>
<line x1="1403.9" y1="417.7" x2="1405.9" y2="417.7" stroke="#8c3514" stroke-width="0.5"/>
<line x1="1489.5" y1="487.9" x2="1489.5" y2="489.9" stroke="#8c3514" stroke-width="0.5"/>
<text x="1402.70" y="420.60" font-size="8.0" fill="#000" text-anchor="end" stroke="#000" stroke-width="0.25" textLength="9.3" lengthAdjust="spacingAndGlyphs">CA</text>
<text x="1488.90" y="498.50" font-size="7.8" fill="#000" text-anchor="middle" stroke="#000" stroke-width="0.15" textLength="9.3" lengthAdjust="spacingAndGlyphs">CA</text>
<line x1="1403.9" y1="430.5" x2="1405.9" y2="430.5" stroke="#8c3514" stroke-width="0.5"/>
<line x1="1504.7" y1="487.9" x2="1504.7" y2="489.9" stroke="#8c3514" stroke-width="0.5"/>
<text x="1402.70" y="433.36" font-size="8.0" fill="#000" text-anchor="end" stroke="#000" stroke-width="0.25" textLength="10.1" lengthAdjust="spacingAndGlyphs">LPI</text>
<text x="1504.10" y="498.50" font-size="7.8" fill="#000" text-anchor="middle" stroke="#000" stroke-width="0.15" textLength="10.1" lengthAdjust="spacingAndGlyphs">LPI</text>
<line x1="1403.9" y1="443.2" x2="1405.9" y2="443.2" stroke="#8c3514" stroke-width="0.5"/>
<line x1="1519.9" y1="487.9" x2="1519.9" y2="489.9" stroke="#8c3514" stroke-width="0.5"/>
<text x="1402.70" y="446.13" font-size="8.0" fill="#000" text-anchor="end" stroke="#000" stroke-width="0.25" textLength="10.5" lengthAdjust="spacingAndGlyphs">MN</text>
<text x="1519.30" y="498.50" font-size="7.8" fill="#000" text-anchor="middle" stroke="#000" stroke-width="0.15" textLength="10.4" lengthAdjust="spacingAndGlyphs">MN</text>
<line x1="1403.9" y1="456.0" x2="1405.9" y2="456.0" stroke="#8c3514" stroke-width="0.5"/>
<line x1="1535.1" y1="487.9" x2="1535.1" y2="489.9" stroke="#8c3514" stroke-width="0.5"/>
<text x="1402.70" y="458.89" font-size="8.0" fill="#000" text-anchor="end" stroke="#000" stroke-width="0.25" textLength="10.1" lengthAdjust="spacingAndGlyphs">LSI</text>
<text x="1534.50" y="498.50" font-size="7.8" fill="#000" text-anchor="middle" stroke="#000" stroke-width="0.15" textLength="10.1" lengthAdjust="spacingAndGlyphs">LSI</text>
<line x1="1403.9" y1="468.8" x2="1405.9" y2="468.8" stroke="#8c3514" stroke-width="0.5"/>
<line x1="1550.3" y1="487.9" x2="1550.3" y2="489.9" stroke="#8c3514" stroke-width="0.5"/>
<text x="1402.70" y="471.65" font-size="8.0" fill="#000" text-anchor="end" stroke="#000" stroke-width="0.25" textLength="9.3" lengthAdjust="spacingAndGlyphs">NP</text>
<text x="1549.70" y="498.50" font-size="7.8" fill="#000" text-anchor="middle" stroke="#000" stroke-width="0.15" textLength="9.3" lengthAdjust="spacingAndGlyphs">NP</text>
<line x1="1403.9" y1="481.5" x2="1405.9" y2="481.5" stroke="#8c3514" stroke-width="0.5"/>
<line x1="1565.5" y1="487.9" x2="1565.5" y2="489.9" stroke="#8c3514" stroke-width="0.5"/>
<text x="1402.70" y="484.42" font-size="8.0" fill="#000" text-anchor="end" stroke="#000" stroke-width="0.25" textLength="16.1" lengthAdjust="spacingAndGlyphs">SHID</text>
<text x="1564.90" y="498.50" font-size="7.8" fill="#000" text-anchor="middle" stroke="#000" stroke-width="0.15" textLength="16.0" lengthAdjust="spacingAndGlyphs">SHID</text>
<defs><linearGradient id="gb1" x1="0" y1="0" x2="0" y2="1"><stop offset="0.000" stop-color="#b04e28"/><stop offset="0.042" stop-color="#bf5b2d"/><stop offset="0.083" stop-color="#cb6838"/><stop offset="0.125" stop-color="#d57449"/><stop offset="0.167" stop-color="#dc835b"/><stop offset="0.208" stop-color="#e1926d"/><stop offset="0.250" stop-color="#e6a180"/><stop offset="0.292" stop-color="#ebae91"/><stop offset="0.333" stop-color="#eebaa0"/><stop offset="0.375" stop-color="#f2c5af"/><stop offset="0.417" stop-color="#f5d0be"/><stop offset="0.458" stop-color="#f8d9c9"/><stop offset="0.500" stop-color="#fae1d5"/><stop offset="0.542" stop-color="#f9ded2"/><stop offset="0.583" stop-color="#f8d9cc"/><stop offset="0.625" stop-color="#f7d4c4"/><stop offset="0.667" stop-color="#f5cfbc"/><stop offset="0.708" stop-color="#f3c4ae"/><stop offset="0.750" stop-color="#efb89d"/><stop offset="0.792" stop-color="#ebac8c"/><stop offset="0.833" stop-color="#e89e7a"/><stop offset="0.875" stop-color="#e39066"/><stop offset="0.917" stop-color="#de7f4f"/><stop offset="0.958" stop-color="#d86c34"/><stop offset="1.000" stop-color="#d4622c"/></linearGradient></defs>
<rect x="1637.10" y="347.10" width="27.73" height="22.07" fill="#b04e28"/>
<rect x="1664.58" y="347.10" width="27.73" height="22.07" fill="#e39168"/>
<rect x="1692.07" y="347.10" width="27.73" height="22.07" fill="#fadfd3"/>
<rect x="1719.55" y="347.10" width="27.73" height="22.07" fill="#fae1d5"/>
<rect x="1747.03" y="347.10" width="27.73" height="22.07" fill="#d4622c"/>
<rect x="1774.52" y="347.10" width="27.73" height="22.07" fill="#f9dcd0"/>
<rect x="1637.10" y="368.92" width="27.73" height="22.07" fill="#e39168"/>
<rect x="1664.58" y="368.92" width="27.73" height="22.07" fill="#b04e28"/>
<rect x="1692.07" y="368.92" width="27.73" height="22.07" fill="#f4c8b3"/>
<rect x="1719.55" y="368.92" width="27.73" height="22.07" fill="#f5ccb7"/>
<rect x="1747.03" y="368.92" width="27.73" height="22.07" fill="#f4ccb7"/>
<rect x="1774.52" y="368.92" width="27.73" height="22.07" fill="#f5cfbc"/>
<rect x="1637.10" y="390.73" width="27.73" height="22.07" fill="#fadfd3"/>
<rect x="1664.58" y="390.73" width="27.73" height="22.07" fill="#f4c8b3"/>
<rect x="1692.07" y="390.73" width="27.73" height="22.07" fill="#b04e28"/>
<rect x="1719.55" y="390.73" width="27.73" height="22.07" fill="#c96635"/>
<rect x="1747.03" y="390.73" width="27.73" height="22.07" fill="#f6d2c1"/>
<rect x="1774.52" y="390.73" width="27.73" height="22.07" fill="#d27044"/>
<rect x="1637.10" y="412.55" width="27.73" height="22.07" fill="#fae1d5"/>
<rect x="1664.58" y="412.55" width="27.73" height="22.07" fill="#f5ccb7"/>
<rect x="1692.07" y="412.55" width="27.73" height="22.07" fill="#c96635"/>
<rect x="1719.55" y="412.55" width="27.73" height="22.07" fill="#b04e28"/>
<rect x="1747.03" y="412.55" width="27.73" height="22.07" fill="#f7d4c3"/>
<rect x="1774.52" y="412.55" width="27.73" height="22.07" fill="#b8552b"/>
<rect x="1637.10" y="434.37" width="27.73" height="22.07" fill="#d4622c"/>
<rect x="1664.58" y="434.37" width="27.73" height="22.07" fill="#f4ccb7"/>
<rect x="1692.07" y="434.37" width="27.73" height="22.07" fill="#f6d2c1"/>
<rect x="1719.55" y="434.37" width="27.73" height="22.07" fill="#f7d4c3"/>
<rect x="1747.03" y="434.37" width="27.73" height="22.07" fill="#b04e28"/>
<rect x="1774.52" y="434.37" width="27.73" height="22.07" fill="#f9ded2"/>
<rect x="1637.10" y="456.18" width="27.73" height="22.07" fill="#f9dcd0"/>
<rect x="1664.58" y="456.18" width="27.73" height="22.07" fill="#f5cfbc"/>
<rect x="1692.07" y="456.18" width="27.73" height="22.07" fill="#d27044"/>
<rect x="1719.55" y="456.18" width="27.73" height="22.07" fill="#b8552b"/>
<rect x="1747.03" y="456.18" width="27.73" height="22.07" fill="#f9ded2"/>
<rect x="1774.52" y="456.18" width="27.73" height="22.07" fill="#b04e28"/>
<text x="1650.84" y="360.53" font-size="7.0" fill="#fff" text-anchor="middle" opacity="0.92" >1.00</text>
<text x="1678.32" y="360.53" font-size="7.0" fill="#fff" text-anchor="middle" opacity="0.92" >-0.49</text>
<text x="1705.81" y="360.53" font-size="7.0" fill="#8c3514" text-anchor="middle" >0.16</text>
<text x="1733.29" y="360.53" font-size="7.0" fill="#8c3514" text-anchor="middle" >0.14</text>
<text x="1760.78" y="360.53" font-size="7.0" fill="#fff" text-anchor="middle" opacity="0.92" >-0.71</text>
<text x="1788.26" y="360.53" font-size="7.0" fill="#8c3514" text-anchor="middle" >0.04</text>
<text x="1650.84" y="382.35" font-size="7.0" fill="#fff" text-anchor="middle" opacity="0.92" >-0.49</text>
<text x="1678.32" y="382.35" font-size="7.0" fill="#fff" text-anchor="middle" opacity="0.92" >1.00</text>
<text x="1705.81" y="382.35" font-size="7.0" fill="#8c3514" text-anchor="middle" >-0.19</text>
<text x="1733.29" y="382.35" font-size="7.0" fill="#8c3514" text-anchor="middle" >-0.17</text>
<text x="1760.78" y="382.35" font-size="7.0" fill="#8c3514" text-anchor="middle" >0.32</text>
<text x="1788.26" y="382.35" font-size="7.0" fill="#8c3514" text-anchor="middle" >-0.14</text>
<text x="1650.84" y="404.16" font-size="7.0" fill="#8c3514" text-anchor="middle" >0.16</text>
<text x="1678.32" y="404.16" font-size="7.0" fill="#8c3514" text-anchor="middle" >-0.19</text>
<text x="1705.81" y="404.16" font-size="7.0" fill="#fff" text-anchor="middle" opacity="0.92" >1.00</text>
<text x="1733.29" y="404.16" font-size="7.0" fill="#fff" text-anchor="middle" opacity="0.92" >0.87</text>
<text x="1760.78" y="404.16" font-size="7.0" fill="#8c3514" text-anchor="middle" >-0.09</text>
<text x="1788.26" y="404.16" font-size="7.0" fill="#fff" text-anchor="middle" opacity="0.92" >0.81</text>
<text x="1650.84" y="425.98" font-size="7.0" fill="#8c3514" text-anchor="middle" >0.14</text>
<text x="1678.32" y="425.98" font-size="7.0" fill="#8c3514" text-anchor="middle" >-0.17</text>
<text x="1705.81" y="425.98" font-size="7.0" fill="#fff" text-anchor="middle" opacity="0.92" >0.87</text>
<text x="1733.29" y="425.98" font-size="7.0" fill="#fff" text-anchor="middle" opacity="0.92" >1.00</text>
<text x="1760.78" y="425.98" font-size="7.0" fill="#8c3514" text-anchor="middle" >-0.07</text>
<text x="1788.26" y="425.98" font-size="7.0" fill="#fff" text-anchor="middle" opacity="0.92" >0.96</text>
<text x="1650.84" y="447.79" font-size="7.0" fill="#fff" text-anchor="middle" opacity="0.92" >-0.71</text>
<text x="1678.32" y="447.79" font-size="7.0" fill="#8c3514" text-anchor="middle" >0.32</text>
<text x="1705.81" y="447.79" font-size="7.0" fill="#8c3514" text-anchor="middle" >-0.09</text>
<text x="1733.29" y="447.79" font-size="7.0" fill="#8c3514" text-anchor="middle" >-0.07</text>
<text x="1760.78" y="447.79" font-size="7.0" fill="#fff" text-anchor="middle" opacity="0.92" >1.00</text>
<text x="1788.26" y="447.79" font-size="7.0" fill="#8c3514" text-anchor="middle" >0.09</text>
<text x="1650.84" y="469.61" font-size="7.0" fill="#8c3514" text-anchor="middle" >0.04</text>
<text x="1678.32" y="469.61" font-size="7.0" fill="#8c3514" text-anchor="middle" >-0.14</text>
<text x="1705.81" y="469.61" font-size="7.0" fill="#fff" text-anchor="middle" opacity="0.92" >0.81</text>
<text x="1733.29" y="469.61" font-size="7.0" fill="#fff" text-anchor="middle" opacity="0.92" >0.96</text>
<text x="1760.78" y="469.61" font-size="7.0" fill="#8c3514" text-anchor="middle" >0.09</text>
<text x="1788.26" y="469.61" font-size="7.0" fill="#fff" text-anchor="middle" opacity="0.92" >1.00</text>
<rect x="1811.8" y="347.1" width="7.2" height="130.9" fill="url(#gb1)"/>
<line x1="1819.0" y1="347.1" x2="1820.8" y2="347.1" stroke="#8c3514" stroke-width="0.6"/>
<text x="1822.60" y="349.70" font-size="7.2" fill="#8c3514" >1.0</text>
<line x1="1819.0" y1="362.4" x2="1820.8" y2="362.4" stroke="#8c3514" stroke-width="0.6"/>
<text x="1822.60" y="365.01" font-size="7.2" fill="#8c3514" >0.8</text>
<line x1="1819.0" y1="377.7" x2="1820.8" y2="377.7" stroke="#8c3514" stroke-width="0.6"/>
<text x="1822.60" y="380.32" font-size="7.2" fill="#8c3514" >0.6</text>
<line x1="1819.0" y1="393.0" x2="1820.8" y2="393.0" stroke="#8c3514" stroke-width="0.6"/>
<text x="1822.60" y="395.63" font-size="7.2" fill="#8c3514" >0.4</text>
<line x1="1819.0" y1="408.3" x2="1820.8" y2="408.3" stroke="#8c3514" stroke-width="0.6"/>
<text x="1822.60" y="410.94" font-size="7.2" fill="#8c3514" >0.2</text>
<line x1="1819.0" y1="423.6" x2="1820.8" y2="423.6" stroke="#8c3514" stroke-width="0.6"/>
<text x="1822.60" y="426.25" font-size="7.2" fill="#8c3514" >0.0</text>
<line x1="1819.0" y1="439.0" x2="1820.8" y2="439.0" stroke="#8c3514" stroke-width="0.6"/>
<text x="1822.60" y="441.56" font-size="7.2" fill="#8c3514" >−0.2</text>
<line x1="1819.0" y1="454.3" x2="1820.8" y2="454.3" stroke="#8c3514" stroke-width="0.6"/>
<text x="1822.60" y="456.87" font-size="7.2" fill="#8c3514" >−0.4</text>
<line x1="1819.0" y1="469.6" x2="1820.8" y2="469.6" stroke="#8c3514" stroke-width="0.6"/>
<text x="1822.60" y="472.18" font-size="7.2" fill="#8c3514" >−0.6</text>
<line x1="1635.1" y1="358.0" x2="1637.1" y2="358.0" stroke="#8c3514" stroke-width="0.5"/>
<line x1="1650.8" y1="478.0" x2="1650.8" y2="480.0" stroke="#8c3514" stroke-width="0.5"/>
<text x="1634.10" y="361.21" font-size="8.0" fill="#000" text-anchor="end" stroke="#000" stroke-width="0.2" textLength="19.4" lengthAdjust="spacingAndGlyphs">Height</text>
<text x="1653.44" y="482.40" font-size="7.6" fill="#111" text-anchor="end" transform="rotate(-90 1653.44 482.40)" textLength="17.8" lengthAdjust="spacingAndGlyphs">Height</text>
<line x1="1635.1" y1="379.8" x2="1637.1" y2="379.8" stroke="#8c3514" stroke-width="0.5"/>
<line x1="1678.3" y1="478.0" x2="1678.3" y2="480.0" stroke="#8c3514" stroke-width="0.5"/>
<text x="1634.10" y="383.03" font-size="8.0" fill="#000" text-anchor="end" stroke="#000" stroke-width="0.2" textLength="20.6" lengthAdjust="spacingAndGlyphs">Length</text>
<text x="1680.92" y="482.40" font-size="7.6" fill="#111" text-anchor="end" transform="rotate(-90 1680.92 482.40)" textLength="18.8" lengthAdjust="spacingAndGlyphs">Length</text>
<line x1="1635.1" y1="401.6" x2="1637.1" y2="401.6" stroke="#8c3514" stroke-width="0.5"/>
<line x1="1705.8" y1="478.0" x2="1705.8" y2="480.0" stroke="#8c3514" stroke-width="0.5"/>
<text x="1634.10" y="404.84" font-size="8.0" fill="#000" text-anchor="end" stroke="#000" stroke-width="0.2" textLength="22.4" lengthAdjust="spacingAndGlyphs">Density</text>
<text x="1708.41" y="482.40" font-size="7.6" fill="#111" text-anchor="end" transform="rotate(-90 1708.41 482.40)" textLength="20.5" lengthAdjust="spacingAndGlyphs">Density</text>
<line x1="1635.1" y1="423.5" x2="1637.1" y2="423.5" stroke="#8c3514" stroke-width="0.5"/>
<line x1="1733.3" y1="478.0" x2="1733.3" y2="480.0" stroke="#8c3514" stroke-width="0.5"/>
<text x="1634.10" y="426.66" font-size="8.0" fill="#000" text-anchor="end" stroke="#000" stroke-width="0.2" textLength="14.2" lengthAdjust="spacingAndGlyphs">Area</text>
<text x="1735.89" y="482.40" font-size="7.6" fill="#111" text-anchor="end" transform="rotate(-90 1735.89 482.40)" textLength="13.0" lengthAdjust="spacingAndGlyphs">Area</text>
<line x1="1635.1" y1="445.3" x2="1637.1" y2="445.3" stroke="#8c3514" stroke-width="0.5"/>
<line x1="1760.8" y1="478.0" x2="1760.8" y2="480.0" stroke="#8c3514" stroke-width="0.5"/>
<text x="1634.10" y="448.47" font-size="8.0" fill="#000" text-anchor="end" stroke="#000" stroke-width="0.2" textLength="9.7" lengthAdjust="spacingAndGlyphs">CD</text>
<text x="1763.38" y="482.40" font-size="7.6" fill="#111" text-anchor="end" transform="rotate(-90 1763.38 482.40)" textLength="8.9" lengthAdjust="spacingAndGlyphs">CD</text>
<line x1="1635.1" y1="467.1" x2="1637.1" y2="467.1" stroke="#8c3514" stroke-width="0.5"/>
<line x1="1788.3" y1="478.0" x2="1788.3" y2="480.0" stroke="#8c3514" stroke-width="0.5"/>
<text x="1634.10" y="470.29" font-size="8.0" fill="#000" text-anchor="end" stroke="#000" stroke-width="0.2" textLength="14.2" lengthAdjust="spacingAndGlyphs">CER</text>
<text x="1790.86" y="482.40" font-size="7.6" fill="#111" text-anchor="end" transform="rotate(-90 1790.86 482.40)" textLength="13.0" lengthAdjust="spacingAndGlyphs">CER</text>
<rect x="1193.6" y="336.6" width="648" height="166.8" fill="none" stroke="#dea18e" stroke-width="1.1" stroke-dasharray="4.6 2.4"/>
<path d="M1402,673.0 V519.5 H1622.5 V679.0" fill="none" stroke="#e4e4e0" stroke-width="0.8"/>
<path d="M1402,673.0 H1585" fill="none" stroke="#e4e4e0" stroke-width="0.8"/>
<path d="M1633.6,664.0 V521.0 H1842 M1633.6,664.0 H1842" fill="none" stroke="#e4e4e0" stroke-width="0.8"/>
<defs><linearGradient id="gl2" x1="0" y1="0" x2="0" y2="1"><stop offset="0.000" stop-color="#e2a75d"/><stop offset="0.042" stop-color="#e5b06e"/><stop offset="0.083" stop-color="#e8b97d"/><stop offset="0.125" stop-color="#ebc18c"/><stop offset="0.167" stop-color="#eec99b"/><stop offset="0.208" stop-color="#f1d0a8"/><stop offset="0.250" stop-color="#f3d7b4"/><stop offset="0.292" stop-color="#f6ddc0"/><stop offset="0.333" stop-color="#f8e3ca"/><stop offset="0.375" stop-color="#fae8d3"/><stop offset="0.417" stop-color="#fbecdb"/><stop offset="0.458" stop-color="#fcefe1"/><stop offset="0.500" stop-color="#fdf1e4"/><stop offset="0.542" stop-color="#fdf0e1"/><stop offset="0.583" stop-color="#fceddd"/><stop offset="0.625" stop-color="#fbead7"/><stop offset="0.667" stop-color="#fae6d0"/><stop offset="0.708" stop-color="#f8e2c8"/><stop offset="0.750" stop-color="#f7debf"/><stop offset="0.792" stop-color="#f5d8b5"/><stop offset="0.833" stop-color="#f3d3ab"/><stop offset="0.875" stop-color="#f1cda0"/><stop offset="0.917" stop-color="#efc794"/><stop offset="0.958" stop-color="#edc188"/><stop offset="1.000" stop-color="#ebba7b"/></linearGradient></defs>
<rect x="1405.90" y="528.40" width="15.35" height="13.23" fill="#e2a75d"/>
<rect x="1421.00" y="528.40" width="15.35" height="13.23" fill="#fdf1e4"/>
<rect x="1436.10" y="528.40" width="15.35" height="13.23" fill="#efc590"/>
<rect x="1451.20" y="528.40" width="15.35" height="13.23" fill="#efc590"/>
<rect x="1466.30" y="528.40" width="15.35" height="13.23" fill="#f8e3cb"/>
<rect x="1481.40" y="528.40" width="15.35" height="13.23" fill="#f9e5cf"/>
<rect x="1496.50" y="528.40" width="15.35" height="13.23" fill="#f3d7b4"/>
<rect x="1511.60" y="528.40" width="15.35" height="13.23" fill="#f2d2ac"/>
<rect x="1526.70" y="528.40" width="15.35" height="13.23" fill="#f3d3aa"/>
<rect x="1541.80" y="528.40" width="15.35" height="13.23" fill="#efc590"/>
<rect x="1556.90" y="528.40" width="15.35" height="13.23" fill="#f9e5cd"/>
<rect x="1405.90" y="541.38" width="15.35" height="13.23" fill="#fdf1e4"/>
<rect x="1421.00" y="541.38" width="15.35" height="13.23" fill="#e2a75d"/>
<rect x="1436.10" y="541.38" width="15.35" height="13.23" fill="#fcefe0"/>
<rect x="1451.20" y="541.38" width="15.35" height="13.23" fill="#fcefe0"/>
<rect x="1466.30" y="541.38" width="15.35" height="13.23" fill="#fbecda"/>
<rect x="1481.40" y="541.38" width="15.35" height="13.23" fill="#fbecdb"/>
<rect x="1496.50" y="541.38" width="15.35" height="13.23" fill="#fbecdb"/>
<rect x="1511.60" y="541.38" width="15.35" height="13.23" fill="#fceddc"/>
<rect x="1526.70" y="541.38" width="15.35" height="13.23" fill="#fcefe0"/>
<rect x="1541.80" y="541.38" width="15.35" height="13.23" fill="#fcefe0"/>
<rect x="1556.90" y="541.38" width="15.35" height="13.23" fill="#fcefe0"/>
<rect x="1405.90" y="554.36" width="15.35" height="13.23" fill="#efc590"/>
<rect x="1421.00" y="554.36" width="15.35" height="13.23" fill="#fcefe0"/>
<rect x="1436.10" y="554.36" width="15.35" height="13.23" fill="#e2a75d"/>
<rect x="1451.20" y="554.36" width="15.35" height="13.23" fill="#e2a75d"/>
<rect x="1466.30" y="554.36" width="15.35" height="13.23" fill="#f1cea1"/>
<rect x="1481.40" y="554.36" width="15.35" height="13.23" fill="#f1cc9d"/>
<rect x="1496.50" y="554.36" width="15.35" height="13.23" fill="#ebba7b"/>
<rect x="1511.60" y="554.36" width="15.35" height="13.23" fill="#ecbe82"/>
<rect x="1526.70" y="554.36" width="15.35" height="13.23" fill="#ecc18d"/>
<rect x="1541.80" y="554.36" width="15.35" height="13.23" fill="#e2a75d"/>
<rect x="1556.90" y="554.36" width="15.35" height="13.23" fill="#f7e2c8"/>
<rect x="1405.90" y="567.35" width="15.35" height="13.23" fill="#efc590"/>
<rect x="1421.00" y="567.35" width="15.35" height="13.23" fill="#fcefe0"/>
<rect x="1436.10" y="567.35" width="15.35" height="13.23" fill="#e2a75d"/>
<rect x="1451.20" y="567.35" width="15.35" height="13.23" fill="#e2a75d"/>
<rect x="1466.30" y="567.35" width="15.35" height="13.23" fill="#f1cea1"/>
<rect x="1481.40" y="567.35" width="15.35" height="13.23" fill="#f1cc9d"/>
<rect x="1496.50" y="567.35" width="15.35" height="13.23" fill="#ebba7b"/>
<rect x="1511.60" y="567.35" width="15.35" height="13.23" fill="#ecbe82"/>
<rect x="1526.70" y="567.35" width="15.35" height="13.23" fill="#ecc18d"/>
<rect x="1541.80" y="567.35" width="15.35" height="13.23" fill="#e2a75d"/>
<rect x="1556.90" y="567.35" width="15.35" height="13.23" fill="#f7e2c8"/>
<rect x="1405.90" y="580.33" width="15.35" height="13.23" fill="#f8e3cb"/>
<rect x="1421.00" y="580.33" width="15.35" height="13.23" fill="#fbecda"/>
<rect x="1436.10" y="580.33" width="15.35" height="13.23" fill="#f1cea1"/>
<rect x="1451.20" y="580.33" width="15.35" height="13.23" fill="#f1cea1"/>
<rect x="1466.30" y="580.33" width="15.35" height="13.23" fill="#e2a75d"/>
<rect x="1481.40" y="580.33" width="15.35" height="13.23" fill="#ebbf89"/>
<rect x="1496.50" y="580.33" width="15.35" height="13.23" fill="#eabe87"/>
<rect x="1511.60" y="580.33" width="15.35" height="13.23" fill="#edc695"/>
<rect x="1526.70" y="580.33" width="15.35" height="13.23" fill="#fceede"/>
<rect x="1541.80" y="580.33" width="15.35" height="13.23" fill="#f1cea1"/>
<rect x="1556.90" y="580.33" width="15.35" height="13.23" fill="#faead7"/>
<rect x="1405.90" y="593.31" width="15.35" height="13.23" fill="#f9e5cf"/>
<rect x="1421.00" y="593.31" width="15.35" height="13.23" fill="#fbecdb"/>
<rect x="1436.10" y="593.31" width="15.35" height="13.23" fill="#f1cc9d"/>
<rect x="1451.20" y="593.31" width="15.35" height="13.23" fill="#f1cc9d"/>
<rect x="1466.30" y="593.31" width="15.35" height="13.23" fill="#ebbf89"/>
<rect x="1481.40" y="593.31" width="15.35" height="13.23" fill="#e2a75d"/>
<rect x="1496.50" y="593.31" width="15.35" height="13.23" fill="#e7b474"/>
<rect x="1511.60" y="593.31" width="15.35" height="13.23" fill="#ecc18d"/>
<rect x="1526.70" y="593.31" width="15.35" height="13.23" fill="#f9e6ce"/>
<rect x="1541.80" y="593.31" width="15.35" height="13.23" fill="#f1cc9d"/>
<rect x="1556.90" y="593.31" width="15.35" height="13.23" fill="#fdf0e3"/>
<rect x="1405.90" y="606.29" width="15.35" height="13.23" fill="#f3d7b4"/>
<rect x="1421.00" y="606.29" width="15.35" height="13.23" fill="#fbecdb"/>
<rect x="1436.10" y="606.29" width="15.35" height="13.23" fill="#ebba7b"/>
<rect x="1451.20" y="606.29" width="15.35" height="13.23" fill="#ebba7b"/>
<rect x="1466.30" y="606.29" width="15.35" height="13.23" fill="#eabe87"/>
<rect x="1481.40" y="606.29" width="15.35" height="13.23" fill="#e7b474"/>
<rect x="1496.50" y="606.29" width="15.35" height="13.23" fill="#e2a75d"/>
<rect x="1511.60" y="606.29" width="15.35" height="13.23" fill="#e7b576"/>
<rect x="1526.70" y="606.29" width="15.35" height="13.23" fill="#f4d6b0"/>
<rect x="1541.80" y="606.29" width="15.35" height="13.23" fill="#ebba7b"/>
<rect x="1556.90" y="606.29" width="15.35" height="13.23" fill="#fae9d5"/>
<rect x="1405.90" y="619.27" width="15.35" height="13.23" fill="#f2d2ac"/>
<rect x="1421.00" y="619.27" width="15.35" height="13.23" fill="#fceddc"/>
<rect x="1436.10" y="619.27" width="15.35" height="13.23" fill="#ecbe82"/>
<rect x="1451.20" y="619.27" width="15.35" height="13.23" fill="#ecbe82"/>
<rect x="1466.30" y="619.27" width="15.35" height="13.23" fill="#edc695"/>
<rect x="1481.40" y="619.27" width="15.35" height="13.23" fill="#ecc18d"/>
<rect x="1496.50" y="619.27" width="15.35" height="13.23" fill="#e7b576"/>
<rect x="1511.60" y="619.27" width="15.35" height="13.23" fill="#e2a75d"/>
<rect x="1526.70" y="619.27" width="15.35" height="13.23" fill="#f4d4ad"/>
<rect x="1541.80" y="619.27" width="15.35" height="13.23" fill="#ecbe82"/>
<rect x="1556.90" y="619.27" width="15.35" height="13.23" fill="#fae7d0"/>
<rect x="1405.90" y="632.25" width="15.35" height="13.23" fill="#f3d3aa"/>
<rect x="1421.00" y="632.25" width="15.35" height="13.23" fill="#fcefe0"/>
<rect x="1436.10" y="632.25" width="15.35" height="13.23" fill="#ecc18d"/>
<rect x="1451.20" y="632.25" width="15.35" height="13.23" fill="#ecc18d"/>
<rect x="1466.30" y="632.25" width="15.35" height="13.23" fill="#fceede"/>
<rect x="1481.40" y="632.25" width="15.35" height="13.23" fill="#f9e6ce"/>
<rect x="1496.50" y="632.25" width="15.35" height="13.23" fill="#f4d6b0"/>
<rect x="1511.60" y="632.25" width="15.35" height="13.23" fill="#f4d4ad"/>
<rect x="1526.70" y="632.25" width="15.35" height="13.23" fill="#e2a75d"/>
<rect x="1541.80" y="632.25" width="15.35" height="13.23" fill="#ecc18d"/>
<rect x="1556.90" y="632.25" width="15.35" height="13.23" fill="#e9b97f"/>
<rect x="1405.90" y="645.24" width="15.35" height="13.23" fill="#efc590"/>
<rect x="1421.00" y="645.24" width="15.35" height="13.23" fill="#fcefe0"/>
<rect x="1436.10" y="645.24" width="15.35" height="13.23" fill="#e2a75d"/>
<rect x="1451.20" y="645.24" width="15.35" height="13.23" fill="#e2a75d"/>
<rect x="1466.30" y="645.24" width="15.35" height="13.23" fill="#f1cea1"/>
<rect x="1481.40" y="645.24" width="15.35" height="13.23" fill="#f1cc9d"/>
<rect x="1496.50" y="645.24" width="15.35" height="13.23" fill="#ebba7b"/>
<rect x="1511.60" y="645.24" width="15.35" height="13.23" fill="#ecbe82"/>
<rect x="1526.70" y="645.24" width="15.35" height="13.23" fill="#ecc18d"/>
<rect x="1541.80" y="645.24" width="15.35" height="13.23" fill="#e2a75d"/>
<rect x="1556.90" y="645.24" width="15.35" height="13.23" fill="#f7e2c8"/>
<rect x="1405.90" y="658.22" width="15.35" height="13.23" fill="#f9e5cd"/>
<rect x="1421.00" y="658.22" width="15.35" height="13.23" fill="#fcefe0"/>
<rect x="1436.10" y="658.22" width="15.35" height="13.23" fill="#f7e2c8"/>
<rect x="1451.20" y="658.22" width="15.35" height="13.23" fill="#f7e2c8"/>
<rect x="1466.30" y="658.22" width="15.35" height="13.23" fill="#faead7"/>
<rect x="1481.40" y="658.22" width="15.35" height="13.23" fill="#fdf0e3"/>
<rect x="1496.50" y="658.22" width="15.35" height="13.23" fill="#fae9d5"/>
<rect x="1511.60" y="658.22" width="15.35" height="13.23" fill="#fae7d0"/>
<rect x="1526.70" y="658.22" width="15.35" height="13.23" fill="#e9b97f"/>
<rect x="1541.80" y="658.22" width="15.35" height="13.23" fill="#f7e2c8"/>
<rect x="1556.90" y="658.22" width="15.35" height="13.23" fill="#e2a75d"/>
<text x="1413.45" y="537.41" font-size="7.0" fill="#fff" text-anchor="middle" opacity="0.9" textLength="14.0" lengthAdjust="spacingAndGlyphs">1.00</text>
<text x="1428.55" y="537.41" font-size="7.0" fill="#dc9c50" text-anchor="middle" textLength="14.0" lengthAdjust="spacingAndGlyphs">0.12</text>
<text x="1443.65" y="537.41" font-size="7.0" fill="#fff" text-anchor="middle" opacity="0.9" textLength="15.4" lengthAdjust="spacingAndGlyphs">-0.60</text>
<text x="1458.75" y="537.41" font-size="7.0" fill="#fff" text-anchor="middle" opacity="0.9" textLength="15.4" lengthAdjust="spacingAndGlyphs">-0.60</text>
<text x="1473.85" y="537.41" font-size="7.0" fill="#dc9c50" text-anchor="middle" textLength="14.0" lengthAdjust="spacingAndGlyphs">0.42</text>
<text x="1488.95" y="537.41" font-size="7.0" fill="#dc9c50" text-anchor="middle" textLength="14.0" lengthAdjust="spacingAndGlyphs">0.39</text>
<text x="1504.05" y="537.41" font-size="7.0" fill="#dc9c50" text-anchor="middle" textLength="14.0" lengthAdjust="spacingAndGlyphs">0.57</text>
<text x="1519.15" y="537.41" font-size="7.0" fill="#fff" text-anchor="middle" opacity="0.9" textLength="14.0" lengthAdjust="spacingAndGlyphs">0.62</text>
<text x="1534.25" y="537.41" font-size="7.0" fill="#fff" text-anchor="middle" opacity="0.9" textLength="15.4" lengthAdjust="spacingAndGlyphs">-0.44</text>
<text x="1549.35" y="537.41" font-size="7.0" fill="#fff" text-anchor="middle" opacity="0.9" textLength="15.4" lengthAdjust="spacingAndGlyphs">-0.60</text>
<text x="1564.45" y="537.41" font-size="7.0" fill="#dc9c50" text-anchor="middle" textLength="15.4" lengthAdjust="spacingAndGlyphs">-0.17</text>
<text x="1413.45" y="550.39" font-size="7.0" fill="#dc9c50" text-anchor="middle" textLength="14.0" lengthAdjust="spacingAndGlyphs">0.12</text>
<text x="1428.55" y="550.39" font-size="7.0" fill="#fff" text-anchor="middle" opacity="0.9" textLength="14.0" lengthAdjust="spacingAndGlyphs">1.00</text>
<text x="1443.65" y="550.39" font-size="7.0" fill="#dc9c50" text-anchor="middle" textLength="14.0" lengthAdjust="spacingAndGlyphs">0.05</text>
<text x="1458.75" y="550.39" font-size="7.0" fill="#dc9c50" text-anchor="middle" textLength="14.0" lengthAdjust="spacingAndGlyphs">0.05</text>
<text x="1473.85" y="550.39" font-size="7.0" fill="#dc9c50" text-anchor="middle" textLength="15.4" lengthAdjust="spacingAndGlyphs">-0.04</text>
<text x="1488.95" y="550.39" font-size="7.0" fill="#dc9c50" text-anchor="middle" textLength="15.4" lengthAdjust="spacingAndGlyphs">-0.03</text>
<text x="1504.05" y="550.39" font-size="7.0" fill="#dc9c50" text-anchor="middle" textLength="15.4" lengthAdjust="spacingAndGlyphs">-0.03</text>
<text x="1519.15" y="550.39" font-size="7.0" fill="#dc9c50" text-anchor="middle" textLength="15.4" lengthAdjust="spacingAndGlyphs">-0.01</text>
<text x="1534.25" y="550.39" font-size="7.0" fill="#dc9c50" text-anchor="middle" textLength="14.0" lengthAdjust="spacingAndGlyphs">0.04</text>
<text x="1549.35" y="550.39" font-size="7.0" fill="#dc9c50" text-anchor="middle" textLength="14.0" lengthAdjust="spacingAndGlyphs">0.05</text>
<text x="1564.45" y="550.39" font-size="7.0" fill="#dc9c50" text-anchor="middle" textLength="14.0" lengthAdjust="spacingAndGlyphs">0.05</text>
<text x="1413.45" y="563.37" font-size="7.0" fill="#fff" text-anchor="middle" opacity="0.9" textLength="15.4" lengthAdjust="spacingAndGlyphs">-0.60</text>
<text x="1428.55" y="563.37" font-size="7.0" fill="#dc9c50" text-anchor="middle" textLength="14.0" lengthAdjust="spacingAndGlyphs">0.05</text>
<text x="1443.65" y="563.37" font-size="7.0" fill="#fff" text-anchor="middle" opacity="0.9" textLength="14.0" lengthAdjust="spacingAndGlyphs">1.00</text>
<text x="1458.75" y="563.37" font-size="7.0" fill="#fff" text-anchor="middle" opacity="0.9" textLength="14.0" lengthAdjust="spacingAndGlyphs">1.00</text>
<text x="1473.85" y="563.37" font-size="7.0" fill="#fff" text-anchor="middle" opacity="0.9" textLength="15.4" lengthAdjust="spacingAndGlyphs">-0.50</text>
<text x="1488.95" y="563.37" font-size="7.0" fill="#fff" text-anchor="middle" opacity="0.9" textLength="15.4" lengthAdjust="spacingAndGlyphs">-0.52</text>
<text x="1504.05" y="563.37" font-size="7.0" fill="#fff" text-anchor="middle" opacity="0.9" textLength="15.4" lengthAdjust="spacingAndGlyphs">-0.72</text>
<text x="1519.15" y="563.37" font-size="7.0" fill="#fff" text-anchor="middle" opacity="0.9" textLength="15.4" lengthAdjust="spacingAndGlyphs">-0.68</text>
<text x="1534.25" y="563.37" font-size="7.0" fill="#fff" text-anchor="middle" opacity="0.9" textLength="14.0" lengthAdjust="spacingAndGlyphs">0.78</text>
<text x="1549.35" y="563.37" font-size="7.0" fill="#fff" text-anchor="middle" opacity="0.9" textLength="14.0" lengthAdjust="spacingAndGlyphs">1.00</text>
<text x="1564.45" y="563.37" font-size="7.0" fill="#dc9c50" text-anchor="middle" textLength="14.0" lengthAdjust="spacingAndGlyphs">0.44</text>
<text x="1413.45" y="576.36" font-size="7.0" fill="#fff" text-anchor="middle" opacity="0.9" textLength="15.4" lengthAdjust="spacingAndGlyphs">-0.60</text>
<text x="1428.55" y="576.36" font-size="7.0" fill="#dc9c50" text-anchor="middle" textLength="14.0" lengthAdjust="spacingAndGlyphs">0.05</text>
<text x="1443.65" y="576.36" font-size="7.0" fill="#fff" text-anchor="middle" opacity="0.9" textLength="14.0" lengthAdjust="spacingAndGlyphs">1.00</text>
<text x="1458.75" y="576.36" font-size="7.0" fill="#fff" text-anchor="middle" opacity="0.9" textLength="14.0" lengthAdjust="spacingAndGlyphs">1.00</text>
<text x="1473.85" y="576.36" font-size="7.0" fill="#fff" text-anchor="middle" opacity="0.9" textLength="15.4" lengthAdjust="spacingAndGlyphs">-0.50</text>
<text x="1488.95" y="576.36" font-size="7.0" fill="#fff" text-anchor="middle" opacity="0.9" textLength="15.4" lengthAdjust="spacingAndGlyphs">-0.52</text>
<text x="1504.05" y="576.36" font-size="7.0" fill="#fff" text-anchor="middle" opacity="0.9" textLength="15.4" lengthAdjust="spacingAndGlyphs">-0.72</text>
<text x="1519.15" y="576.36" font-size="7.0" fill="#fff" text-anchor="middle" opacity="0.9" textLength="15.4" lengthAdjust="spacingAndGlyphs">-0.68</text>
<text x="1534.25" y="576.36" font-size="7.0" fill="#fff" text-anchor="middle" opacity="0.9" textLength="14.0" lengthAdjust="spacingAndGlyphs">0.78</text>
<text x="1549.35" y="576.36" font-size="7.0" fill="#fff" text-anchor="middle" opacity="0.9" textLength="14.0" lengthAdjust="spacingAndGlyphs">1.00</text>
<text x="1564.45" y="576.36" font-size="7.0" fill="#dc9c50" text-anchor="middle" textLength="14.0" lengthAdjust="spacingAndGlyphs">0.44</text>
<text x="1413.45" y="589.34" font-size="7.0" fill="#dc9c50" text-anchor="middle" textLength="14.0" lengthAdjust="spacingAndGlyphs">0.42</text>
<text x="1428.55" y="589.34" font-size="7.0" fill="#dc9c50" text-anchor="middle" textLength="15.4" lengthAdjust="spacingAndGlyphs">-0.04</text>
<text x="1443.65" y="589.34" font-size="7.0" fill="#fff" text-anchor="middle" opacity="0.9" textLength="15.4" lengthAdjust="spacingAndGlyphs">-0.50</text>
<text x="1458.75" y="589.34" font-size="7.0" fill="#fff" text-anchor="middle" opacity="0.9" textLength="15.4" lengthAdjust="spacingAndGlyphs">-0.50</text>
<text x="1473.85" y="589.34" font-size="7.0" fill="#fff" text-anchor="middle" opacity="0.9" textLength="14.0" lengthAdjust="spacingAndGlyphs">1.00</text>
<text x="1488.95" y="589.34" font-size="7.0" fill="#fff" text-anchor="middle" opacity="0.9" textLength="14.0" lengthAdjust="spacingAndGlyphs">0.80</text>
<text x="1504.05" y="589.34" font-size="7.0" fill="#fff" text-anchor="middle" opacity="0.9" textLength="14.0" lengthAdjust="spacingAndGlyphs">0.81</text>
<text x="1519.15" y="589.34" font-size="7.0" fill="#fff" text-anchor="middle" opacity="0.9" textLength="14.0" lengthAdjust="spacingAndGlyphs">0.74</text>
<text x="1534.25" y="589.34" font-size="7.0" fill="#dc9c50" text-anchor="middle" textLength="14.0" lengthAdjust="spacingAndGlyphs">0.01</text>
<text x="1549.35" y="589.34" font-size="7.0" fill="#fff" text-anchor="middle" opacity="0.9" textLength="15.4" lengthAdjust="spacingAndGlyphs">-0.50</text>
<text x="1564.45" y="589.34" font-size="7.0" fill="#dc9c50" text-anchor="middle" textLength="14.0" lengthAdjust="spacingAndGlyphs">0.32</text>
<text x="1413.45" y="602.32" font-size="7.0" fill="#dc9c50" text-anchor="middle" textLength="14.0" lengthAdjust="spacingAndGlyphs">0.39</text>
<text x="1428.55" y="602.32" font-size="7.0" fill="#dc9c50" text-anchor="middle" textLength="15.4" lengthAdjust="spacingAndGlyphs">-0.03</text>
<text x="1443.65" y="602.32" font-size="7.0" fill="#fff" text-anchor="middle" opacity="0.9" textLength="15.4" lengthAdjust="spacingAndGlyphs">-0.52</text>
<text x="1458.75" y="602.32" font-size="7.0" fill="#fff" text-anchor="middle" opacity="0.9" textLength="15.4" lengthAdjust="spacingAndGlyphs">-0.52</text>
<text x="1473.85" y="602.32" font-size="7.0" fill="#fff" text-anchor="middle" opacity="0.9" textLength="14.0" lengthAdjust="spacingAndGlyphs">0.80</text>
<text x="1488.95" y="602.32" font-size="7.0" fill="#fff" text-anchor="middle" opacity="0.9" textLength="14.0" lengthAdjust="spacingAndGlyphs">1.00</text>
<text x="1504.05" y="602.32" font-size="7.0" fill="#fff" text-anchor="middle" opacity="0.9" textLength="14.0" lengthAdjust="spacingAndGlyphs">0.90</text>
<text x="1519.15" y="602.32" font-size="7.0" fill="#fff" text-anchor="middle" opacity="0.9" textLength="14.0" lengthAdjust="spacingAndGlyphs">0.78</text>
<text x="1534.25" y="602.32" font-size="7.0" fill="#dc9c50" text-anchor="middle" textLength="15.4" lengthAdjust="spacingAndGlyphs">-0.16</text>
<text x="1549.35" y="602.32" font-size="7.0" fill="#fff" text-anchor="middle" opacity="0.9" textLength="15.4" lengthAdjust="spacingAndGlyphs">-0.52</text>
<text x="1564.45" y="602.32" font-size="7.0" fill="#dc9c50" text-anchor="middle" textLength="14.0" lengthAdjust="spacingAndGlyphs">0.09</text>
<text x="1413.45" y="615.30" font-size="7.0" fill="#dc9c50" text-anchor="middle" textLength="14.0" lengthAdjust="spacingAndGlyphs">0.57</text>
<text x="1428.55" y="615.30" font-size="7.0" fill="#dc9c50" text-anchor="middle" textLength="15.4" lengthAdjust="spacingAndGlyphs">-0.03</text>
<text x="1443.65" y="615.30" font-size="7.0" fill="#fff" text-anchor="middle" opacity="0.9" textLength="15.4" lengthAdjust="spacingAndGlyphs">-0.72</text>
<text x="1458.75" y="615.30" font-size="7.0" fill="#fff" text-anchor="middle" opacity="0.9" textLength="15.4" lengthAdjust="spacingAndGlyphs">-0.72</text>
<text x="1473.85" y="615.30" font-size="7.0" fill="#fff" text-anchor="middle" opacity="0.9" textLength="14.0" lengthAdjust="spacingAndGlyphs">0.81</text>
<text x="1488.95" y="615.30" font-size="7.0" fill="#fff" text-anchor="middle" opacity="0.9" textLength="14.0" lengthAdjust="spacingAndGlyphs">0.90</text>
<text x="1504.05" y="615.30" font-size="7.0" fill="#fff" text-anchor="middle" opacity="0.9" textLength="14.0" lengthAdjust="spacingAndGlyphs">1.00</text>
<text x="1519.15" y="615.30" font-size="7.0" fill="#fff" text-anchor="middle" opacity="0.9" textLength="14.0" lengthAdjust="spacingAndGlyphs">0.89</text>
<text x="1534.25" y="615.30" font-size="7.0" fill="#fff" text-anchor="middle" opacity="0.9" textLength="15.4" lengthAdjust="spacingAndGlyphs">-0.40</text>
<text x="1549.35" y="615.30" font-size="7.0" fill="#fff" text-anchor="middle" opacity="0.9" textLength="15.4" lengthAdjust="spacingAndGlyphs">-0.72</text>
<text x="1564.45" y="615.30" font-size="7.0" fill="#dc9c50" text-anchor="middle" textLength="15.4" lengthAdjust="spacingAndGlyphs">-0.10</text>
<text x="1413.45" y="628.28" font-size="7.0" fill="#fff" text-anchor="middle" opacity="0.9" textLength="14.0" lengthAdjust="spacingAndGlyphs">0.62</text>
<text x="1428.55" y="628.28" font-size="7.0" fill="#dc9c50" text-anchor="middle" textLength="15.4" lengthAdjust="spacingAndGlyphs">-0.01</text>
<text x="1443.65" y="628.28" font-size="7.0" fill="#fff" text-anchor="middle" opacity="0.9" textLength="15.4" lengthAdjust="spacingAndGlyphs">-0.68</text>
<text x="1458.75" y="628.28" font-size="7.0" fill="#fff" text-anchor="middle" opacity="0.9" textLength="15.4" lengthAdjust="spacingAndGlyphs">-0.68</text>
<text x="1473.85" y="628.28" font-size="7.0" fill="#fff" text-anchor="middle" opacity="0.9" textLength="14.0" lengthAdjust="spacingAndGlyphs">0.74</text>
<text x="1488.95" y="628.28" font-size="7.0" fill="#fff" text-anchor="middle" opacity="0.9" textLength="14.0" lengthAdjust="spacingAndGlyphs">0.78</text>
<text x="1504.05" y="628.28" font-size="7.0" fill="#fff" text-anchor="middle" opacity="0.9" textLength="14.0" lengthAdjust="spacingAndGlyphs">0.89</text>
<text x="1519.15" y="628.28" font-size="7.0" fill="#fff" text-anchor="middle" opacity="0.9" textLength="14.0" lengthAdjust="spacingAndGlyphs">1.00</text>
<text x="1534.25" y="628.28" font-size="7.0" fill="#fff" text-anchor="middle" opacity="0.9" textLength="15.4" lengthAdjust="spacingAndGlyphs">-0.42</text>
<text x="1549.35" y="628.28" font-size="7.0" fill="#fff" text-anchor="middle" opacity="0.9" textLength="15.4" lengthAdjust="spacingAndGlyphs">-0.68</text>
<text x="1564.45" y="628.28" font-size="7.0" fill="#dc9c50" text-anchor="middle" textLength="15.4" lengthAdjust="spacingAndGlyphs">-0.14</text>
<text x="1413.45" y="641.27" font-size="7.0" fill="#fff" text-anchor="middle" opacity="0.9" textLength="15.4" lengthAdjust="spacingAndGlyphs">-0.44</text>
<text x="1428.55" y="641.27" font-size="7.0" fill="#dc9c50" text-anchor="middle" textLength="14.0" lengthAdjust="spacingAndGlyphs">0.04</text>
<text x="1443.65" y="641.27" font-size="7.0" fill="#fff" text-anchor="middle" opacity="0.9" textLength="14.0" lengthAdjust="spacingAndGlyphs">0.78</text>
<text x="1458.75" y="641.27" font-size="7.0" fill="#fff" text-anchor="middle" opacity="0.9" textLength="14.0" lengthAdjust="spacingAndGlyphs">0.78</text>
<text x="1473.85" y="641.27" font-size="7.0" fill="#dc9c50" text-anchor="middle" textLength="14.0" lengthAdjust="spacingAndGlyphs">0.01</text>
<text x="1488.95" y="641.27" font-size="7.0" fill="#dc9c50" text-anchor="middle" textLength="15.4" lengthAdjust="spacingAndGlyphs">-0.16</text>
<text x="1504.05" y="641.27" font-size="7.0" fill="#fff" text-anchor="middle" opacity="0.9" textLength="15.4" lengthAdjust="spacingAndGlyphs">-0.40</text>
<text x="1519.15" y="641.27" font-size="7.0" fill="#fff" text-anchor="middle" opacity="0.9" textLength="15.4" lengthAdjust="spacingAndGlyphs">-0.42</text>
<text x="1534.25" y="641.27" font-size="7.0" fill="#fff" text-anchor="middle" opacity="0.9" textLength="14.0" lengthAdjust="spacingAndGlyphs">1.00</text>
<text x="1549.35" y="641.27" font-size="7.0" fill="#fff" text-anchor="middle" opacity="0.9" textLength="14.0" lengthAdjust="spacingAndGlyphs">0.78</text>
<text x="1564.45" y="641.27" font-size="7.0" fill="#fff" text-anchor="middle" opacity="0.9" textLength="14.0" lengthAdjust="spacingAndGlyphs">0.85</text>
<text x="1413.45" y="654.25" font-size="7.0" fill="#fff" text-anchor="middle" opacity="0.9" textLength="15.4" lengthAdjust="spacingAndGlyphs">-0.60</text>
<text x="1428.55" y="654.25" font-size="7.0" fill="#dc9c50" text-anchor="middle" textLength="14.0" lengthAdjust="spacingAndGlyphs">0.05</text>
<text x="1443.65" y="654.25" font-size="7.0" fill="#fff" text-anchor="middle" opacity="0.9" textLength="14.0" lengthAdjust="spacingAndGlyphs">1.00</text>
<text x="1458.75" y="654.25" font-size="7.0" fill="#fff" text-anchor="middle" opacity="0.9" textLength="14.0" lengthAdjust="spacingAndGlyphs">1.00</text>
<text x="1473.85" y="654.25" font-size="7.0" fill="#fff" text-anchor="middle" opacity="0.9" textLength="15.4" lengthAdjust="spacingAndGlyphs">-0.50</text>
<text x="1488.95" y="654.25" font-size="7.0" fill="#fff" text-anchor="middle" opacity="0.9" textLength="15.4" lengthAdjust="spacingAndGlyphs">-0.52</text>
<text x="1504.05" y="654.25" font-size="7.0" fill="#fff" text-anchor="middle" opacity="0.9" textLength="15.4" lengthAdjust="spacingAndGlyphs">-0.72</text>
<text x="1519.15" y="654.25" font-size="7.0" fill="#fff" text-anchor="middle" opacity="0.9" textLength="15.4" lengthAdjust="spacingAndGlyphs">-0.68</text>
<text x="1534.25" y="654.25" font-size="7.0" fill="#fff" text-anchor="middle" opacity="0.9" textLength="14.0" lengthAdjust="spacingAndGlyphs">0.78</text>
<text x="1549.35" y="654.25" font-size="7.0" fill="#fff" text-anchor="middle" opacity="0.9" textLength="14.0" lengthAdjust="spacingAndGlyphs">1.00</text>
<text x="1564.45" y="654.25" font-size="7.0" fill="#dc9c50" text-anchor="middle" textLength="14.0" lengthAdjust="spacingAndGlyphs">0.44</text>
<text x="1413.45" y="667.23" font-size="7.0" fill="#dc9c50" text-anchor="middle" textLength="15.4" lengthAdjust="spacingAndGlyphs">-0.17</text>
<text x="1428.55" y="667.23" font-size="7.0" fill="#dc9c50" text-anchor="middle" textLength="14.0" lengthAdjust="spacingAndGlyphs">0.05</text>
<text x="1443.65" y="667.23" font-size="7.0" fill="#dc9c50" text-anchor="middle" textLength="14.0" lengthAdjust="spacingAndGlyphs">0.44</text>
<text x="1458.75" y="667.23" font-size="7.0" fill="#dc9c50" text-anchor="middle" textLength="14.0" lengthAdjust="spacingAndGlyphs">0.44</text>
<text x="1473.85" y="667.23" font-size="7.0" fill="#dc9c50" text-anchor="middle" textLength="14.0" lengthAdjust="spacingAndGlyphs">0.32</text>
<text x="1488.95" y="667.23" font-size="7.0" fill="#dc9c50" text-anchor="middle" textLength="14.0" lengthAdjust="spacingAndGlyphs">0.09</text>
<text x="1504.05" y="667.23" font-size="7.0" fill="#dc9c50" text-anchor="middle" textLength="15.4" lengthAdjust="spacingAndGlyphs">-0.10</text>
<text x="1519.15" y="667.23" font-size="7.0" fill="#dc9c50" text-anchor="middle" textLength="15.4" lengthAdjust="spacingAndGlyphs">-0.14</text>
<text x="1534.25" y="667.23" font-size="7.0" fill="#fff" text-anchor="middle" opacity="0.9" textLength="14.0" lengthAdjust="spacingAndGlyphs">0.85</text>
<text x="1549.35" y="667.23" font-size="7.0" fill="#dc9c50" text-anchor="middle" textLength="14.0" lengthAdjust="spacingAndGlyphs">0.44</text>
<text x="1564.45" y="667.23" font-size="7.0" fill="#fff" text-anchor="middle" opacity="0.9" textLength="14.0" lengthAdjust="spacingAndGlyphs">1.00</text>
<rect x="1582.8" y="528.4" width="6.6" height="142.8" fill="url(#gl2)"/>
<line x1="1589.4" y1="528.4" x2="1591.2" y2="528.4" stroke="#dc9c50" stroke-width="0.6"/>
<text x="1593.00" y="531.00" font-size="7.2" fill="#dc9c50" >1.0</text>
<line x1="1589.4" y1="545.0" x2="1591.2" y2="545.0" stroke="#dc9c50" stroke-width="0.6"/>
<text x="1593.00" y="547.60" font-size="7.2" fill="#dc9c50" >0.8</text>
<line x1="1589.4" y1="561.6" x2="1591.2" y2="561.6" stroke="#dc9c50" stroke-width="0.6"/>
<text x="1593.00" y="564.21" font-size="7.2" fill="#dc9c50" >0.6</text>
<line x1="1589.4" y1="578.2" x2="1591.2" y2="578.2" stroke="#dc9c50" stroke-width="0.6"/>
<text x="1593.00" y="580.81" font-size="7.2" fill="#dc9c50" >0.4</text>
<line x1="1589.4" y1="594.8" x2="1591.2" y2="594.8" stroke="#dc9c50" stroke-width="0.6"/>
<text x="1593.00" y="597.42" font-size="7.2" fill="#dc9c50" >0.2</text>
<line x1="1589.4" y1="611.4" x2="1591.2" y2="611.4" stroke="#dc9c50" stroke-width="0.6"/>
<text x="1593.00" y="614.02" font-size="7.2" fill="#dc9c50" >0.0</text>
<line x1="1589.4" y1="628.0" x2="1591.2" y2="628.0" stroke="#dc9c50" stroke-width="0.6"/>
<text x="1593.00" y="630.63" font-size="7.2" fill="#dc9c50" >−0.2</text>
<line x1="1589.4" y1="644.6" x2="1591.2" y2="644.6" stroke="#dc9c50" stroke-width="0.6"/>
<text x="1593.00" y="647.23" font-size="7.2" fill="#dc9c50" >−0.4</text>
<line x1="1589.4" y1="661.2" x2="1591.2" y2="661.2" stroke="#dc9c50" stroke-width="0.6"/>
<text x="1593.00" y="663.84" font-size="7.2" fill="#dc9c50" >−0.6</text>
<line x1="1403.9" y1="534.9" x2="1405.9" y2="534.9" stroke="#dc9c50" stroke-width="0.5"/>
<line x1="1413.5" y1="671.2" x2="1413.5" y2="673.2" stroke="#dc9c50" stroke-width="0.5"/>
<text x="1402.70" y="537.79" font-size="8.0" fill="#000" text-anchor="end" stroke="#000" stroke-width="0.25" textLength="9.7" lengthAdjust="spacingAndGlyphs">CD</text>
<text x="1412.85" y="681.80" font-size="7.8" fill="#000" text-anchor="middle" stroke="#000" stroke-width="0.15" textLength="9.7" lengthAdjust="spacingAndGlyphs">CD</text>
<line x1="1403.9" y1="547.9" x2="1405.9" y2="547.9" stroke="#dc9c50" stroke-width="0.5"/>
<line x1="1428.6" y1="671.2" x2="1428.6" y2="673.2" stroke="#dc9c50" stroke-width="0.5"/>
<text x="1402.70" y="550.77" font-size="8.0" fill="#000" text-anchor="end" stroke="#000" stroke-width="0.25" textLength="14.2" lengthAdjust="spacingAndGlyphs">CER</text>
<text x="1427.95" y="681.80" font-size="7.8" fill="#000" text-anchor="middle" stroke="#000" stroke-width="0.15" textLength="14.2" lengthAdjust="spacingAndGlyphs">CER</text>
<line x1="1403.9" y1="560.9" x2="1405.9" y2="560.9" stroke="#dc9c50" stroke-width="0.5"/>
<line x1="1443.7" y1="671.2" x2="1443.7" y2="673.2" stroke="#dc9c50" stroke-width="0.5"/>
<text x="1402.70" y="563.75" font-size="8.0" fill="#000" text-anchor="end" stroke="#000" stroke-width="0.25" textLength="9.3" lengthAdjust="spacingAndGlyphs">ED</text>
<text x="1443.05" y="681.80" font-size="7.8" fill="#000" text-anchor="middle" stroke="#000" stroke-width="0.15" textLength="9.3" lengthAdjust="spacingAndGlyphs">ED</text>
<line x1="1403.9" y1="573.8" x2="1405.9" y2="573.8" stroke="#dc9c50" stroke-width="0.5"/>
<line x1="1458.8" y1="671.2" x2="1458.8" y2="673.2" stroke="#dc9c50" stroke-width="0.5"/>
<text x="1402.70" y="576.74" font-size="8.0" fill="#000" text-anchor="end" stroke="#000" stroke-width="0.25" textLength="9.3" lengthAdjust="spacingAndGlyphs">PD</text>
<text x="1458.15" y="681.80" font-size="7.8" fill="#000" text-anchor="middle" stroke="#000" stroke-width="0.15" textLength="9.3" lengthAdjust="spacingAndGlyphs">PD</text>
<line x1="1403.9" y1="586.8" x2="1405.9" y2="586.8" stroke="#dc9c50" stroke-width="0.5"/>
<line x1="1473.9" y1="671.2" x2="1473.9" y2="673.2" stroke="#dc9c50" stroke-width="0.5"/>
<text x="1402.70" y="589.72" font-size="8.0" fill="#000" text-anchor="end" stroke="#000" stroke-width="0.25" textLength="17.2" lengthAdjust="spacingAndGlyphs">Pland</text>
<text x="1473.25" y="681.80" font-size="7.8" fill="#000" text-anchor="middle" stroke="#000" stroke-width="0.15" textLength="17.2" lengthAdjust="spacingAndGlyphs">Pland</text>
<line x1="1403.9" y1="599.8" x2="1405.9" y2="599.8" stroke="#dc9c50" stroke-width="0.5"/>
<line x1="1489.0" y1="671.2" x2="1489.0" y2="673.2" stroke="#dc9c50" stroke-width="0.5"/>
<text x="1402.70" y="602.70" font-size="8.0" fill="#000" text-anchor="end" stroke="#000" stroke-width="0.25" textLength="9.3" lengthAdjust="spacingAndGlyphs">CA</text>
<text x="1488.35" y="681.80" font-size="7.8" fill="#000" text-anchor="middle" stroke="#000" stroke-width="0.15" textLength="9.3" lengthAdjust="spacingAndGlyphs">CA</text>
<line x1="1403.9" y1="612.8" x2="1405.9" y2="612.8" stroke="#dc9c50" stroke-width="0.5"/>
<line x1="1504.0" y1="671.2" x2="1504.0" y2="673.2" stroke="#dc9c50" stroke-width="0.5"/>
<text x="1402.70" y="615.68" font-size="8.0" fill="#000" text-anchor="end" stroke="#000" stroke-width="0.25" textLength="10.1" lengthAdjust="spacingAndGlyphs">LPI</text>
<text x="1503.45" y="681.80" font-size="7.8" fill="#000" text-anchor="middle" stroke="#000" stroke-width="0.15" textLength="10.1" lengthAdjust="spacingAndGlyphs">LPI</text>
<line x1="1403.9" y1="625.8" x2="1405.9" y2="625.8" stroke="#dc9c50" stroke-width="0.5"/>
<line x1="1519.2" y1="671.2" x2="1519.2" y2="673.2" stroke="#dc9c50" stroke-width="0.5"/>
<text x="1402.70" y="628.66" font-size="8.0" fill="#000" text-anchor="end" stroke="#000" stroke-width="0.25" textLength="10.5" lengthAdjust="spacingAndGlyphs">MN</text>
<text x="1518.55" y="681.80" font-size="7.8" fill="#000" text-anchor="middle" stroke="#000" stroke-width="0.15" textLength="10.4" lengthAdjust="spacingAndGlyphs">MN</text>
<line x1="1403.9" y1="638.7" x2="1405.9" y2="638.7" stroke="#dc9c50" stroke-width="0.5"/>
<line x1="1534.2" y1="671.2" x2="1534.2" y2="673.2" stroke="#dc9c50" stroke-width="0.5"/>
<text x="1402.70" y="641.65" font-size="8.0" fill="#000" text-anchor="end" stroke="#000" stroke-width="0.25" textLength="10.1" lengthAdjust="spacingAndGlyphs">LSI</text>
<text x="1533.65" y="681.80" font-size="7.8" fill="#000" text-anchor="middle" stroke="#000" stroke-width="0.15" textLength="10.1" lengthAdjust="spacingAndGlyphs">LSI</text>
<line x1="1403.9" y1="651.7" x2="1405.9" y2="651.7" stroke="#dc9c50" stroke-width="0.5"/>
<line x1="1549.3" y1="671.2" x2="1549.3" y2="673.2" stroke="#dc9c50" stroke-width="0.5"/>
<text x="1402.70" y="654.63" font-size="8.0" fill="#000" text-anchor="end" stroke="#000" stroke-width="0.25" textLength="9.3" lengthAdjust="spacingAndGlyphs">NP</text>
<text x="1548.75" y="681.80" font-size="7.8" fill="#000" text-anchor="middle" stroke="#000" stroke-width="0.15" textLength="9.3" lengthAdjust="spacingAndGlyphs">NP</text>
<line x1="1403.9" y1="664.7" x2="1405.9" y2="664.7" stroke="#dc9c50" stroke-width="0.5"/>
<line x1="1564.5" y1="671.2" x2="1564.5" y2="673.2" stroke="#dc9c50" stroke-width="0.5"/>
<text x="1402.70" y="667.61" font-size="8.0" fill="#000" text-anchor="end" stroke="#000" stroke-width="0.25" textLength="16.1" lengthAdjust="spacingAndGlyphs">SHID</text>
<text x="1563.85" y="681.80" font-size="7.8" fill="#000" text-anchor="middle" stroke="#000" stroke-width="0.15" textLength="16.0" lengthAdjust="spacingAndGlyphs">SHID</text>
<defs><linearGradient id="gb2" x1="0" y1="0" x2="0" y2="1"><stop offset="0.000" stop-color="#e2a75d"/><stop offset="0.042" stop-color="#e5b06e"/><stop offset="0.083" stop-color="#e8b97d"/><stop offset="0.125" stop-color="#ebc18c"/><stop offset="0.167" stop-color="#eec99b"/><stop offset="0.208" stop-color="#f1d0a8"/><stop offset="0.250" stop-color="#f3d7b4"/><stop offset="0.292" stop-color="#f6ddc0"/><stop offset="0.333" stop-color="#f8e3ca"/><stop offset="0.375" stop-color="#fae8d3"/><stop offset="0.417" stop-color="#fbecdb"/><stop offset="0.458" stop-color="#fcefe1"/><stop offset="0.500" stop-color="#fdf1e4"/><stop offset="0.542" stop-color="#fdf0e1"/><stop offset="0.583" stop-color="#fceddd"/><stop offset="0.625" stop-color="#fbead7"/><stop offset="0.667" stop-color="#fae6d0"/><stop offset="0.708" stop-color="#f8e2c8"/><stop offset="0.750" stop-color="#f7debf"/><stop offset="0.792" stop-color="#f5d8b5"/><stop offset="0.833" stop-color="#f3d3ab"/><stop offset="0.875" stop-color="#f1cda0"/><stop offset="0.917" stop-color="#efc794"/><stop offset="0.958" stop-color="#edc188"/><stop offset="1.000" stop-color="#ebba7b"/></linearGradient></defs>
<rect x="1637.10" y="527.90" width="27.90" height="22.18" fill="#e2a75d"/>
<rect x="1664.75" y="527.90" width="27.90" height="22.18" fill="#f3d4ac"/>
<rect x="1692.40" y="527.90" width="27.90" height="22.18" fill="#fdf1e4"/>
<rect x="1720.05" y="527.90" width="27.90" height="22.18" fill="#fdf1e4"/>
<rect x="1747.70" y="527.90" width="27.90" height="22.18" fill="#ebba7b"/>
<rect x="1775.35" y="527.90" width="27.90" height="22.18" fill="#fceede"/>
<rect x="1637.10" y="549.83" width="27.90" height="22.18" fill="#f3d4ac"/>
<rect x="1664.75" y="549.83" width="27.90" height="22.18" fill="#e2a75d"/>
<rect x="1692.40" y="549.83" width="27.90" height="22.18" fill="#fae8d3"/>
<rect x="1720.05" y="549.83" width="27.90" height="22.18" fill="#fbe9d6"/>
<rect x="1747.70" y="549.83" width="27.90" height="22.18" fill="#f8e2c9"/>
<rect x="1775.35" y="549.83" width="27.90" height="22.18" fill="#fbead7"/>
<rect x="1637.10" y="571.77" width="27.90" height="22.18" fill="#fdf1e4"/>
<rect x="1664.75" y="571.77" width="27.90" height="22.18" fill="#fae8d3"/>
<rect x="1692.40" y="571.77" width="27.90" height="22.18" fill="#e2a75d"/>
<rect x="1720.05" y="571.77" width="27.90" height="22.18" fill="#e9ba7f"/>
<rect x="1747.70" y="571.77" width="27.90" height="22.18" fill="#fceddc"/>
<rect x="1775.35" y="571.77" width="27.90" height="22.18" fill="#ecc491"/>
<rect x="1637.10" y="593.70" width="27.90" height="22.18" fill="#fdf1e4"/>
<rect x="1664.75" y="593.70" width="27.90" height="22.18" fill="#fbe9d6"/>
<rect x="1692.40" y="593.70" width="27.90" height="22.18" fill="#e9ba7f"/>
<rect x="1720.05" y="593.70" width="27.90" height="22.18" fill="#e2a75d"/>
<rect x="1747.70" y="593.70" width="27.90" height="22.18" fill="#fceddd"/>
<rect x="1775.35" y="593.70" width="27.90" height="22.18" fill="#e5ae6a"/>
<rect x="1637.10" y="615.63" width="27.90" height="22.18" fill="#ebba7b"/>
<rect x="1664.75" y="615.63" width="27.90" height="22.18" fill="#f8e2c9"/>
<rect x="1692.40" y="615.63" width="27.90" height="22.18" fill="#fceddc"/>
<rect x="1720.05" y="615.63" width="27.90" height="22.18" fill="#fceddd"/>
<rect x="1747.70" y="615.63" width="27.90" height="22.18" fill="#e2a75d"/>
<rect x="1775.35" y="615.63" width="27.90" height="22.18" fill="#fdf1e4"/>
<rect x="1637.10" y="637.57" width="27.90" height="22.18" fill="#fceede"/>
<rect x="1664.75" y="637.57" width="27.90" height="22.18" fill="#fbead7"/>
<rect x="1692.40" y="637.57" width="27.90" height="22.18" fill="#ecc491"/>
<rect x="1720.05" y="637.57" width="27.90" height="22.18" fill="#e5ae6a"/>
<rect x="1747.70" y="637.57" width="27.90" height="22.18" fill="#fdf1e4"/>
<rect x="1775.35" y="637.57" width="27.90" height="22.18" fill="#e2a75d"/>
<text x="1650.92" y="541.39" font-size="7.0" fill="#fff" text-anchor="middle" opacity="0.92" >1.00</text>
<text x="1678.57" y="541.39" font-size="7.0" fill="#fff" text-anchor="middle" opacity="0.92" >-0.49</text>
<text x="1706.22" y="541.39" font-size="7.0" fill="#dc9c50" text-anchor="middle" >0.10</text>
<text x="1733.88" y="541.39" font-size="7.0" fill="#dc9c50" text-anchor="middle" >0.08</text>
<text x="1761.53" y="541.39" font-size="7.0" fill="#fff" text-anchor="middle" opacity="0.92" >-0.80</text>
<text x="1789.17" y="541.39" font-size="7.0" fill="#dc9c50" text-anchor="middle" >-0.04</text>
<text x="1650.92" y="563.32" font-size="7.0" fill="#fff" text-anchor="middle" opacity="0.92" >-0.49</text>
<text x="1678.57" y="563.32" font-size="7.0" fill="#fff" text-anchor="middle" opacity="0.92" >1.00</text>
<text x="1706.22" y="563.32" font-size="7.0" fill="#dc9c50" text-anchor="middle" >-0.17</text>
<text x="1733.88" y="563.32" font-size="7.0" fill="#dc9c50" text-anchor="middle" >-0.14</text>
<text x="1761.53" y="563.32" font-size="7.0" fill="#dc9c50" text-anchor="middle" >0.41</text>
<text x="1789.17" y="563.32" font-size="7.0" fill="#dc9c50" text-anchor="middle" >-0.12</text>
<text x="1650.92" y="585.25" font-size="7.0" fill="#dc9c50" text-anchor="middle" >0.10</text>
<text x="1678.57" y="585.25" font-size="7.0" fill="#dc9c50" text-anchor="middle" >-0.17</text>
<text x="1706.22" y="585.25" font-size="7.0" fill="#fff" text-anchor="middle" opacity="0.92" >1.00</text>
<text x="1733.88" y="585.25" font-size="7.0" fill="#fff" text-anchor="middle" opacity="0.92" >0.84</text>
<text x="1761.53" y="585.25" font-size="7.0" fill="#dc9c50" text-anchor="middle" >-0.06</text>
<text x="1789.17" y="585.25" font-size="7.0" fill="#fff" text-anchor="middle" opacity="0.92" >0.75</text>
<text x="1650.92" y="607.19" font-size="7.0" fill="#dc9c50" text-anchor="middle" >0.08</text>
<text x="1678.57" y="607.19" font-size="7.0" fill="#dc9c50" text-anchor="middle" >-0.14</text>
<text x="1706.22" y="607.19" font-size="7.0" fill="#fff" text-anchor="middle" opacity="0.92" >0.84</text>
<text x="1733.88" y="607.19" font-size="7.0" fill="#fff" text-anchor="middle" opacity="0.92" >1.00</text>
<text x="1761.53" y="607.19" font-size="7.0" fill="#dc9c50" text-anchor="middle" >-0.05</text>
<text x="1789.17" y="607.19" font-size="7.0" fill="#fff" text-anchor="middle" opacity="0.92" >0.94</text>
<text x="1650.92" y="629.12" font-size="7.0" fill="#fff" text-anchor="middle" opacity="0.92" >-0.80</text>
<text x="1678.57" y="629.12" font-size="7.0" fill="#dc9c50" text-anchor="middle" >0.41</text>
<text x="1706.22" y="629.12" font-size="7.0" fill="#dc9c50" text-anchor="middle" >-0.06</text>
<text x="1733.88" y="629.12" font-size="7.0" fill="#dc9c50" text-anchor="middle" >-0.05</text>
<text x="1761.53" y="629.12" font-size="7.0" fill="#fff" text-anchor="middle" opacity="0.92" >1.00</text>
<text x="1789.17" y="629.12" font-size="7.0" fill="#dc9c50" text-anchor="middle" >0.12</text>
<text x="1650.92" y="651.05" font-size="7.0" fill="#dc9c50" text-anchor="middle" >-0.04</text>
<text x="1678.57" y="651.05" font-size="7.0" fill="#dc9c50" text-anchor="middle" >-0.12</text>
<text x="1706.22" y="651.05" font-size="7.0" fill="#fff" text-anchor="middle" opacity="0.92" >0.75</text>
<text x="1733.88" y="651.05" font-size="7.0" fill="#fff" text-anchor="middle" opacity="0.92" >0.94</text>
<text x="1761.53" y="651.05" font-size="7.0" fill="#dc9c50" text-anchor="middle" >0.12</text>
<text x="1789.17" y="651.05" font-size="7.0" fill="#fff" text-anchor="middle" opacity="0.92" >1.00</text>
<rect x="1813.6" y="527.9" width="6.4" height="131.6" fill="url(#gb2)"/>
<line x1="1820.0" y1="527.9" x2="1821.8" y2="527.9" stroke="#dc9c50" stroke-width="0.6"/>
<text x="1823.60" y="530.50" font-size="7.2" fill="#dc9c50" >1.0</text>
<line x1="1820.0" y1="542.5" x2="1821.8" y2="542.5" stroke="#dc9c50" stroke-width="0.6"/>
<text x="1823.60" y="545.12" font-size="7.2" fill="#dc9c50" >0.8</text>
<line x1="1820.0" y1="557.1" x2="1821.8" y2="557.1" stroke="#dc9c50" stroke-width="0.6"/>
<text x="1823.60" y="559.74" font-size="7.2" fill="#dc9c50" >0.6</text>
<line x1="1820.0" y1="571.8" x2="1821.8" y2="571.8" stroke="#dc9c50" stroke-width="0.6"/>
<text x="1823.60" y="574.37" font-size="7.2" fill="#dc9c50" >0.4</text>
<line x1="1820.0" y1="586.4" x2="1821.8" y2="586.4" stroke="#dc9c50" stroke-width="0.6"/>
<text x="1823.60" y="588.99" font-size="7.2" fill="#dc9c50" >0.2</text>
<line x1="1820.0" y1="601.0" x2="1821.8" y2="601.0" stroke="#dc9c50" stroke-width="0.6"/>
<text x="1823.60" y="603.61" font-size="7.2" fill="#dc9c50" >0.0</text>
<line x1="1820.0" y1="615.6" x2="1821.8" y2="615.6" stroke="#dc9c50" stroke-width="0.6"/>
<text x="1823.60" y="618.23" font-size="7.2" fill="#dc9c50" >−0.2</text>
<line x1="1820.0" y1="630.3" x2="1821.8" y2="630.3" stroke="#dc9c50" stroke-width="0.6"/>
<text x="1823.60" y="632.86" font-size="7.2" fill="#dc9c50" >−0.4</text>
<line x1="1820.0" y1="644.9" x2="1821.8" y2="644.9" stroke="#dc9c50" stroke-width="0.6"/>
<text x="1823.60" y="647.48" font-size="7.2" fill="#dc9c50" >−0.6</text>
<line x1="1635.1" y1="538.9" x2="1637.1" y2="538.9" stroke="#dc9c50" stroke-width="0.5"/>
<line x1="1650.9" y1="659.5" x2="1650.9" y2="661.5" stroke="#dc9c50" stroke-width="0.5"/>
<text x="1634.10" y="542.07" font-size="8.0" fill="#000" text-anchor="end" stroke="#000" stroke-width="0.2" textLength="19.4" lengthAdjust="spacingAndGlyphs">Height</text>
<text x="1653.52" y="663.90" font-size="7.6" fill="#111" text-anchor="end" transform="rotate(-90 1653.52 663.90)" textLength="17.8" lengthAdjust="spacingAndGlyphs">Height</text>
<line x1="1635.1" y1="560.8" x2="1637.1" y2="560.8" stroke="#dc9c50" stroke-width="0.5"/>
<line x1="1678.6" y1="659.5" x2="1678.6" y2="661.5" stroke="#dc9c50" stroke-width="0.5"/>
<text x="1634.10" y="564.00" font-size="8.0" fill="#000" text-anchor="end" stroke="#000" stroke-width="0.2" textLength="20.6" lengthAdjust="spacingAndGlyphs">Length</text>
<text x="1681.17" y="663.90" font-size="7.6" fill="#111" text-anchor="end" transform="rotate(-90 1681.17 663.90)" textLength="18.8" lengthAdjust="spacingAndGlyphs">Length</text>
<line x1="1635.1" y1="582.7" x2="1637.1" y2="582.7" stroke="#dc9c50" stroke-width="0.5"/>
<line x1="1706.2" y1="659.5" x2="1706.2" y2="661.5" stroke="#dc9c50" stroke-width="0.5"/>
<text x="1634.10" y="585.93" font-size="8.0" fill="#000" text-anchor="end" stroke="#000" stroke-width="0.2" textLength="22.4" lengthAdjust="spacingAndGlyphs">Density</text>
<text x="1708.82" y="663.90" font-size="7.6" fill="#111" text-anchor="end" transform="rotate(-90 1708.82 663.90)" textLength="20.5" lengthAdjust="spacingAndGlyphs">Density</text>
<line x1="1635.1" y1="604.7" x2="1637.1" y2="604.7" stroke="#dc9c50" stroke-width="0.5"/>
<line x1="1733.9" y1="659.5" x2="1733.9" y2="661.5" stroke="#dc9c50" stroke-width="0.5"/>
<text x="1634.10" y="607.87" font-size="8.0" fill="#000" text-anchor="end" stroke="#000" stroke-width="0.2" textLength="14.2" lengthAdjust="spacingAndGlyphs">Area</text>
<text x="1736.47" y="663.90" font-size="7.6" fill="#111" text-anchor="end" transform="rotate(-90 1736.47 663.90)" textLength="13.0" lengthAdjust="spacingAndGlyphs">Area</text>
<line x1="1635.1" y1="626.6" x2="1637.1" y2="626.6" stroke="#dc9c50" stroke-width="0.5"/>
<line x1="1761.5" y1="659.5" x2="1761.5" y2="661.5" stroke="#dc9c50" stroke-width="0.5"/>
<text x="1634.10" y="629.80" font-size="8.0" fill="#000" text-anchor="end" stroke="#000" stroke-width="0.2" textLength="9.7" lengthAdjust="spacingAndGlyphs">CD</text>
<text x="1764.12" y="663.90" font-size="7.6" fill="#111" text-anchor="end" transform="rotate(-90 1764.12 663.90)" textLength="8.9" lengthAdjust="spacingAndGlyphs">CD</text>
<line x1="1635.1" y1="648.5" x2="1637.1" y2="648.5" stroke="#dc9c50" stroke-width="0.5"/>
<line x1="1789.2" y1="659.5" x2="1789.2" y2="661.5" stroke="#dc9c50" stroke-width="0.5"/>
<text x="1634.10" y="651.73" font-size="8.0" fill="#000" text-anchor="end" stroke="#000" stroke-width="0.2" textLength="14.2" lengthAdjust="spacingAndGlyphs">CER</text>
<text x="1791.77" y="663.90" font-size="7.6" fill="#111" text-anchor="end" transform="rotate(-90 1791.77 663.90)" textLength="13.0" lengthAdjust="spacingAndGlyphs">CER</text>
<rect x="1193.6" y="517.4" width="648" height="167.0" fill="none" stroke="#edcfaa" stroke-width="1.1" stroke-dasharray="4.6 2.4"/>
<path d="M1402,851.5 V703.5 H1622.5 V857.5" fill="none" stroke="#e4e4e0" stroke-width="0.8"/>
<path d="M1402,851.5 H1585" fill="none" stroke="#e4e4e0" stroke-width="0.8"/>
<path d="M1633.6,843.5 V703.5 H1842 M1633.6,843.5 H1842" fill="none" stroke="#e4e4e0" stroke-width="0.8"/>
<defs><linearGradient id="gl3" x1="0" y1="0" x2="0" y2="1"><stop offset="0.000" stop-color="#8aa74d"/><stop offset="0.042" stop-color="#96b05f"/><stop offset="0.083" stop-color="#a1b86f"/><stop offset="0.125" stop-color="#abc07f"/><stop offset="0.167" stop-color="#b5c78f"/><stop offset="0.208" stop-color="#bfce9d"/><stop offset="0.250" stop-color="#c7d5aa"/><stop offset="0.292" stop-color="#cfdbb6"/><stop offset="0.333" stop-color="#d7e0c1"/><stop offset="0.375" stop-color="#dde5cb"/><stop offset="0.417" stop-color="#e3e9d3"/><stop offset="0.458" stop-color="#e7ecda"/><stop offset="0.500" stop-color="#e9eedd"/><stop offset="0.542" stop-color="#e7edda"/><stop offset="0.583" stop-color="#e4ead5"/><stop offset="0.625" stop-color="#dfe7ce"/><stop offset="0.667" stop-color="#dae3c6"/><stop offset="0.708" stop-color="#d4dfbc"/><stop offset="0.750" stop-color="#cddbb2"/><stop offset="0.792" stop-color="#c6d5a7"/><stop offset="0.833" stop-color="#bfd09b"/><stop offset="0.875" stop-color="#b6ca8e"/><stop offset="0.917" stop-color="#aec481"/><stop offset="0.958" stop-color="#a5be73"/><stop offset="1.000" stop-color="#9bb764"/></linearGradient></defs>
<rect x="1406.40" y="708.00" width="15.40" height="12.96" fill="#8aa74d"/>
<rect x="1421.55" y="708.00" width="15.40" height="12.96" fill="#e4ead5"/>
<rect x="1436.69" y="708.00" width="15.40" height="12.96" fill="#afc583"/>
<rect x="1451.84" y="708.00" width="15.40" height="12.96" fill="#afc583"/>
<rect x="1466.98" y="708.00" width="15.40" height="12.96" fill="#d7e1c2"/>
<rect x="1482.13" y="708.00" width="15.40" height="12.96" fill="#d3ddbb"/>
<rect x="1497.27" y="708.00" width="15.40" height="12.96" fill="#cedab4"/>
<rect x="1512.42" y="708.00" width="15.40" height="12.96" fill="#dce4c9"/>
<rect x="1527.56" y="708.00" width="15.40" height="12.96" fill="#e1e9d1"/>
<rect x="1542.71" y="708.00" width="15.40" height="12.96" fill="#afc583"/>
<rect x="1557.85" y="708.00" width="15.40" height="12.96" fill="#e3e9d4"/>
<rect x="1406.40" y="720.71" width="15.40" height="12.96" fill="#e4ead5"/>
<rect x="1421.55" y="720.71" width="15.40" height="12.96" fill="#8aa74d"/>
<rect x="1436.69" y="720.71" width="15.40" height="12.96" fill="#dee7cd"/>
<rect x="1451.84" y="720.71" width="15.40" height="12.96" fill="#dee7cd"/>
<rect x="1466.98" y="720.71" width="15.40" height="12.96" fill="#dee6cb"/>
<rect x="1482.13" y="720.71" width="15.40" height="12.96" fill="#dee6cb"/>
<rect x="1497.27" y="720.71" width="15.40" height="12.96" fill="#dee6cb"/>
<rect x="1512.42" y="720.71" width="15.40" height="12.96" fill="#dee7cd"/>
<rect x="1527.56" y="720.71" width="15.40" height="12.96" fill="#dce5c9"/>
<rect x="1542.71" y="720.71" width="15.40" height="12.96" fill="#dee7cd"/>
<rect x="1557.85" y="720.71" width="15.40" height="12.96" fill="#dbe4c7"/>
<rect x="1406.40" y="733.42" width="15.40" height="12.96" fill="#afc583"/>
<rect x="1421.55" y="733.42" width="15.40" height="12.96" fill="#dee7cd"/>
<rect x="1436.69" y="733.42" width="15.40" height="12.96" fill="#8aa74d"/>
<rect x="1451.84" y="733.42" width="15.40" height="12.96" fill="#8aa74d"/>
<rect x="1466.98" y="733.42" width="15.40" height="12.96" fill="#b3c88a"/>
<rect x="1482.13" y="733.42" width="15.40" height="12.96" fill="#b1c685"/>
<rect x="1497.27" y="733.42" width="15.40" height="12.96" fill="#9eb969"/>
<rect x="1512.42" y="733.42" width="15.40" height="12.96" fill="#9bb764"/>
<rect x="1527.56" y="733.42" width="15.40" height="12.96" fill="#cad7ae"/>
<rect x="1542.71" y="733.42" width="15.40" height="12.96" fill="#8aa74d"/>
<rect x="1557.85" y="733.42" width="15.40" height="12.96" fill="#e8eddc"/>
<rect x="1406.40" y="746.13" width="15.40" height="12.96" fill="#afc583"/>
<rect x="1421.55" y="746.13" width="15.40" height="12.96" fill="#dee7cd"/>
<rect x="1436.69" y="746.13" width="15.40" height="12.96" fill="#8aa74d"/>
<rect x="1451.84" y="746.13" width="15.40" height="12.96" fill="#8aa74d"/>
<rect x="1466.98" y="746.13" width="15.40" height="12.96" fill="#b3c88a"/>
<rect x="1482.13" y="746.13" width="15.40" height="12.96" fill="#b1c685"/>
<rect x="1497.27" y="746.13" width="15.40" height="12.96" fill="#9eb969"/>
<rect x="1512.42" y="746.13" width="15.40" height="12.96" fill="#9bb764"/>
<rect x="1527.56" y="746.13" width="15.40" height="12.96" fill="#cad7ae"/>
<rect x="1542.71" y="746.13" width="15.40" height="12.96" fill="#8aa74d"/>
<rect x="1557.85" y="746.13" width="15.40" height="12.96" fill="#e8eddc"/>
<rect x="1406.40" y="758.84" width="15.40" height="12.96" fill="#d7e1c2"/>
<rect x="1421.55" y="758.84" width="15.40" height="12.96" fill="#dee6cb"/>
<rect x="1436.69" y="758.84" width="15.40" height="12.96" fill="#b3c88a"/>
<rect x="1451.84" y="758.84" width="15.40" height="12.96" fill="#b3c88a"/>
<rect x="1466.98" y="758.84" width="15.40" height="12.96" fill="#8aa74d"/>
<rect x="1482.13" y="758.84" width="15.40" height="12.96" fill="#97b060"/>
<rect x="1497.27" y="758.84" width="15.40" height="12.96" fill="#97b060"/>
<rect x="1512.42" y="758.84" width="15.40" height="12.96" fill="#a3b972"/>
<rect x="1527.56" y="758.84" width="15.40" height="12.96" fill="#dee6cc"/>
<rect x="1542.71" y="758.84" width="15.40" height="12.96" fill="#b3c88a"/>
<rect x="1557.85" y="758.84" width="15.40" height="12.96" fill="#c4d2a5"/>
<rect x="1406.40" y="771.55" width="15.40" height="12.96" fill="#d3ddbb"/>
<rect x="1421.55" y="771.55" width="15.40" height="12.96" fill="#dee6cb"/>
<rect x="1436.69" y="771.55" width="15.40" height="12.96" fill="#b1c685"/>
<rect x="1451.84" y="771.55" width="15.40" height="12.96" fill="#b1c685"/>
<rect x="1466.98" y="771.55" width="15.40" height="12.96" fill="#97b060"/>
<rect x="1482.13" y="771.55" width="15.40" height="12.96" fill="#8aa74d"/>
<rect x="1497.27" y="771.55" width="15.40" height="12.96" fill="#8fab55"/>
<rect x="1512.42" y="771.55" width="15.40" height="12.96" fill="#a3b972"/>
<rect x="1527.56" y="771.55" width="15.40" height="12.96" fill="#e4ead6"/>
<rect x="1542.71" y="771.55" width="15.40" height="12.96" fill="#b1c685"/>
<rect x="1557.85" y="771.55" width="15.40" height="12.96" fill="#cedab4"/>
<rect x="1406.40" y="784.25" width="15.40" height="12.96" fill="#cedab4"/>
<rect x="1421.55" y="784.25" width="15.40" height="12.96" fill="#dee6cb"/>
<rect x="1436.69" y="784.25" width="15.40" height="12.96" fill="#9eb969"/>
<rect x="1451.84" y="784.25" width="15.40" height="12.96" fill="#9eb969"/>
<rect x="1466.98" y="784.25" width="15.40" height="12.96" fill="#97b060"/>
<rect x="1482.13" y="784.25" width="15.40" height="12.96" fill="#8fab55"/>
<rect x="1497.27" y="784.25" width="15.40" height="12.96" fill="#8aa74d"/>
<rect x="1512.42" y="784.25" width="15.40" height="12.96" fill="#98b263"/>
<rect x="1527.56" y="784.25" width="15.40" height="12.96" fill="#e9eedd"/>
<rect x="1542.71" y="784.25" width="15.40" height="12.96" fill="#9eb969"/>
<rect x="1557.85" y="784.25" width="15.40" height="12.96" fill="#d7e1c2"/>
<rect x="1406.40" y="796.96" width="15.40" height="12.96" fill="#dce4c9"/>
<rect x="1421.55" y="796.96" width="15.40" height="12.96" fill="#dee7cd"/>
<rect x="1436.69" y="796.96" width="15.40" height="12.96" fill="#9bb764"/>
<rect x="1451.84" y="796.96" width="15.40" height="12.96" fill="#9bb764"/>
<rect x="1466.98" y="796.96" width="15.40" height="12.96" fill="#a3b972"/>
<rect x="1482.13" y="796.96" width="15.40" height="12.96" fill="#a3b972"/>
<rect x="1497.27" y="796.96" width="15.40" height="12.96" fill="#98b263"/>
<rect x="1512.42" y="796.96" width="15.40" height="12.96" fill="#8aa74d"/>
<rect x="1527.56" y="796.96" width="15.40" height="12.96" fill="#e3ead4"/>
<rect x="1542.71" y="796.96" width="15.40" height="12.96" fill="#9bb764"/>
<rect x="1557.85" y="796.96" width="15.40" height="12.96" fill="#e6ebd8"/>
<rect x="1406.40" y="809.67" width="15.40" height="12.96" fill="#e1e9d1"/>
<rect x="1421.55" y="809.67" width="15.40" height="12.96" fill="#dce5c9"/>
<rect x="1436.69" y="809.67" width="15.40" height="12.96" fill="#cad7ae"/>
<rect x="1451.84" y="809.67" width="15.40" height="12.96" fill="#cad7ae"/>
<rect x="1466.98" y="809.67" width="15.40" height="12.96" fill="#dee6cc"/>
<rect x="1482.13" y="809.67" width="15.40" height="12.96" fill="#e4ead6"/>
<rect x="1497.27" y="809.67" width="15.40" height="12.96" fill="#e9eedd"/>
<rect x="1512.42" y="809.67" width="15.40" height="12.96" fill="#e3ead4"/>
<rect x="1527.56" y="809.67" width="15.40" height="12.96" fill="#8aa74d"/>
<rect x="1542.71" y="809.67" width="15.40" height="12.96" fill="#cad7ae"/>
<rect x="1557.85" y="809.67" width="15.40" height="12.96" fill="#9db66b"/>
<rect x="1406.40" y="822.38" width="15.40" height="12.96" fill="#afc583"/>
<rect x="1421.55" y="822.38" width="15.40" height="12.96" fill="#dee7cd"/>
<rect x="1436.69" y="822.38" width="15.40" height="12.96" fill="#8aa74d"/>
<rect x="1451.84" y="822.38" width="15.40" height="12.96" fill="#8aa74d"/>
<rect x="1466.98" y="822.38" width="15.40" height="12.96" fill="#b3c88a"/>
<rect x="1482.13" y="822.38" width="15.40" height="12.96" fill="#b1c685"/>
<rect x="1497.27" y="822.38" width="15.40" height="12.96" fill="#9eb969"/>
<rect x="1512.42" y="822.38" width="15.40" height="12.96" fill="#9bb764"/>
<rect x="1527.56" y="822.38" width="15.40" height="12.96" fill="#cad7ae"/>
<rect x="1542.71" y="822.38" width="15.40" height="12.96" fill="#8aa74d"/>
<rect x="1557.85" y="822.38" width="15.40" height="12.96" fill="#e8eddc"/>
<rect x="1406.40" y="835.09" width="15.40" height="12.96" fill="#e3e9d4"/>
<rect x="1421.55" y="835.09" width="15.40" height="12.96" fill="#dbe4c7"/>
<rect x="1436.69" y="835.09" width="15.40" height="12.96" fill="#e8eddc"/>
<rect x="1451.84" y="835.09" width="15.40" height="12.96" fill="#e8eddc"/>
<rect x="1466.98" y="835.09" width="15.40" height="12.96" fill="#c4d2a5"/>
<rect x="1482.13" y="835.09" width="15.40" height="12.96" fill="#cedab4"/>
<rect x="1497.27" y="835.09" width="15.40" height="12.96" fill="#d7e1c2"/>
<rect x="1512.42" y="835.09" width="15.40" height="12.96" fill="#e6ebd8"/>
<rect x="1527.56" y="835.09" width="15.40" height="12.96" fill="#9db66b"/>
<rect x="1542.71" y="835.09" width="15.40" height="12.96" fill="#e8eddc"/>
<rect x="1557.85" y="835.09" width="15.40" height="12.96" fill="#8aa74d"/>
<text x="1413.97" y="716.87" font-size="7.0" fill="#fff" text-anchor="middle" opacity="0.9" textLength="14.1" lengthAdjust="spacingAndGlyphs">1.00</text>
<text x="1429.12" y="716.87" font-size="7.0" fill="#76983a" text-anchor="middle" textLength="14.1" lengthAdjust="spacingAndGlyphs">0.10</text>
<text x="1444.26" y="716.87" font-size="7.0" fill="#fff" text-anchor="middle" opacity="0.9" textLength="15.4" lengthAdjust="spacingAndGlyphs">-0.41</text>
<text x="1459.41" y="716.87" font-size="7.0" fill="#fff" text-anchor="middle" opacity="0.9" textLength="15.4" lengthAdjust="spacingAndGlyphs">-0.41</text>
<text x="1474.55" y="716.87" font-size="7.0" fill="#76983a" text-anchor="middle" textLength="14.1" lengthAdjust="spacingAndGlyphs">0.48</text>
<text x="1489.70" y="716.87" font-size="7.0" fill="#76983a" text-anchor="middle" textLength="14.1" lengthAdjust="spacingAndGlyphs">0.52</text>
<text x="1504.85" y="716.87" font-size="7.0" fill="#76983a" text-anchor="middle" textLength="14.1" lengthAdjust="spacingAndGlyphs">0.56</text>
<text x="1519.99" y="716.87" font-size="7.0" fill="#76983a" text-anchor="middle" textLength="14.1" lengthAdjust="spacingAndGlyphs">0.43</text>
<text x="1535.14" y="716.87" font-size="7.0" fill="#76983a" text-anchor="middle" textLength="14.1" lengthAdjust="spacingAndGlyphs">0.06</text>
<text x="1550.28" y="716.87" font-size="7.0" fill="#fff" text-anchor="middle" opacity="0.9" textLength="15.4" lengthAdjust="spacingAndGlyphs">-0.41</text>
<text x="1565.43" y="716.87" font-size="7.0" fill="#76983a" text-anchor="middle" textLength="14.1" lengthAdjust="spacingAndGlyphs">0.35</text>
<text x="1413.97" y="729.58" font-size="7.0" fill="#76983a" text-anchor="middle" textLength="14.1" lengthAdjust="spacingAndGlyphs">0.10</text>
<text x="1429.12" y="729.58" font-size="7.0" fill="#fff" text-anchor="middle" opacity="0.9" textLength="14.1" lengthAdjust="spacingAndGlyphs">1.00</text>
<text x="1444.26" y="729.58" font-size="7.0" fill="#76983a" text-anchor="middle" textLength="14.1" lengthAdjust="spacingAndGlyphs">0.02</text>
<text x="1459.41" y="729.58" font-size="7.0" fill="#76983a" text-anchor="middle" textLength="14.1" lengthAdjust="spacingAndGlyphs">0.02</text>
<text x="1474.55" y="729.58" font-size="7.0" fill="#76983a" text-anchor="middle" textLength="14.1" lengthAdjust="spacingAndGlyphs">0.01</text>
<text x="1489.70" y="729.58" font-size="7.0" fill="#76983a" text-anchor="middle" textLength="14.1" lengthAdjust="spacingAndGlyphs">0.01</text>
<text x="1504.85" y="729.58" font-size="7.0" fill="#76983a" text-anchor="middle" textLength="14.1" lengthAdjust="spacingAndGlyphs">0.01</text>
<text x="1519.99" y="729.58" font-size="7.0" fill="#76983a" text-anchor="middle" textLength="14.1" lengthAdjust="spacingAndGlyphs">0.02</text>
<text x="1535.14" y="729.58" font-size="7.0" fill="#76983a" text-anchor="middle" textLength="15.4" lengthAdjust="spacingAndGlyphs">-0.01</text>
<text x="1550.28" y="729.58" font-size="7.0" fill="#76983a" text-anchor="middle" textLength="14.1" lengthAdjust="spacingAndGlyphs">0.02</text>
<text x="1565.43" y="729.58" font-size="7.0" fill="#76983a" text-anchor="middle" textLength="15.4" lengthAdjust="spacingAndGlyphs">-0.02</text>
<text x="1413.97" y="742.29" font-size="7.0" fill="#fff" text-anchor="middle" opacity="0.9" textLength="15.4" lengthAdjust="spacingAndGlyphs">-0.41</text>
<text x="1429.12" y="742.29" font-size="7.0" fill="#76983a" text-anchor="middle" textLength="14.1" lengthAdjust="spacingAndGlyphs">0.02</text>
<text x="1444.26" y="742.29" font-size="7.0" fill="#fff" text-anchor="middle" opacity="0.9" textLength="14.1" lengthAdjust="spacingAndGlyphs">1.00</text>
<text x="1459.41" y="742.29" font-size="7.0" fill="#fff" text-anchor="middle" opacity="0.9" textLength="14.1" lengthAdjust="spacingAndGlyphs">1.00</text>
<text x="1474.55" y="742.29" font-size="7.0" fill="#fff" text-anchor="middle" opacity="0.9" textLength="15.4" lengthAdjust="spacingAndGlyphs">-0.38</text>
<text x="1489.70" y="742.29" font-size="7.0" fill="#fff" text-anchor="middle" opacity="0.9" textLength="15.4" lengthAdjust="spacingAndGlyphs">-0.40</text>
<text x="1504.85" y="742.29" font-size="7.0" fill="#fff" text-anchor="middle" opacity="0.9" textLength="15.4" lengthAdjust="spacingAndGlyphs">-0.53</text>
<text x="1519.99" y="742.29" font-size="7.0" fill="#fff" text-anchor="middle" opacity="0.9" textLength="15.4" lengthAdjust="spacingAndGlyphs">-0.55</text>
<text x="1535.14" y="742.29" font-size="7.0" fill="#76983a" text-anchor="middle" textLength="14.1" lengthAdjust="spacingAndGlyphs">0.59</text>
<text x="1550.28" y="742.29" font-size="7.0" fill="#fff" text-anchor="middle" opacity="0.9" textLength="14.1" lengthAdjust="spacingAndGlyphs">1.00</text>
<text x="1565.43" y="742.29" font-size="7.0" fill="#76983a" text-anchor="middle" textLength="14.1" lengthAdjust="spacingAndGlyphs">0.26</text>
<text x="1413.97" y="755.00" font-size="7.0" fill="#fff" text-anchor="middle" opacity="0.9" textLength="15.4" lengthAdjust="spacingAndGlyphs">-0.41</text>
<text x="1429.12" y="755.00" font-size="7.0" fill="#76983a" text-anchor="middle" textLength="14.1" lengthAdjust="spacingAndGlyphs">0.02</text>
<text x="1444.26" y="755.00" font-size="7.0" fill="#fff" text-anchor="middle" opacity="0.9" textLength="14.1" lengthAdjust="spacingAndGlyphs">1.00</text>
<text x="1459.41" y="755.00" font-size="7.0" fill="#fff" text-anchor="middle" opacity="0.9" textLength="14.1" lengthAdjust="spacingAndGlyphs">1.00</text>
<text x="1474.55" y="755.00" font-size="7.0" fill="#fff" text-anchor="middle" opacity="0.9" textLength="15.4" lengthAdjust="spacingAndGlyphs">-0.38</text>
<text x="1489.70" y="755.00" font-size="7.0" fill="#fff" text-anchor="middle" opacity="0.9" textLength="15.4" lengthAdjust="spacingAndGlyphs">-0.40</text>
<text x="1504.85" y="755.00" font-size="7.0" fill="#fff" text-anchor="middle" opacity="0.9" textLength="15.4" lengthAdjust="spacingAndGlyphs">-0.53</text>
<text x="1519.99" y="755.00" font-size="7.0" fill="#fff" text-anchor="middle" opacity="0.9" textLength="15.4" lengthAdjust="spacingAndGlyphs">-0.55</text>
<text x="1535.14" y="755.00" font-size="7.0" fill="#76983a" text-anchor="middle" textLength="14.1" lengthAdjust="spacingAndGlyphs">0.59</text>
<text x="1550.28" y="755.00" font-size="7.0" fill="#fff" text-anchor="middle" opacity="0.9" textLength="14.1" lengthAdjust="spacingAndGlyphs">1.00</text>
<text x="1565.43" y="755.00" font-size="7.0" fill="#76983a" text-anchor="middle" textLength="14.1" lengthAdjust="spacingAndGlyphs">0.26</text>
<text x="1413.97" y="767.71" font-size="7.0" fill="#76983a" text-anchor="middle" textLength="14.1" lengthAdjust="spacingAndGlyphs">0.48</text>
<text x="1429.12" y="767.71" font-size="7.0" fill="#76983a" text-anchor="middle" textLength="14.1" lengthAdjust="spacingAndGlyphs">0.01</text>
<text x="1444.26" y="767.71" font-size="7.0" fill="#fff" text-anchor="middle" opacity="0.9" textLength="15.4" lengthAdjust="spacingAndGlyphs">-0.38</text>
<text x="1459.41" y="767.71" font-size="7.0" fill="#fff" text-anchor="middle" opacity="0.9" textLength="15.4" lengthAdjust="spacingAndGlyphs">-0.38</text>
<text x="1474.55" y="767.71" font-size="7.0" fill="#fff" text-anchor="middle" opacity="0.9" textLength="14.1" lengthAdjust="spacingAndGlyphs">1.00</text>
<text x="1489.70" y="767.71" font-size="7.0" fill="#fff" text-anchor="middle" opacity="0.9" textLength="14.1" lengthAdjust="spacingAndGlyphs">0.93</text>
<text x="1504.85" y="767.71" font-size="7.0" fill="#fff" text-anchor="middle" opacity="0.9" textLength="14.1" lengthAdjust="spacingAndGlyphs">0.93</text>
<text x="1519.99" y="767.71" font-size="7.0" fill="#fff" text-anchor="middle" opacity="0.9" textLength="14.1" lengthAdjust="spacingAndGlyphs">0.86</text>
<text x="1535.14" y="767.71" font-size="7.0" fill="#76983a" text-anchor="middle" textLength="14.1" lengthAdjust="spacingAndGlyphs">0.41</text>
<text x="1550.28" y="767.71" font-size="7.0" fill="#fff" text-anchor="middle" opacity="0.9" textLength="15.4" lengthAdjust="spacingAndGlyphs">-0.38</text>
<text x="1565.43" y="767.71" font-size="7.0" fill="#fff" text-anchor="middle" opacity="0.9" textLength="14.1" lengthAdjust="spacingAndGlyphs">0.64</text>
<text x="1413.97" y="780.42" font-size="7.0" fill="#76983a" text-anchor="middle" textLength="14.1" lengthAdjust="spacingAndGlyphs">0.52</text>
<text x="1429.12" y="780.42" font-size="7.0" fill="#76983a" text-anchor="middle" textLength="14.1" lengthAdjust="spacingAndGlyphs">0.01</text>
<text x="1444.26" y="780.42" font-size="7.0" fill="#fff" text-anchor="middle" opacity="0.9" textLength="15.4" lengthAdjust="spacingAndGlyphs">-0.40</text>
<text x="1459.41" y="780.42" font-size="7.0" fill="#fff" text-anchor="middle" opacity="0.9" textLength="15.4" lengthAdjust="spacingAndGlyphs">-0.40</text>
<text x="1474.55" y="780.42" font-size="7.0" fill="#fff" text-anchor="middle" opacity="0.9" textLength="14.1" lengthAdjust="spacingAndGlyphs">0.93</text>
<text x="1489.70" y="780.42" font-size="7.0" fill="#fff" text-anchor="middle" opacity="0.9" textLength="14.1" lengthAdjust="spacingAndGlyphs">1.00</text>
<text x="1504.85" y="780.42" font-size="7.0" fill="#fff" text-anchor="middle" opacity="0.9" textLength="14.1" lengthAdjust="spacingAndGlyphs">0.97</text>
<text x="1519.99" y="780.42" font-size="7.0" fill="#fff" text-anchor="middle" opacity="0.9" textLength="14.1" lengthAdjust="spacingAndGlyphs">0.86</text>
<text x="1535.14" y="780.42" font-size="7.0" fill="#76983a" text-anchor="middle" textLength="14.1" lengthAdjust="spacingAndGlyphs">0.33</text>
<text x="1550.28" y="780.42" font-size="7.0" fill="#fff" text-anchor="middle" opacity="0.9" textLength="15.4" lengthAdjust="spacingAndGlyphs">-0.40</text>
<text x="1565.43" y="780.42" font-size="7.0" fill="#76983a" text-anchor="middle" textLength="14.1" lengthAdjust="spacingAndGlyphs">0.56</text>
<text x="1413.97" y="793.13" font-size="7.0" fill="#76983a" text-anchor="middle" textLength="14.1" lengthAdjust="spacingAndGlyphs">0.56</text>
<text x="1429.12" y="793.13" font-size="7.0" fill="#76983a" text-anchor="middle" textLength="14.1" lengthAdjust="spacingAndGlyphs">0.01</text>
<text x="1444.26" y="793.13" font-size="7.0" fill="#fff" text-anchor="middle" opacity="0.9" textLength="15.4" lengthAdjust="spacingAndGlyphs">-0.53</text>
<text x="1459.41" y="793.13" font-size="7.0" fill="#fff" text-anchor="middle" opacity="0.9" textLength="15.4" lengthAdjust="spacingAndGlyphs">-0.53</text>
<text x="1474.55" y="793.13" font-size="7.0" fill="#fff" text-anchor="middle" opacity="0.9" textLength="14.1" lengthAdjust="spacingAndGlyphs">0.93</text>
<text x="1489.70" y="793.13" font-size="7.0" fill="#fff" text-anchor="middle" opacity="0.9" textLength="14.1" lengthAdjust="spacingAndGlyphs">0.97</text>
<text x="1504.85" y="793.13" font-size="7.0" fill="#fff" text-anchor="middle" opacity="0.9" textLength="14.1" lengthAdjust="spacingAndGlyphs">1.00</text>
<text x="1519.99" y="793.13" font-size="7.0" fill="#fff" text-anchor="middle" opacity="0.9" textLength="14.1" lengthAdjust="spacingAndGlyphs">0.92</text>
<text x="1535.14" y="793.13" font-size="7.0" fill="#76983a" text-anchor="middle" textLength="14.1" lengthAdjust="spacingAndGlyphs">0.21</text>
<text x="1550.28" y="793.13" font-size="7.0" fill="#fff" text-anchor="middle" opacity="0.9" textLength="15.4" lengthAdjust="spacingAndGlyphs">-0.53</text>
<text x="1565.43" y="793.13" font-size="7.0" fill="#76983a" text-anchor="middle" textLength="14.1" lengthAdjust="spacingAndGlyphs">0.48</text>
<text x="1413.97" y="805.84" font-size="7.0" fill="#76983a" text-anchor="middle" textLength="14.1" lengthAdjust="spacingAndGlyphs">0.43</text>
<text x="1429.12" y="805.84" font-size="7.0" fill="#76983a" text-anchor="middle" textLength="14.1" lengthAdjust="spacingAndGlyphs">0.02</text>
<text x="1444.26" y="805.84" font-size="7.0" fill="#fff" text-anchor="middle" opacity="0.9" textLength="15.4" lengthAdjust="spacingAndGlyphs">-0.55</text>
<text x="1459.41" y="805.84" font-size="7.0" fill="#fff" text-anchor="middle" opacity="0.9" textLength="15.4" lengthAdjust="spacingAndGlyphs">-0.55</text>
<text x="1474.55" y="805.84" font-size="7.0" fill="#fff" text-anchor="middle" opacity="0.9" textLength="14.1" lengthAdjust="spacingAndGlyphs">0.86</text>
<text x="1489.70" y="805.84" font-size="7.0" fill="#fff" text-anchor="middle" opacity="0.9" textLength="14.1" lengthAdjust="spacingAndGlyphs">0.86</text>
<text x="1504.85" y="805.84" font-size="7.0" fill="#fff" text-anchor="middle" opacity="0.9" textLength="14.1" lengthAdjust="spacingAndGlyphs">0.92</text>
<text x="1519.99" y="805.84" font-size="7.0" fill="#fff" text-anchor="middle" opacity="0.9" textLength="14.1" lengthAdjust="spacingAndGlyphs">1.00</text>
<text x="1535.14" y="805.84" font-size="7.0" fill="#76983a" text-anchor="middle" textLength="14.1" lengthAdjust="spacingAndGlyphs">0.09</text>
<text x="1550.28" y="805.84" font-size="7.0" fill="#fff" text-anchor="middle" opacity="0.9" textLength="15.4" lengthAdjust="spacingAndGlyphs">-0.55</text>
<text x="1565.43" y="805.84" font-size="7.0" fill="#76983a" text-anchor="middle" textLength="14.1" lengthAdjust="spacingAndGlyphs">0.31</text>
<text x="1413.97" y="818.55" font-size="7.0" fill="#76983a" text-anchor="middle" textLength="14.1" lengthAdjust="spacingAndGlyphs">0.06</text>
<text x="1429.12" y="818.55" font-size="7.0" fill="#76983a" text-anchor="middle" textLength="15.4" lengthAdjust="spacingAndGlyphs">-0.01</text>
<text x="1444.26" y="818.55" font-size="7.0" fill="#76983a" text-anchor="middle" textLength="14.1" lengthAdjust="spacingAndGlyphs">0.59</text>
<text x="1459.41" y="818.55" font-size="7.0" fill="#76983a" text-anchor="middle" textLength="14.1" lengthAdjust="spacingAndGlyphs">0.59</text>
<text x="1474.55" y="818.55" font-size="7.0" fill="#76983a" text-anchor="middle" textLength="14.1" lengthAdjust="spacingAndGlyphs">0.41</text>
<text x="1489.70" y="818.55" font-size="7.0" fill="#76983a" text-anchor="middle" textLength="14.1" lengthAdjust="spacingAndGlyphs">0.33</text>
<text x="1504.85" y="818.55" font-size="7.0" fill="#76983a" text-anchor="middle" textLength="14.1" lengthAdjust="spacingAndGlyphs">0.21</text>
<text x="1519.99" y="818.55" font-size="7.0" fill="#76983a" text-anchor="middle" textLength="14.1" lengthAdjust="spacingAndGlyphs">0.09</text>
<text x="1535.14" y="818.55" font-size="7.0" fill="#fff" text-anchor="middle" opacity="0.9" textLength="14.1" lengthAdjust="spacingAndGlyphs">1.00</text>
<text x="1550.28" y="818.55" font-size="7.0" fill="#76983a" text-anchor="middle" textLength="14.1" lengthAdjust="spacingAndGlyphs">0.59</text>
<text x="1565.43" y="818.55" font-size="7.0" fill="#fff" text-anchor="middle" opacity="0.9" textLength="14.1" lengthAdjust="spacingAndGlyphs">0.89</text>
<text x="1413.97" y="831.26" font-size="7.0" fill="#fff" text-anchor="middle" opacity="0.9" textLength="15.4" lengthAdjust="spacingAndGlyphs">-0.41</text>
<text x="1429.12" y="831.26" font-size="7.0" fill="#76983a" text-anchor="middle" textLength="14.1" lengthAdjust="spacingAndGlyphs">0.02</text>
<text x="1444.26" y="831.26" font-size="7.0" fill="#fff" text-anchor="middle" opacity="0.9" textLength="14.1" lengthAdjust="spacingAndGlyphs">1.00</text>
<text x="1459.41" y="831.26" font-size="7.0" fill="#fff" text-anchor="middle" opacity="0.9" textLength="14.1" lengthAdjust="spacingAndGlyphs">1.00</text>
<text x="1474.55" y="831.26" font-size="7.0" fill="#fff" text-anchor="middle" opacity="0.9" textLength="15.4" lengthAdjust="spacingAndGlyphs">-0.38</text>
<text x="1489.70" y="831.26" font-size="7.0" fill="#fff" text-anchor="middle" opacity="0.9" textLength="15.4" lengthAdjust="spacingAndGlyphs">-0.40</text>
<text x="1504.85" y="831.26" font-size="7.0" fill="#fff" text-anchor="middle" opacity="0.9" textLength="15.4" lengthAdjust="spacingAndGlyphs">-0.53</text>
<text x="1519.99" y="831.26" font-size="7.0" fill="#fff" text-anchor="middle" opacity="0.9" textLength="15.4" lengthAdjust="spacingAndGlyphs">-0.55</text>
<text x="1535.14" y="831.26" font-size="7.0" fill="#76983a" text-anchor="middle" textLength="14.1" lengthAdjust="spacingAndGlyphs">0.59</text>
<text x="1550.28" y="831.26" font-size="7.0" fill="#fff" text-anchor="middle" opacity="0.9" textLength="14.1" lengthAdjust="spacingAndGlyphs">1.00</text>
<text x="1565.43" y="831.26" font-size="7.0" fill="#76983a" text-anchor="middle" textLength="14.1" lengthAdjust="spacingAndGlyphs">0.26</text>
<text x="1413.97" y="843.97" font-size="7.0" fill="#76983a" text-anchor="middle" textLength="14.1" lengthAdjust="spacingAndGlyphs">0.35</text>
<text x="1429.12" y="843.97" font-size="7.0" fill="#76983a" text-anchor="middle" textLength="15.4" lengthAdjust="spacingAndGlyphs">-0.02</text>
<text x="1444.26" y="843.97" font-size="7.0" fill="#76983a" text-anchor="middle" textLength="14.1" lengthAdjust="spacingAndGlyphs">0.26</text>
<text x="1459.41" y="843.97" font-size="7.0" fill="#76983a" text-anchor="middle" textLength="14.1" lengthAdjust="spacingAndGlyphs">0.26</text>
<text x="1474.55" y="843.97" font-size="7.0" fill="#fff" text-anchor="middle" opacity="0.9" textLength="14.1" lengthAdjust="spacingAndGlyphs">0.64</text>
<text x="1489.70" y="843.97" font-size="7.0" fill="#76983a" text-anchor="middle" textLength="14.1" lengthAdjust="spacingAndGlyphs">0.56</text>
<text x="1504.85" y="843.97" font-size="7.0" fill="#76983a" text-anchor="middle" textLength="14.1" lengthAdjust="spacingAndGlyphs">0.48</text>
<text x="1519.99" y="843.97" font-size="7.0" fill="#76983a" text-anchor="middle" textLength="14.1" lengthAdjust="spacingAndGlyphs">0.31</text>
<text x="1535.14" y="843.97" font-size="7.0" fill="#fff" text-anchor="middle" opacity="0.9" textLength="14.1" lengthAdjust="spacingAndGlyphs">0.89</text>
<text x="1550.28" y="843.97" font-size="7.0" fill="#76983a" text-anchor="middle" textLength="14.1" lengthAdjust="spacingAndGlyphs">0.26</text>
<text x="1565.43" y="843.97" font-size="7.0" fill="#fff" text-anchor="middle" opacity="0.9" textLength="14.1" lengthAdjust="spacingAndGlyphs">1.00</text>
<rect x="1584.3" y="708.0" width="6.6" height="139.8" fill="url(#gl3)"/>
<line x1="1590.9" y1="708.0" x2="1592.7" y2="708.0" stroke="#76983a" stroke-width="0.6"/>
<text x="1594.50" y="710.60" font-size="7.2" fill="#76983a" >1.0</text>
<line x1="1590.9" y1="726.0" x2="1592.7" y2="726.0" stroke="#76983a" stroke-width="0.6"/>
<text x="1594.50" y="728.64" font-size="7.2" fill="#76983a" >0.8</text>
<line x1="1590.9" y1="744.1" x2="1592.7" y2="744.1" stroke="#76983a" stroke-width="0.6"/>
<text x="1594.50" y="746.68" font-size="7.2" fill="#76983a" >0.6</text>
<line x1="1590.9" y1="762.1" x2="1592.7" y2="762.1" stroke="#76983a" stroke-width="0.6"/>
<text x="1594.50" y="764.72" font-size="7.2" fill="#76983a" >0.4</text>
<line x1="1590.9" y1="780.2" x2="1592.7" y2="780.2" stroke="#76983a" stroke-width="0.6"/>
<text x="1594.50" y="782.75" font-size="7.2" fill="#76983a" >0.2</text>
<line x1="1590.9" y1="798.2" x2="1592.7" y2="798.2" stroke="#76983a" stroke-width="0.6"/>
<text x="1594.50" y="800.79" font-size="7.2" fill="#76983a" >0.0</text>
<line x1="1590.9" y1="816.2" x2="1592.7" y2="816.2" stroke="#76983a" stroke-width="0.6"/>
<text x="1594.50" y="818.83" font-size="7.2" fill="#76983a" >−0.2</text>
<line x1="1590.9" y1="834.3" x2="1592.7" y2="834.3" stroke="#76983a" stroke-width="0.6"/>
<text x="1594.50" y="836.87" font-size="7.2" fill="#76983a" >−0.4</text>
<line x1="1404.4" y1="714.4" x2="1406.4" y2="714.4" stroke="#76983a" stroke-width="0.5"/>
<line x1="1414.0" y1="847.8" x2="1414.0" y2="849.8" stroke="#76983a" stroke-width="0.5"/>
<text x="1403.20" y="717.25" font-size="8.0" fill="#000" text-anchor="end" stroke="#000" stroke-width="0.25" textLength="9.7" lengthAdjust="spacingAndGlyphs">CD</text>
<text x="1413.37" y="858.40" font-size="7.8" fill="#000" text-anchor="middle" stroke="#000" stroke-width="0.15" textLength="9.7" lengthAdjust="spacingAndGlyphs">CD</text>
<line x1="1404.4" y1="727.1" x2="1406.4" y2="727.1" stroke="#76983a" stroke-width="0.5"/>
<line x1="1429.1" y1="847.8" x2="1429.1" y2="849.8" stroke="#76983a" stroke-width="0.5"/>
<text x="1403.20" y="729.96" font-size="8.0" fill="#000" text-anchor="end" stroke="#000" stroke-width="0.25" textLength="14.2" lengthAdjust="spacingAndGlyphs">CER</text>
<text x="1428.52" y="858.40" font-size="7.8" fill="#000" text-anchor="middle" stroke="#000" stroke-width="0.15" textLength="14.2" lengthAdjust="spacingAndGlyphs">CER</text>
<line x1="1404.4" y1="739.8" x2="1406.4" y2="739.8" stroke="#76983a" stroke-width="0.5"/>
<line x1="1444.3" y1="847.8" x2="1444.3" y2="849.8" stroke="#76983a" stroke-width="0.5"/>
<text x="1403.20" y="742.67" font-size="8.0" fill="#000" text-anchor="end" stroke="#000" stroke-width="0.25" textLength="9.3" lengthAdjust="spacingAndGlyphs">ED</text>
<text x="1443.66" y="858.40" font-size="7.8" fill="#000" text-anchor="middle" stroke="#000" stroke-width="0.15" textLength="9.3" lengthAdjust="spacingAndGlyphs">ED</text>
<line x1="1404.4" y1="752.5" x2="1406.4" y2="752.5" stroke="#76983a" stroke-width="0.5"/>
<line x1="1459.4" y1="847.8" x2="1459.4" y2="849.8" stroke="#76983a" stroke-width="0.5"/>
<text x="1403.20" y="755.38" font-size="8.0" fill="#000" text-anchor="end" stroke="#000" stroke-width="0.25" textLength="9.3" lengthAdjust="spacingAndGlyphs">PD</text>
<text x="1458.81" y="858.40" font-size="7.8" fill="#000" text-anchor="middle" stroke="#000" stroke-width="0.15" textLength="9.3" lengthAdjust="spacingAndGlyphs">PD</text>
<line x1="1404.4" y1="765.2" x2="1406.4" y2="765.2" stroke="#76983a" stroke-width="0.5"/>
<line x1="1474.6" y1="847.8" x2="1474.6" y2="849.8" stroke="#76983a" stroke-width="0.5"/>
<text x="1403.20" y="768.09" font-size="8.0" fill="#000" text-anchor="end" stroke="#000" stroke-width="0.25" textLength="17.2" lengthAdjust="spacingAndGlyphs">Pland</text>
<text x="1473.95" y="858.40" font-size="7.8" fill="#000" text-anchor="middle" stroke="#000" stroke-width="0.15" textLength="17.2" lengthAdjust="spacingAndGlyphs">Pland</text>
<line x1="1404.4" y1="777.9" x2="1406.4" y2="777.9" stroke="#76983a" stroke-width="0.5"/>
<line x1="1489.7" y1="847.8" x2="1489.7" y2="849.8" stroke="#76983a" stroke-width="0.5"/>
<text x="1403.20" y="780.80" font-size="8.0" fill="#000" text-anchor="end" stroke="#000" stroke-width="0.25" textLength="9.3" lengthAdjust="spacingAndGlyphs">CA</text>
<text x="1489.10" y="858.40" font-size="7.8" fill="#000" text-anchor="middle" stroke="#000" stroke-width="0.15" textLength="9.3" lengthAdjust="spacingAndGlyphs">CA</text>
<line x1="1404.4" y1="790.6" x2="1406.4" y2="790.6" stroke="#76983a" stroke-width="0.5"/>
<line x1="1504.8" y1="847.8" x2="1504.8" y2="849.8" stroke="#76983a" stroke-width="0.5"/>
<text x="1403.20" y="793.51" font-size="8.0" fill="#000" text-anchor="end" stroke="#000" stroke-width="0.25" textLength="10.1" lengthAdjust="spacingAndGlyphs">LPI</text>
<text x="1504.25" y="858.40" font-size="7.8" fill="#000" text-anchor="middle" stroke="#000" stroke-width="0.15" textLength="10.1" lengthAdjust="spacingAndGlyphs">LPI</text>
<line x1="1404.4" y1="803.3" x2="1406.4" y2="803.3" stroke="#76983a" stroke-width="0.5"/>
<line x1="1520.0" y1="847.8" x2="1520.0" y2="849.8" stroke="#76983a" stroke-width="0.5"/>
<text x="1403.20" y="806.22" font-size="8.0" fill="#000" text-anchor="end" stroke="#000" stroke-width="0.25" textLength="10.5" lengthAdjust="spacingAndGlyphs">MN</text>
<text x="1519.39" y="858.40" font-size="7.8" fill="#000" text-anchor="middle" stroke="#000" stroke-width="0.15" textLength="10.4" lengthAdjust="spacingAndGlyphs">MN</text>
<line x1="1404.4" y1="816.0" x2="1406.4" y2="816.0" stroke="#76983a" stroke-width="0.5"/>
<line x1="1535.1" y1="847.8" x2="1535.1" y2="849.8" stroke="#76983a" stroke-width="0.5"/>
<text x="1403.20" y="818.93" font-size="8.0" fill="#000" text-anchor="end" stroke="#000" stroke-width="0.25" textLength="10.1" lengthAdjust="spacingAndGlyphs">LSI</text>
<text x="1534.54" y="858.40" font-size="7.8" fill="#000" text-anchor="middle" stroke="#000" stroke-width="0.15" textLength="10.1" lengthAdjust="spacingAndGlyphs">LSI</text>
<line x1="1404.4" y1="828.7" x2="1406.4" y2="828.7" stroke="#76983a" stroke-width="0.5"/>
<line x1="1550.3" y1="847.8" x2="1550.3" y2="849.8" stroke="#76983a" stroke-width="0.5"/>
<text x="1403.20" y="831.64" font-size="8.0" fill="#000" text-anchor="end" stroke="#000" stroke-width="0.25" textLength="9.3" lengthAdjust="spacingAndGlyphs">NP</text>
<text x="1549.68" y="858.40" font-size="7.8" fill="#000" text-anchor="middle" stroke="#000" stroke-width="0.15" textLength="9.3" lengthAdjust="spacingAndGlyphs">NP</text>
<line x1="1404.4" y1="841.4" x2="1406.4" y2="841.4" stroke="#76983a" stroke-width="0.5"/>
<line x1="1565.4" y1="847.8" x2="1565.4" y2="849.8" stroke="#76983a" stroke-width="0.5"/>
<text x="1403.20" y="844.35" font-size="8.0" fill="#000" text-anchor="end" stroke="#000" stroke-width="0.25" textLength="16.1" lengthAdjust="spacingAndGlyphs">SHID</text>
<text x="1564.83" y="858.40" font-size="7.8" fill="#000" text-anchor="middle" stroke="#000" stroke-width="0.15" textLength="16.0" lengthAdjust="spacingAndGlyphs">SHID</text>
<defs><linearGradient id="gb3" x1="0" y1="0" x2="0" y2="1"><stop offset="0.000" stop-color="#8aa74d"/><stop offset="0.042" stop-color="#96b05f"/><stop offset="0.083" stop-color="#a1b86f"/><stop offset="0.125" stop-color="#abc07f"/><stop offset="0.167" stop-color="#b5c78f"/><stop offset="0.208" stop-color="#bfce9d"/><stop offset="0.250" stop-color="#c7d5aa"/><stop offset="0.292" stop-color="#cfdbb6"/><stop offset="0.333" stop-color="#d7e0c1"/><stop offset="0.375" stop-color="#dde5cb"/><stop offset="0.417" stop-color="#e3e9d3"/><stop offset="0.458" stop-color="#e7ecda"/><stop offset="0.500" stop-color="#e9eedd"/><stop offset="0.542" stop-color="#e7edda"/><stop offset="0.583" stop-color="#e4ead5"/><stop offset="0.625" stop-color="#dfe7ce"/><stop offset="0.667" stop-color="#dae3c6"/><stop offset="0.708" stop-color="#d4dfbc"/><stop offset="0.750" stop-color="#cddbb2"/><stop offset="0.792" stop-color="#c6d5a7"/><stop offset="0.833" stop-color="#bfd09b"/><stop offset="0.875" stop-color="#b6ca8e"/><stop offset="0.917" stop-color="#aec481"/><stop offset="0.958" stop-color="#a5be73"/><stop offset="1.000" stop-color="#9bb764"/></linearGradient></defs>
<rect x="1636.80" y="707.40" width="27.95" height="22.38" fill="#8aa74d"/>
<rect x="1664.50" y="707.40" width="27.95" height="22.38" fill="#bbce96"/>
<rect x="1692.20" y="707.40" width="27.95" height="22.38" fill="#e8eddb"/>
<rect x="1719.90" y="707.40" width="27.95" height="22.38" fill="#e7edda"/>
<rect x="1747.60" y="707.40" width="27.95" height="22.38" fill="#9bb764"/>
<rect x="1775.30" y="707.40" width="27.95" height="22.38" fill="#e3ead3"/>
<rect x="1636.80" y="729.53" width="27.95" height="22.38" fill="#bbce96"/>
<rect x="1664.50" y="729.53" width="27.95" height="22.38" fill="#8aa74d"/>
<rect x="1692.20" y="729.53" width="27.95" height="22.38" fill="#d8e2c2"/>
<rect x="1719.90" y="729.53" width="27.95" height="22.38" fill="#d9e3c5"/>
<rect x="1747.60" y="729.53" width="27.95" height="22.38" fill="#d8e1c3"/>
<rect x="1775.30" y="729.53" width="27.95" height="22.38" fill="#dce5c9"/>
<rect x="1636.80" y="751.67" width="27.95" height="22.38" fill="#e8eddb"/>
<rect x="1664.50" y="751.67" width="27.95" height="22.38" fill="#d8e2c2"/>
<rect x="1692.20" y="751.67" width="27.95" height="22.38" fill="#8aa74d"/>
<rect x="1719.90" y="751.67" width="27.95" height="22.38" fill="#abc080"/>
<rect x="1747.60" y="751.67" width="27.95" height="22.38" fill="#dee6cc"/>
<rect x="1775.30" y="751.67" width="27.95" height="22.38" fill="#b3c58b"/>
<rect x="1636.80" y="773.80" width="27.95" height="22.38" fill="#e7edda"/>
<rect x="1664.50" y="773.80" width="27.95" height="22.38" fill="#d9e3c5"/>
<rect x="1692.20" y="773.80" width="27.95" height="22.38" fill="#abc080"/>
<rect x="1719.90" y="773.80" width="27.95" height="22.38" fill="#8aa74d"/>
<rect x="1747.60" y="773.80" width="27.95" height="22.38" fill="#e0e7ce"/>
<rect x="1775.30" y="773.80" width="27.95" height="22.38" fill="#92ad5a"/>
<rect x="1636.80" y="795.93" width="27.95" height="22.38" fill="#9bb764"/>
<rect x="1664.50" y="795.93" width="27.95" height="22.38" fill="#d8e1c3"/>
<rect x="1692.20" y="795.93" width="27.95" height="22.38" fill="#dee6cc"/>
<rect x="1719.90" y="795.93" width="27.95" height="22.38" fill="#e0e7ce"/>
<rect x="1747.60" y="795.93" width="27.95" height="22.38" fill="#8aa74d"/>
<rect x="1775.30" y="795.93" width="27.95" height="22.38" fill="#e7edda"/>
<rect x="1636.80" y="818.07" width="27.95" height="22.38" fill="#e3ead3"/>
<rect x="1664.50" y="818.07" width="27.95" height="22.38" fill="#dce5c9"/>
<rect x="1692.20" y="818.07" width="27.95" height="22.38" fill="#b3c58b"/>
<rect x="1719.90" y="818.07" width="27.95" height="22.38" fill="#92ad5a"/>
<rect x="1747.60" y="818.07" width="27.95" height="22.38" fill="#e7edda"/>
<rect x="1775.30" y="818.07" width="27.95" height="22.38" fill="#8aa74d"/>
<text x="1650.65" y="720.99" font-size="7.0" fill="#fff" text-anchor="middle" opacity="0.92" >1.00</text>
<text x="1678.35" y="720.99" font-size="7.0" fill="#fff" text-anchor="middle" opacity="0.92" >-0.42</text>
<text x="1706.05" y="720.99" font-size="7.0" fill="#76983a" text-anchor="middle" >0.11</text>
<text x="1733.75" y="720.99" font-size="7.0" fill="#76983a" text-anchor="middle" >0.09</text>
<text x="1761.45" y="720.99" font-size="7.0" fill="#fff" text-anchor="middle" opacity="0.92" >-0.67</text>
<text x="1789.15" y="720.99" font-size="7.0" fill="#76983a" text-anchor="middle" >0.01</text>
<text x="1650.65" y="743.12" font-size="7.0" fill="#fff" text-anchor="middle" opacity="0.92" >-0.42</text>
<text x="1678.35" y="743.12" font-size="7.0" fill="#fff" text-anchor="middle" opacity="0.92" >1.00</text>
<text x="1706.05" y="743.12" font-size="7.0" fill="#76983a" text-anchor="middle" >-0.14</text>
<text x="1733.75" y="743.12" font-size="7.0" fill="#76983a" text-anchor="middle" >-0.12</text>
<text x="1761.45" y="743.12" font-size="7.0" fill="#76983a" text-anchor="middle" >0.43</text>
<text x="1789.15" y="743.12" font-size="7.0" fill="#76983a" text-anchor="middle" >-0.09</text>
<text x="1650.65" y="765.25" font-size="7.0" fill="#76983a" text-anchor="middle" >0.11</text>
<text x="1678.35" y="765.25" font-size="7.0" fill="#76983a" text-anchor="middle" >-0.14</text>
<text x="1706.05" y="765.25" font-size="7.0" fill="#fff" text-anchor="middle" opacity="0.92" >1.00</text>
<text x="1733.75" y="765.25" font-size="7.0" fill="#fff" text-anchor="middle" opacity="0.92" >0.79</text>
<text x="1761.45" y="765.25" font-size="7.0" fill="#76983a" text-anchor="middle" >-0.06</text>
<text x="1789.15" y="765.25" font-size="7.0" fill="#fff" text-anchor="middle" opacity="0.92" >0.74</text>
<text x="1650.65" y="787.39" font-size="7.0" fill="#76983a" text-anchor="middle" >0.09</text>
<text x="1678.35" y="787.39" font-size="7.0" fill="#76983a" text-anchor="middle" >-0.12</text>
<text x="1706.05" y="787.39" font-size="7.0" fill="#fff" text-anchor="middle" opacity="0.92" >0.79</text>
<text x="1733.75" y="787.39" font-size="7.0" fill="#fff" text-anchor="middle" opacity="0.92" >1.00</text>
<text x="1761.45" y="787.39" font-size="7.0" fill="#76983a" text-anchor="middle" >-0.04</text>
<text x="1789.15" y="787.39" font-size="7.0" fill="#fff" text-anchor="middle" opacity="0.92" >0.95</text>
<text x="1650.65" y="809.52" font-size="7.0" fill="#fff" text-anchor="middle" opacity="0.92" >-0.67</text>
<text x="1678.35" y="809.52" font-size="7.0" fill="#76983a" text-anchor="middle" >0.43</text>
<text x="1706.05" y="809.52" font-size="7.0" fill="#76983a" text-anchor="middle" >-0.06</text>
<text x="1733.75" y="809.52" font-size="7.0" fill="#76983a" text-anchor="middle" >-0.04</text>
<text x="1761.45" y="809.52" font-size="7.0" fill="#fff" text-anchor="middle" opacity="0.92" >1.00</text>
<text x="1789.15" y="809.52" font-size="7.0" fill="#76983a" text-anchor="middle" >0.10</text>
<text x="1650.65" y="831.65" font-size="7.0" fill="#76983a" text-anchor="middle" >0.01</text>
<text x="1678.35" y="831.65" font-size="7.0" fill="#76983a" text-anchor="middle" >-0.09</text>
<text x="1706.05" y="831.65" font-size="7.0" fill="#fff" text-anchor="middle" opacity="0.92" >0.74</text>
<text x="1733.75" y="831.65" font-size="7.0" fill="#fff" text-anchor="middle" opacity="0.92" >0.95</text>
<text x="1761.45" y="831.65" font-size="7.0" fill="#76983a" text-anchor="middle" >0.10</text>
<text x="1789.15" y="831.65" font-size="7.0" fill="#fff" text-anchor="middle" opacity="0.92" >1.00</text>
<rect x="1813.3" y="707.4" width="6.5" height="132.8" fill="url(#gb3)"/>
<line x1="1819.8" y1="707.4" x2="1821.6" y2="707.4" stroke="#76983a" stroke-width="0.6"/>
<text x="1823.40" y="710.00" font-size="7.2" fill="#76983a" >1.0</text>
<line x1="1819.8" y1="723.3" x2="1821.6" y2="723.3" stroke="#76983a" stroke-width="0.6"/>
<text x="1823.40" y="725.90" font-size="7.2" fill="#76983a" >0.8</text>
<line x1="1819.8" y1="739.2" x2="1821.6" y2="739.2" stroke="#76983a" stroke-width="0.6"/>
<text x="1823.40" y="741.81" font-size="7.2" fill="#76983a" >0.6</text>
<line x1="1819.8" y1="755.1" x2="1821.6" y2="755.1" stroke="#76983a" stroke-width="0.6"/>
<text x="1823.40" y="757.71" font-size="7.2" fill="#76983a" >0.4</text>
<line x1="1819.8" y1="771.0" x2="1821.6" y2="771.0" stroke="#76983a" stroke-width="0.6"/>
<text x="1823.40" y="773.62" font-size="7.2" fill="#76983a" >0.2</text>
<line x1="1819.8" y1="786.9" x2="1821.6" y2="786.9" stroke="#76983a" stroke-width="0.6"/>
<text x="1823.40" y="789.52" font-size="7.2" fill="#76983a" >0.0</text>
<line x1="1819.8" y1="802.8" x2="1821.6" y2="802.8" stroke="#76983a" stroke-width="0.6"/>
<text x="1823.40" y="805.43" font-size="7.2" fill="#76983a" >−0.2</text>
<line x1="1819.8" y1="818.7" x2="1821.6" y2="818.7" stroke="#76983a" stroke-width="0.6"/>
<text x="1823.40" y="821.33" font-size="7.2" fill="#76983a" >−0.4</text>
<line x1="1819.8" y1="834.6" x2="1821.6" y2="834.6" stroke="#76983a" stroke-width="0.6"/>
<text x="1823.40" y="837.23" font-size="7.2" fill="#76983a" >−0.6</text>
<line x1="1634.8" y1="718.5" x2="1636.8" y2="718.5" stroke="#76983a" stroke-width="0.5"/>
<line x1="1650.6" y1="840.2" x2="1650.6" y2="842.2" stroke="#76983a" stroke-width="0.5"/>
<text x="1633.80" y="721.67" font-size="8.0" fill="#000" text-anchor="end" stroke="#000" stroke-width="0.2" textLength="19.4" lengthAdjust="spacingAndGlyphs">Height</text>
<text x="1653.25" y="844.60" font-size="7.6" fill="#111" text-anchor="end" transform="rotate(-90 1653.25 844.60)" textLength="17.8" lengthAdjust="spacingAndGlyphs">Height</text>
<line x1="1634.8" y1="740.6" x2="1636.8" y2="740.6" stroke="#76983a" stroke-width="0.5"/>
<line x1="1678.3" y1="840.2" x2="1678.3" y2="842.2" stroke="#76983a" stroke-width="0.5"/>
<text x="1633.80" y="743.80" font-size="8.0" fill="#000" text-anchor="end" stroke="#000" stroke-width="0.2" textLength="20.6" lengthAdjust="spacingAndGlyphs">Length</text>
<text x="1680.95" y="844.60" font-size="7.6" fill="#111" text-anchor="end" transform="rotate(-90 1680.95 844.60)" textLength="18.8" lengthAdjust="spacingAndGlyphs">Length</text>
<line x1="1634.8" y1="762.7" x2="1636.8" y2="762.7" stroke="#76983a" stroke-width="0.5"/>
<line x1="1706.0" y1="840.2" x2="1706.0" y2="842.2" stroke="#76983a" stroke-width="0.5"/>
<text x="1633.80" y="765.93" font-size="8.0" fill="#000" text-anchor="end" stroke="#000" stroke-width="0.2" textLength="22.4" lengthAdjust="spacingAndGlyphs">Density</text>
<text x="1708.65" y="844.60" font-size="7.6" fill="#111" text-anchor="end" transform="rotate(-90 1708.65 844.60)" textLength="20.5" lengthAdjust="spacingAndGlyphs">Density</text>
<line x1="1634.8" y1="784.9" x2="1636.8" y2="784.9" stroke="#76983a" stroke-width="0.5"/>
<line x1="1733.8" y1="840.2" x2="1733.8" y2="842.2" stroke="#76983a" stroke-width="0.5"/>
<text x="1633.80" y="788.07" font-size="8.0" fill="#000" text-anchor="end" stroke="#000" stroke-width="0.2" textLength="14.2" lengthAdjust="spacingAndGlyphs">Area</text>
<text x="1736.35" y="844.60" font-size="7.6" fill="#111" text-anchor="end" transform="rotate(-90 1736.35 844.60)" textLength="13.0" lengthAdjust="spacingAndGlyphs">Area</text>
<line x1="1634.8" y1="807.0" x2="1636.8" y2="807.0" stroke="#76983a" stroke-width="0.5"/>
<line x1="1761.5" y1="840.2" x2="1761.5" y2="842.2" stroke="#76983a" stroke-width="0.5"/>
<text x="1633.80" y="810.20" font-size="8.0" fill="#000" text-anchor="end" stroke="#000" stroke-width="0.2" textLength="9.7" lengthAdjust="spacingAndGlyphs">CD</text>
<text x="1764.05" y="844.60" font-size="7.6" fill="#111" text-anchor="end" transform="rotate(-90 1764.05 844.60)" textLength="8.9" lengthAdjust="spacingAndGlyphs">CD</text>
<line x1="1634.8" y1="829.1" x2="1636.8" y2="829.1" stroke="#76983a" stroke-width="0.5"/>
<line x1="1789.2" y1="840.2" x2="1789.2" y2="842.2" stroke="#76983a" stroke-width="0.5"/>
<text x="1633.80" y="832.33" font-size="8.0" fill="#000" text-anchor="end" stroke="#000" stroke-width="0.2" textLength="14.2" lengthAdjust="spacingAndGlyphs">CER</text>
<text x="1791.75" y="844.60" font-size="7.6" fill="#111" text-anchor="end" transform="rotate(-90 1791.75 844.60)" textLength="13.0" lengthAdjust="spacingAndGlyphs">CER</text>
<rect x="1193.5" y="701.4" width="648" height="166.9" fill="none" stroke="#a9b393" stroke-width="1.1" stroke-dasharray="4.6 2.4"/>
</svg>
</body></html>
